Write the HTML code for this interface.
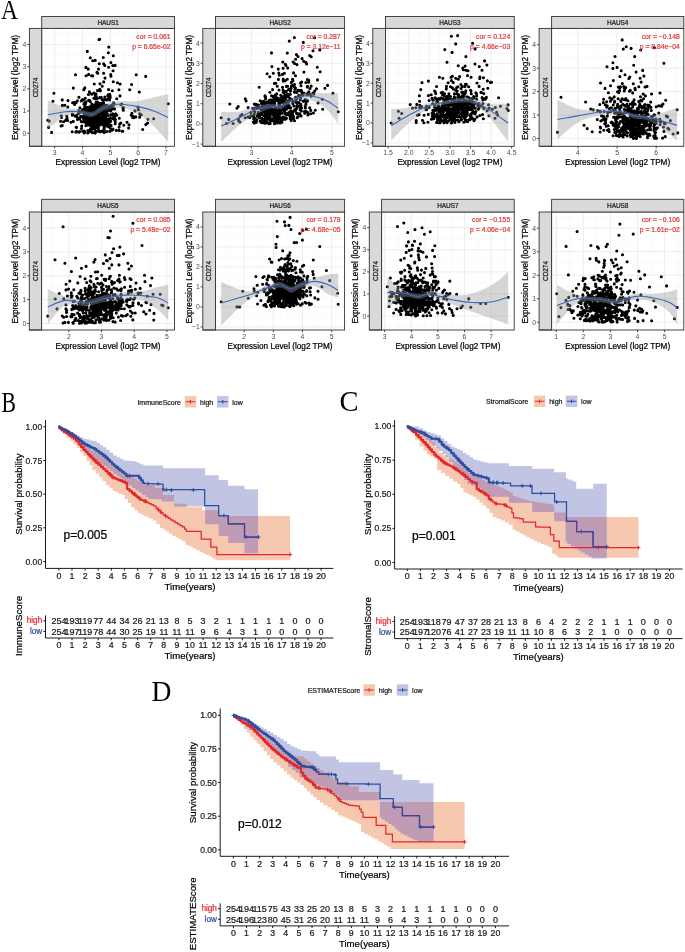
<!DOCTYPE html><html><head><meta charset="utf-8"><style>html,body{margin:0;padding:0;background:#fff;width:685px;height:952px;overflow:hidden}svg{display:block;will-change:transform;filter:blur(0.35px)}text{font-family:"Liberation Sans", sans-serif}</style></head><body>
<svg width="685" height="952" viewBox="0 0 685 952">
<rect width="685" height="952" fill="#fff"/>
<text transform="translate(0.9 18.8) scale(0.85 1)" style='font-family:"Liberation Serif", serif' font-size="27.7" fill="#000">A</text>
<rect x="41.7" y="28.4" width="132.8" height="117.9" fill="#fff"/>
<clipPath id="cHAUS1"><rect x="41.7" y="28.4" width="132.8" height="117.9"/></clipPath>
<line x1="54.7" y1="28.4" x2="54.7" y2="146.3" stroke="#ebebeb" stroke-width="0.9"/>
<line x1="68.6" y1="28.4" x2="68.6" y2="146.3" stroke="#f3f3f3" stroke-width="0.5"/>
<line x1="82.5" y1="28.4" x2="82.5" y2="146.3" stroke="#ebebeb" stroke-width="0.9"/>
<line x1="96.4" y1="28.4" x2="96.4" y2="146.3" stroke="#f3f3f3" stroke-width="0.5"/>
<line x1="110.3" y1="28.4" x2="110.3" y2="146.3" stroke="#ebebeb" stroke-width="0.9"/>
<line x1="124.2" y1="28.4" x2="124.2" y2="146.3" stroke="#f3f3f3" stroke-width="0.5"/>
<line x1="138.1" y1="28.4" x2="138.1" y2="146.3" stroke="#ebebeb" stroke-width="0.9"/>
<line x1="152" y1="28.4" x2="152" y2="146.3" stroke="#f3f3f3" stroke-width="0.5"/>
<line x1="165.9" y1="28.4" x2="165.9" y2="146.3" stroke="#ebebeb" stroke-width="0.9"/>
<line x1="41.7" y1="144.3" x2="174.5" y2="144.3" stroke="#f3f3f3" stroke-width="0.5"/>
<line x1="41.7" y1="133.2" x2="174.5" y2="133.2" stroke="#ebebeb" stroke-width="0.9"/>
<line x1="41.7" y1="122.1" x2="174.5" y2="122.1" stroke="#f3f3f3" stroke-width="0.5"/>
<line x1="41.7" y1="111" x2="174.5" y2="111" stroke="#ebebeb" stroke-width="0.9"/>
<line x1="41.7" y1="100" x2="174.5" y2="100" stroke="#f3f3f3" stroke-width="0.5"/>
<line x1="41.7" y1="88.9" x2="174.5" y2="88.9" stroke="#ebebeb" stroke-width="0.9"/>
<line x1="41.7" y1="77.8" x2="174.5" y2="77.8" stroke="#f3f3f3" stroke-width="0.5"/>
<line x1="41.7" y1="66.8" x2="174.5" y2="66.8" stroke="#ebebeb" stroke-width="0.9"/>
<line x1="41.7" y1="55.7" x2="174.5" y2="55.7" stroke="#f3f3f3" stroke-width="0.5"/>
<line x1="41.7" y1="44.6" x2="174.5" y2="44.6" stroke="#ebebeb" stroke-width="0.9"/>
<line x1="41.7" y1="33.5" x2="174.5" y2="33.5" stroke="#f3f3f3" stroke-width="0.5"/>
<path d="M99.5 112.4h0M103.7 116.4h0M113 129.1h0M91.7 94.3h0M104.5 105.4h0M120 95.9h0M91.6 112.9h0M103 106.5h0M99.8 89.2h0M99.2 90.6h0M104.1 130h0M133.7 117.7h0M89.8 122.4h0M95 118h0M85.9 119.1h0M86.1 75.8h0M106.3 122.5h0M65.6 120.3h0M89.4 91.8h0M94.1 119.1h0M96.5 111.3h0M93.9 115.4h0M107.9 115.6h0M105.4 125.7h0M72.3 114h0M79.6 118.9h0M94.8 110.7h0M68 100.6h0M141.3 114.8h0M98.3 111.1h0M100 83.7h0M86.5 117.2h0M64.8 105.2h0M110.4 118h0M102.2 123.4h0M82.7 116.5h0M84.3 120h0M60.6 121.2h0M106.6 99.9h0M98.5 106.3h0M81.7 126.1h0M90.3 121.8h0M95.8 123h0M88 107.2h0M95.5 120.4h0M97.2 106.4h0M114.4 115.9h0M91.9 118.3h0M72.2 131.7h0M108.8 47.1h0M99.3 113.1h0M89.1 114.6h0M102.9 118.8h0M110.8 121.2h0M104.2 128.9h0M86.9 109.9h0M105.3 115.3h0M96.2 121.1h0M103.3 57.5h0M93.6 117h0M96.9 118.7h0M98.8 103.3h0M138.5 109.8h0M89.9 123.4h0M98.2 127.7h0M92.2 120.2h0M123.8 125.2h0M103.2 117.1h0M112.3 90.7h0M109.6 100h0M107.3 113.9h0M93.8 119.7h0M89.2 112.8h0M97.5 90.5h0M98.7 118.5h0M96.7 110.7h0M66.8 116.3h0M128.6 128.1h0M110.1 96h0M92.4 132.3h0M72.6 102.7h0M121.8 104h0M90 119.3h0M85.8 101.9h0M103 99.7h0M83.9 89.8h0M90.7 122.5h0M96.4 111.3h0M100.4 90.7h0M100.6 118h0M104.2 113.9h0M98.7 120.6h0M101.6 105.4h0M96.7 103.5h0M105.8 105.2h0M131.6 84.5h0M95.2 130.5h0M108.6 106.6h0M85.3 98.3h0M120.9 104.5h0M82.7 111.9h0M104.1 123.1h0M95.3 112.8h0M102.4 107.7h0M96.8 106.2h0M99.8 120.7h0M88.6 112.1h0M94.1 121h0M122.2 131.2h0M95.4 106.1h0M90.3 129.4h0M147.9 119.2h0M63.6 121.7h0M104 120.6h0M117.5 82.8h0M84.2 131h0M99.5 113.1h0M100.6 117.5h0M77.6 118.1h0M137.9 107.1h0M110 107.7h0M84.6 102.8h0M74.5 102.2h0M101.9 113.7h0M84.8 131.9h0M87.5 116.3h0M89.5 118h0M88 117.5h0M88.9 123.4h0M91.9 125.9h0M93.3 110.9h0M101.1 109.1h0M92.8 127.9h0M98.9 113h0M94.8 119.4h0M88.9 121.6h0M102.8 111.6h0M93 106.7h0M96.5 122.8h0M86.4 117.7h0M111.9 130.3h0M86.2 123.5h0M95.9 121.8h0M99.1 105.9h0M61.6 117.5h0M75.3 116.2h0M94.4 123.4h0M67.6 120.4h0M98.9 111.9h0M97.3 98.5h0M103.8 124.5h0M84.5 115.4h0M87 109.1h0M88.4 118.5h0M119.7 124.1h0M91.7 108.7h0M100.7 105h0M92.7 127.3h0M77.4 100.8h0M96.4 123.1h0M104.4 114.5h0M94.3 116.5h0M86.2 112.8h0M98.5 121.5h0M81.4 101h0M101.9 103.4h0M113.9 118.3h0M91.8 104.1h0M91.6 75.8h0M95.3 107h0M95.8 111.3h0M95.3 98.6h0M96.1 110.9h0M97.9 116.7h0M77 116.5h0M109.1 124.3h0M91.3 131.3h0M115.4 119.6h0M93.3 127.7h0M108.1 94.8h0M62.3 105.4h0M95.3 95.5h0M88.1 123.3h0M105.4 99.6h0M87.8 132.9h0M99 39.6h0M89.5 125.3h0M97.2 126.6h0M82.6 117.4h0M97.9 116.4h0M90.2 101.4h0M110.9 108.8h0M100.3 107.2h0M72.3 115.2h0M96.8 119.4h0M94.7 106.5h0M75.9 132.1h0M97.9 125.8h0M101.3 121.3h0M93.3 111.5h0M93.8 93.1h0M111 129.8h0M86.9 116.5h0M103.5 103.4h0M110.2 97.6h0M96.2 121.8h0M111 76.2h0M113 129.4h0M87.8 119.2h0M93.8 124.7h0M84.5 108.6h0M90.6 124h0M94.3 116.5h0M91.4 117h0M95.2 133.1h0M105.8 119.3h0M102 99.6h0M108.3 52.8h0M93.4 111.3h0M95.6 96.9h0M104.8 97h0M103.1 124.7h0M93.5 110.1h0M115.2 123.8h0M89.5 109.3h0M107.9 106.5h0M96.2 102.1h0M101 114.1h0M109.3 118.7h0M88.6 100.4h0M88.7 111h0M100 122.5h0M103.6 73.2h0M107.1 125.9h0M79.9 107.8h0M104.7 65.4h0M83.8 117.2h0M103.3 115.2h0M145.8 124.6h0M92.9 108h0M89.7 92.2h0M94.8 126.1h0M98.2 124.3h0M82.1 99.7h0M112.5 107.3h0M91 119.9h0M82.7 131.3h0M95.2 60.4h0M76.3 115.6h0M106 108.4h0M73.3 121.4h0M67 117.9h0M98.6 115.8h0M113.6 108.1h0M109.9 131.2h0M92.2 116.9h0M88.7 114.8h0M97.1 109.7h0M111.2 105.3h0M94.4 128h0M88.7 123.5h0M79 132.2h0M131.2 115.3h0M87.2 116.7h0M110.7 74.6h0M76.5 127.4h0M102 104.6h0M109.7 94.2h0M104.4 116.3h0M103.5 102.4h0M93.8 98.3h0M97.9 131h0M103.5 110.8h0M96.5 107.2h0M90.2 122.3h0M89.9 131.4h0M83.3 99.7h0M75.5 74.7h0M80.6 116.2h0M62.3 125.5h0M73.1 114.8h0M92.4 124h0M111.1 125.4h0M85.5 110.6h0M88.3 132.4h0M100.3 131.6h0M109.8 121.7h0M98.5 69.1h0M84 104.2h0M97 72.4h0M123.2 108.4h0M105.3 112.7h0M97.7 115.8h0M103.4 114.8h0M92.3 124.7h0M104.7 110.8h0M89.4 109h0M99.3 63.8h0M99.7 108.5h0M93.6 126.6h0M91.1 129h0M95 115.3h0M92.1 117.7h0M114.1 104.5h0M97.6 119.4h0M93.8 121.4h0M139.6 117.2h0M87.3 51.4h0M99.3 109.9h0M112.7 104.7h0M135 110.9h0M89.2 108.3h0M129 124.8h0M89.2 124.3h0M113.8 118.1h0M97 121.9h0M83.9 121.7h0M96.1 126.4h0M122.8 107.6h0M108.8 110.2h0M82.8 110.2h0M77.5 119.5h0M108.5 89.6h0M93 126.4h0M108.6 126.7h0M87.1 123.3h0M88.2 113.2h0M108.3 119.1h0M91.8 128.4h0M95.1 98.6h0M115.7 113.8h0M73.3 88.1h0M100.6 123.9h0M84.5 118h0M102.1 121.7h0M87.4 121.3h0M100.7 118.8h0M110.6 111h0M76.1 102.6h0M98.7 104.3h0M86.6 112.9h0M101.7 121.5h0M84.7 121.3h0M92 120.6h0M98.2 107.9h0M120.8 123h0M97.1 115.8h0M88.2 69.1h0M135.7 116.9h0M98.5 106.3h0M94.3 84h0M81.4 128.5h0M103.9 106.4h0M97.8 73.2h0M101.2 97.2h0M96 93.8h0M113.1 70.8h0M87 108h0M83.9 89.6h0M92 112.6h0M102.4 115.5h0M105.3 106.5h0M89.9 108.3h0M147.6 123.1h0M67.8 107h0M107 111.2h0M102.7 116.5h0M85.6 106.9h0M102.6 109.7h0M95.2 105.3h0M115.3 122h0M81.5 111.2h0M91.6 128.1h0M113.1 118.7h0M84.3 132.9h0M90.3 57.7h0M101 114.1h0M108.4 107.6h0M133 116.2h0M78.4 113.5h0M101 104.5h0M109.9 125.6h0M108.6 67.2h0M99.7 39.3h0M88.4 123h0M110.2 118.8h0M70.9 122.2h0M106.5 123.6h0M101.6 120.9h0M89.7 116.3h0M52.9 101.2h0M103.3 125.2h0M95.4 113.5h0M116.4 130.4h0M114 103.5h0M81.3 121.6h0M113.4 116.4h0M98.5 106.8h0M145.7 76.4h0M107.8 95.7h0M84.2 113.6h0M89.3 100.4h0M98.7 103.4h0M102.7 116.6h0M80.4 112.1h0M93.7 108.6h0M104.8 119.1h0M108.2 98.7h0M106.9 131.5h0M110.9 62.6h0M76.1 127.3h0M103.2 119.2h0M85.8 122.3h0M103.6 63.8h0M85.9 122.8h0M105.8 122h0M104.1 132.5h0M114.6 117.9h0M104.4 115.2h0M97.5 123.4h0M96.5 105.9h0M96.9 123.8h0M113.6 102.7h0M101.9 116.3h0M61.2 115.8h0M114.9 120.2h0M86.9 122.9h0M91 126.1h0M99 104.4h0M90.5 106.9h0M118.9 89.7h0M91.9 118.5h0M112.8 65.6h0M122.8 131.2h0M94.7 129.1h0M114.5 108.9h0M101.6 124.1h0M62.2 99.9h0M99.7 97.5h0M92.5 113.1h0M91.5 111.5h0M88.4 94.5h0M94.2 106.7h0M120.1 84h0M103.8 129.1h0M99.6 103.3h0M92.6 123.2h0M96.9 118.7h0M104.3 127h0M115.4 114.3h0M104.5 124.4h0M84.8 87.9h0M85.9 67.4h0M92.1 107.7h0M92.4 132.7h0M94.8 114.2h0M98.1 116h0M112.7 113.7h0M96.9 127.2h0M108.5 108.6h0M112.1 109.1h0M97.1 116.7h0M110.7 114.9h0M129.7 89.8h0M92.7 112.6h0M98.8 125.3h0M96.6 113.2h0M131.9 113.4h0M76.5 131.3h0M97.7 125h0M98.7 119.1h0M93 104.9h0M96.3 107.3h0M82.9 118.1h0M98.7 122.5h0M87.9 130.5h0M119.3 118.2h0M127 122.3h0M96.1 108.8h0M113.9 118.6h0M94.3 108.8h0M100.9 117.2h0M113.3 81.7h0M139.7 113.9h0M119.1 127.1h0M95.6 132.1h0M105.3 113.5h0M92.7 60.7h0M95.2 108.3h0M97.1 115.4h0M85.9 125.6h0M97.8 116.1h0M106.3 106.3h0M98.8 119.7h0M97.9 127.5h0M93 124.1h0M99.6 125.2h0M92.6 128.7h0M98.5 129.5h0M96.7 114.4h0M99.5 107.3h0M102.2 86.2h0M116.7 98.7h0M86.8 110.4h0M85.7 103.6h0M105.2 119.5h0M78.9 97.2h0M102.3 114.2h0M101.6 117.1h0M98.7 115.4h0M84.8 107h0M91 122.1h0M92.2 116.4h0M88.7 74.4h0M49.2 121.1h0M98.5 124h0M103.6 124.6h0M98.6 120h0M103 121.9h0M86.9 115.1h0M104.8 110.7h0M101.5 131.2h0M82.2 109.7h0M110.1 128.1h0M116.8 115.3h0M89.6 112.1h0M108.5 123.5h0M108.8 119.8h0M109.4 124.6h0M78.7 110.8h0M96.2 120.2h0M108 126.4h0M119.2 130.4h0M97.5 102h0M90 106.8h0M110.5 108.3h0M101.4 112.1h0M113.1 115.4h0M61.1 126h0M91.1 106.2h0M96.6 112.6h0M105.2 125.3h0M105 78.1h0M103.1 123.5h0M95.6 108.6h0M92.7 75.9h0M74.6 104.5h0M86.7 125.3h0M97.5 121.3h0M107.2 105.5h0M86.4 116.5h0M81.6 111.8h0M94.2 107.3h0M83.1 121.8h0M105 118h0M108.1 120.9h0M103.5 121.6h0M51.6 132.4h0M95.9 103.7h0M98.5 116.8h0M79.7 131.5h0M123.5 107.7h0M105.7 117.2h0M104.7 111.5h0M91.7 119.9h0M97.1 125h0M115.1 65.4h0M112.3 114.5h0M123.3 110.3h0M96.2 96.3h0M99.9 112.2h0M101.1 107.2h0M102.5 115.2h0M104.2 108.8h0M136.2 74.8h0M103.7 81.9h0M132.7 117.4h0M113.3 55.7h0M95.3 128.6h0M99.2 131.6h0M47.8 120.3h0M48.6 127.4h0M53.9 93.3h0M168.2 103.8h0M153.7 118.8h0M142.7 129.5h0M139.3 92h0" stroke="#000" stroke-width="3.1" stroke-linecap="round" clip-path="url(#cHAUS1)"/>
<path d="M47.8 100.6 L48.7 101 L49.8 101.5 L51.1 102 L52.6 102.7 L54.2 103.4 L55.9 104.1 L57.7 104.8 L59.4 105.5 L61.1 106.2 L62.8 106.8 L64.3 107.3 L65.7 107.7 L66.9 108 L68.1 108.3 L69.3 108.4 L70.4 108.5 L71.5 108.6 L72.5 108.7 L73.6 108.7 L74.6 108.7 L75.6 108.8 L76.7 108.8 L77.7 108.9 L78.8 109 L79.9 109.2 L81 109.5 L82.1 109.8 L83.2 110.2 L84.3 110.6 L85.4 110.9 L86.5 111.2 L87.6 111.5 L88.7 111.7 L89.8 111.8 L90.9 111.8 L92 111.7 L93 111.4 L94.1 110.9 L95.2 110.3 L96.2 109.6 L97.3 108.9 L98.4 108.1 L99.4 107.2 L100.5 106.4 L101.6 105.6 L102.8 104.9 L103.9 104.3 L105.1 103.8 L106.3 103.4 L107.6 103 L108.9 102.7 L110.2 102.4 L111.5 102.2 L112.8 102 L114.2 101.8 L115.5 101.6 L116.9 101.5 L118.2 101.4 L119.5 101.3 L120.9 101.2 L122.2 101.1 L123.5 101 L124.8 101.1 L126.1 101.1 L127.4 101.1 L128.7 101.2 L130.1 101.3 L131.4 101.3 L132.7 101.3 L134 101.3 L135.3 101.3 L136.6 101.2 L137.9 101 L139.3 100.8 L140.6 100.5 L141.9 100.3 L143.2 100 L144.5 99.7 L145.8 99.4 L147.1 99 L148.4 98.7 L149.8 98.4 L151.1 98 L152.4 97.7 L153.8 97.4 L155.2 97.1 L156.7 96.8 L158.2 96.4 L159.8 96 L161.3 95.7 L162.7 95.3 L164.1 95 L165.3 94.7 L166.4 94.5 L167.4 94.2 L168.2 94.1 L168.2 141.9 L167.4 141 L166.4 140 L165.3 138.7 L164.1 137.3 L162.7 135.7 L161.3 134.1 L159.8 132.4 L158.2 130.7 L156.7 129.1 L155.2 127.5 L153.8 126.1 L152.4 124.8 L151.1 123.6 L149.8 122.5 L148.4 121.3 L147.1 120.2 L145.8 119.2 L144.5 118.2 L143.2 117.2 L141.9 116.2 L140.6 115.4 L139.3 114.5 L137.9 113.7 L136.6 113 L135.3 112.3 L134 111.6 L132.7 111 L131.4 110.4 L130.1 109.9 L128.7 109.4 L127.4 109 L126.1 108.6 L124.8 108.3 L123.5 108.1 L122.2 107.9 L120.9 107.7 L119.5 107.7 L118.2 107.7 L116.9 107.7 L115.5 107.9 L114.2 108.1 L112.8 108.3 L111.5 108.6 L110.2 108.9 L108.9 109.2 L107.6 109.6 L106.3 110 L105.1 110.4 L103.9 110.8 L102.8 111.3 L101.6 111.9 L100.5 112.6 L99.4 113.3 L98.4 114 L97.3 114.6 L96.2 115.3 L95.2 115.8 L94.1 116.3 L93 116.7 L92 116.9 L90.9 117 L89.8 117 L88.7 116.8 L87.6 116.6 L86.5 116.3 L85.4 115.9 L84.3 115.6 L83.2 115.2 L82.1 114.9 L81 114.6 L79.9 114.4 L78.8 114.3 L77.7 114.2 L76.7 114.1 L75.6 114.1 L74.6 114 L73.6 114 L72.5 114 L71.5 114 L70.4 114.1 L69.3 114.4 L68.1 114.7 L66.9 115.1 L65.7 115.6 L64.3 116.3 L62.8 117.3 L61.1 118.4 L59.4 119.6 L57.7 120.9 L55.9 122.3 L54.2 123.6 L52.6 124.9 L51.1 126.1 L49.8 127.2 L48.7 128.1 L47.8 128.7Z" fill="#999" fill-opacity="0.4" clip-path="url(#cHAUS1)"/>
<path d="M47.8 114.8 C50.8 114.3 60.5 112.2 65.7 111.7 C70.9 111.1 74.4 111.2 78.8 111.7 C83.2 112.1 88.5 114.6 92 114.3 C95.5 114 96.8 111.4 99.8 109.8 C102.9 108.3 106.8 106 110.4 105.1 C113.9 104.2 116.5 104.1 120.9 104.3 C125.2 104.5 131.4 105.4 136.6 106.4 C141.9 107.4 147.1 108.5 152.4 110.4 C157.6 112.2 165.5 116.3 168.2 117.4" fill="none" stroke="#3a68b8" stroke-width="1.1" clip-path="url(#cHAUS1)"/>
<text x="170.5" y="38.6" text-anchor="end" fill="#e03b3b" font-size="6.8" stroke="#e03b3b" stroke-width="0.22">cor = 0.061</text>
<text x="170.5" y="48.6" text-anchor="end" fill="#e03b3b" font-size="6.8" stroke="#e03b3b" stroke-width="0.22">p = 6.65e-02</text>
<rect x="41.7" y="28.4" width="132.8" height="117.9" fill="none" stroke="#333" stroke-width="0.9"/>
<rect x="41.7" y="16.5" width="132.8" height="11.9" fill="#d9d9d9" stroke="#333" stroke-width="0.9"/>
<text x="108.1" y="24.6" text-anchor="middle" fill="#1a1a1a" font-size="6.4" stroke="#1a1a1a" stroke-width="0.22">HAUS1</text>
<rect x="29.4" y="28.4" width="12.3" height="117.9" fill="#d9d9d9" stroke="#333" stroke-width="0.9"/>
<text transform="translate(37.8 87.4) rotate(-90)" text-anchor="middle" fill="#1a1a1a" font-size="6.4" stroke="#1a1a1a" stroke-width="0.22">CD274</text>
<line x1="54.7" y1="146.3" x2="54.7" y2="148.5" stroke="#333" stroke-width="0.9"/>
<text x="54.7" y="155.2" text-anchor="middle" fill="#4d4d4d" font-size="6.8">3</text>
<line x1="82.5" y1="146.3" x2="82.5" y2="148.5" stroke="#333" stroke-width="0.9"/>
<text x="82.5" y="155.2" text-anchor="middle" fill="#4d4d4d" font-size="6.8">4</text>
<line x1="110.3" y1="146.3" x2="110.3" y2="148.5" stroke="#333" stroke-width="0.9"/>
<text x="110.3" y="155.2" text-anchor="middle" fill="#4d4d4d" font-size="6.8">5</text>
<line x1="138.1" y1="146.3" x2="138.1" y2="148.5" stroke="#333" stroke-width="0.9"/>
<text x="138.1" y="155.2" text-anchor="middle" fill="#4d4d4d" font-size="6.8">6</text>
<line x1="165.9" y1="146.3" x2="165.9" y2="148.5" stroke="#333" stroke-width="0.9"/>
<text x="165.9" y="155.2" text-anchor="middle" fill="#4d4d4d" font-size="6.8">7</text>
<line x1="29.4" y1="146.3" x2="41.7" y2="146.3" stroke="#333" stroke-width="0.9"/>
<line x1="27.2" y1="133.2" x2="29.4" y2="133.2" stroke="#333" stroke-width="0.9"/>
<text x="26.4" y="135.6" text-anchor="end" fill="#4d4d4d" font-size="6.8">0</text>
<line x1="27.2" y1="111" x2="29.4" y2="111" stroke="#333" stroke-width="0.9"/>
<text x="26.4" y="113.4" text-anchor="end" fill="#4d4d4d" font-size="6.8">1</text>
<line x1="27.2" y1="88.9" x2="29.4" y2="88.9" stroke="#333" stroke-width="0.9"/>
<text x="26.4" y="91.3" text-anchor="end" fill="#4d4d4d" font-size="6.8">2</text>
<line x1="27.2" y1="66.8" x2="29.4" y2="66.8" stroke="#333" stroke-width="0.9"/>
<text x="26.4" y="69.2" text-anchor="end" fill="#4d4d4d" font-size="6.8">3</text>
<line x1="27.2" y1="44.6" x2="29.4" y2="44.6" stroke="#333" stroke-width="0.9"/>
<text x="26.4" y="47" text-anchor="end" fill="#4d4d4d" font-size="6.8">4</text>
<text x="108.1" y="165.3" text-anchor="middle" fill="#000" font-size="8.2" stroke="#000" stroke-width="0.22">Expression Level (log2 TPM)</text>
<text transform="translate(18.1 87.4) rotate(-90)" text-anchor="middle" fill="#000" font-size="8.2" stroke="#000" stroke-width="0.22">Expression Level (log2 TPM)</text>
<rect x="215.5" y="28.4" width="129.1" height="117.9" fill="#fff"/>
<clipPath id="cHAUS2"><rect x="215.5" y="28.4" width="129.1" height="117.9"/></clipPath>
<line x1="231.2" y1="28.4" x2="231.2" y2="146.3" stroke="#f3f3f3" stroke-width="0.5"/>
<line x1="251.4" y1="28.4" x2="251.4" y2="146.3" stroke="#ebebeb" stroke-width="0.9"/>
<line x1="271.6" y1="28.4" x2="271.6" y2="146.3" stroke="#f3f3f3" stroke-width="0.5"/>
<line x1="291.7" y1="28.4" x2="291.7" y2="146.3" stroke="#ebebeb" stroke-width="0.9"/>
<line x1="311.9" y1="28.4" x2="311.9" y2="146.3" stroke="#f3f3f3" stroke-width="0.5"/>
<line x1="332" y1="28.4" x2="332" y2="146.3" stroke="#ebebeb" stroke-width="0.9"/>
<line x1="215.5" y1="144.1" x2="344.6" y2="144.1" stroke="#ebebeb" stroke-width="0.9"/>
<line x1="215.5" y1="134" x2="344.6" y2="134" stroke="#f3f3f3" stroke-width="0.5"/>
<line x1="215.5" y1="123.9" x2="344.6" y2="123.9" stroke="#ebebeb" stroke-width="0.9"/>
<line x1="215.5" y1="113.8" x2="344.6" y2="113.8" stroke="#f3f3f3" stroke-width="0.5"/>
<line x1="215.5" y1="103.7" x2="344.6" y2="103.7" stroke="#ebebeb" stroke-width="0.9"/>
<line x1="215.5" y1="93.6" x2="344.6" y2="93.6" stroke="#f3f3f3" stroke-width="0.5"/>
<line x1="215.5" y1="83.5" x2="344.6" y2="83.5" stroke="#ebebeb" stroke-width="0.9"/>
<line x1="215.5" y1="73.4" x2="344.6" y2="73.4" stroke="#f3f3f3" stroke-width="0.5"/>
<line x1="215.5" y1="63.3" x2="344.6" y2="63.3" stroke="#ebebeb" stroke-width="0.9"/>
<line x1="215.5" y1="53.2" x2="344.6" y2="53.2" stroke="#f3f3f3" stroke-width="0.5"/>
<line x1="215.5" y1="43.1" x2="344.6" y2="43.1" stroke="#ebebeb" stroke-width="0.9"/>
<line x1="215.5" y1="33" x2="344.6" y2="33" stroke="#f3f3f3" stroke-width="0.5"/>
<path d="M269.1 123.6h0M269.7 114h0M270.9 104.1h0M308.9 91.8h0M273.1 120h0M288.5 114.8h0M313.4 113h0M253.9 115.3h0M278.8 110.2h0M276.2 122.7h0M286.6 106h0M286 108h0M271.9 111.3h0M266.6 116.8h0M280.7 110.8h0M274.5 123.8h0M286.4 106.7h0M268.7 109.5h0M277 110.8h0M265.5 121h0M300.6 82.9h0M277.7 100.9h0M279.3 122.3h0M280.2 106.2h0M285.2 107.5h0M290.5 115.2h0M298.8 102.6h0M257.1 107.8h0M256.1 107.4h0M269.9 92.2h0M308.7 80.3h0M307.6 86.3h0M287.7 104.3h0M283.7 99.7h0M278 113.6h0M278.8 111.9h0M293.1 85.2h0M285.4 119.2h0M262.8 108.5h0M270.8 112.7h0M239.9 122h0M295.9 101h0M267 118.6h0M263.4 105.7h0M269.2 100.3h0M286.5 118.3h0M272.9 120h0M290.5 108h0M254.5 120.7h0M288.3 102.5h0M259.2 87.3h0M274.5 102.5h0M277.3 123h0M289.3 106.4h0M307.6 95h0M294.5 120.7h0M279.4 75.2h0M297.2 117.7h0M272.4 109.1h0M266.9 121.7h0M282.9 102.8h0M273.4 97h0M288.6 89.4h0M274.4 109.9h0M310 88.5h0M300.1 109.8h0M258.3 112.2h0M248.1 107.6h0M311.2 86.1h0M276.4 97.4h0M297.9 90.3h0M275.5 94.7h0M267.2 111.2h0M238.2 106.5h0M315.3 110.2h0M236.9 108.3h0M265.6 97.3h0M295.5 88.1h0M279.6 118.8h0M280.3 110.2h0M272.5 104.3h0M268.6 117.4h0M263.6 106.9h0M274.4 105.4h0M238.4 118.9h0M249.7 117.6h0M265.4 118.2h0M284.6 92.1h0M283.1 98.3h0M266.1 108.5h0M316.5 88.7h0M277.4 120.8h0M308.7 82.2h0M266.1 105.5h0M273.1 118.8h0M270.5 107.4h0M270.7 103.7h0M267.6 109.2h0M290.3 91.1h0M278.8 73.1h0M296.4 54.6h0M272.6 104.1h0M267.2 106.3h0M290.1 112.5h0M282.9 117h0M294.9 109.5h0M276.2 107.9h0M270.4 111.7h0M296.7 98.8h0M283 106.3h0M280.6 101h0M264.8 110.1h0M238.6 120.7h0M284.3 101.5h0M279.4 104.9h0M273.8 116.4h0M295.8 109.7h0M294.5 84.5h0M284.2 110.2h0M276.1 100.5h0M267.2 110.3h0M273.3 73.2h0M296.1 108.9h0M267.8 114.8h0M317.3 67.3h0M299.5 96.7h0M251 115.8h0M269.6 104.2h0M260.4 108.9h0M254.3 114.3h0M274.5 112.1h0M283.4 119.2h0M290.5 98.9h0M287.3 79.2h0M298 56.5h0M261.4 103.6h0M292.9 101.2h0M268.7 101.3h0M281.2 113.1h0M291.3 82.4h0M266.4 119.9h0M273 120.8h0M271.2 109.3h0M283.2 81.1h0M258 107.6h0M283.1 92.2h0M269.8 76.8h0M296.5 108.6h0M272.3 112h0M288 100.9h0M240.5 115.7h0M280.3 110.3h0M265.6 122.6h0M283.2 79.1h0M275.9 120.3h0M300.7 104.3h0M278.6 108.5h0M284 103h0M324.9 88.2h0M278.8 110.9h0M260.2 100.7h0M310.7 113.8h0M297 64.6h0M283.1 101.2h0M284.1 93h0M290.1 116.7h0M272.7 112.5h0M286.3 107.2h0M271.9 66.6h0M262 119.7h0M264.3 123h0M289.3 41.1h0M279.5 110.1h0M265.6 122.3h0M287.4 93.9h0M281.3 99.3h0M253.4 122h0M277 113.8h0M261.3 101.5h0M288.4 96.4h0M284.7 99.6h0M271.5 52.9h0M276.7 112.8h0M276.7 99.5h0M272.9 109.6h0M294.9 89.2h0M307.1 101.2h0M272.4 102.6h0M254.7 112h0M275 108.1h0M267.1 73.8h0M285.4 113.1h0M268 118.5h0M285.6 102.3h0M282 118.7h0M297.7 102.7h0M304.4 111.6h0M262.9 105.2h0M291.9 117.2h0M254.4 104.1h0M281.3 106.9h0M269 113.5h0M256.6 119.9h0M266 112.7h0M290.5 115.3h0M298.1 116.4h0M256.1 104.3h0M253.3 108.6h0M272 100.7h0M290.2 118.8h0M277 121.8h0M276.3 122.8h0M269 105.8h0M283.9 102.3h0M279.8 122.1h0M302.1 58.6h0M264.5 115.3h0M301.1 115.9h0M305.2 106.3h0M301.4 90.2h0M301.6 108h0M283.7 110.3h0M270.1 117.8h0M254.1 122.9h0M294.4 110.4h0M281.9 122.3h0M303.7 61.2h0M255.4 120.1h0M283.3 98.4h0M268.9 123.8h0M286.1 97.2h0M307.7 112.5h0M299.6 113.8h0M286.3 106.2h0M270.4 103.7h0M282.9 109.4h0M249.8 116.9h0M276.8 93.9h0M267 107.4h0M277.5 119.6h0M273.7 112.6h0M246.1 100.9h0M317.5 79.9h0M266 104.9h0M284.4 92.4h0M266 116.4h0M294.4 92.1h0M285.1 114.1h0M293.6 72.9h0M284.2 104.5h0M273.9 121.2h0M282.8 107.9h0M251 112.7h0M270.3 102.4h0M301.3 111.1h0M261.5 122.6h0M300.4 97.5h0M285.2 117.8h0M267 110h0M292.7 103h0M298.6 113.8h0M259.3 113.6h0M280.5 117.9h0M285.3 64.3h0M254.9 122.7h0M264 122.4h0M270.2 110.9h0M260.1 121.2h0M257.8 114.1h0M264.7 112.3h0M267.9 102.8h0M265 95.9h0M291.4 111.2h0M292.8 103.6h0M284.7 95.8h0M272.7 111.3h0M283.8 106.3h0M267.8 113h0M274.5 100.7h0M281.8 121.8h0M260.3 113.2h0M274.5 83.4h0M284.8 110.9h0M245.3 98.8h0M294.6 63.5h0M270.2 108.4h0M266.2 114.5h0M263.5 102.5h0M280.1 111.9h0M282.8 62h0M279 111.9h0M305.2 99.5h0M278.7 101.5h0M286.2 91.3h0M280.1 102.6h0M278.6 109.3h0M289.1 114.3h0M254 118.9h0M266.9 108.8h0M265.2 97.3h0M293.4 111.5h0M271.5 106.4h0M299.8 95.9h0M266.1 109.6h0M292.9 118.2h0M290.7 114.3h0M269.6 111.2h0M322.7 109.2h0M253.1 115.8h0M292.1 99.6h0M280.2 110.6h0M294.4 37.6h0M280.2 119.5h0M320.1 71.8h0M283.6 99.7h0M261.6 113h0M261.1 113.6h0M256 107.3h0M280.8 102.7h0M300.6 98.3h0M268.3 114.2h0M277.1 117.4h0M280.2 123h0M306 111.2h0M277.9 112.9h0M263.2 106.2h0M289.1 105.6h0M268.9 115.8h0M282.9 102h0M283.3 119.2h0M270.7 119.5h0M291.1 87.9h0M269.6 120h0M284.2 111h0M274.6 117.2h0M278.2 116h0M263.4 101.3h0M277.2 121.9h0M283.8 117.4h0M276 112.1h0M297.1 103.4h0M296.7 103.1h0M228.7 119.4h0M257.3 116h0M305.4 107.9h0M274.9 104.3h0M304.7 113.3h0M266.3 119.9h0M293.9 106h0M307.9 114.9h0M286.9 109h0M278.7 98.6h0M278.4 79.4h0M309.7 55.5h0M285.9 65.4h0M289.3 106.3h0M286.7 105.4h0M300.3 99.8h0M279 115.6h0M263 110.8h0M318.1 102.9h0M269 110.5h0M290.8 90.8h0M270 123.3h0M278.8 105.4h0M305.9 82.5h0M294.4 86.7h0M261.2 107.2h0M281.4 100.6h0M292.9 117h0M274.2 104.1h0M275.7 98.1h0M256 104.8h0M257 108.1h0M274.9 104.5h0M265.5 123.3h0M289.7 111.9h0M274.4 101.9h0M281.5 97.2h0M301.7 95.3h0M267.4 114.9h0M305.3 106.6h0M283.5 101.9h0M298.7 90.2h0M263.7 105.3h0M282.1 113.1h0M295.8 101.8h0M279.9 105.7h0M279 90h0M304.7 100.7h0M287.9 107.7h0M287 108.7h0M283.1 68.3h0M287.7 68h0M268.7 114.7h0M279.1 115.8h0M301 85.7h0M305.9 104.4h0M289.8 100.1h0M284.7 96.2h0M261.6 110.6h0M296.7 108.2h0M291.2 120.6h0M284.4 73.3h0M279.9 103.8h0M296.5 112.9h0M309.7 107.8h0M253.7 118.7h0M286.4 86.4h0M291.5 85.9h0M314.6 37.8h0M281.8 118.6h0M282.5 87.3h0M270.3 117.5h0M313 93.1h0M295.5 75.8h0M293.2 62h0M271.5 95.8h0M290.8 110.9h0M259.2 117.9h0M282.4 74.4h0M311.1 96.1h0M267.6 117.9h0M270.6 114.5h0M248.1 116.9h0M266 112.7h0M273.8 96.4h0M279.3 99.2h0M265.4 102.8h0M310.1 94.4h0M299 106.3h0M298.3 96.1h0M273 110.9h0M287.5 114.3h0M290.3 94.3h0M270.2 123.4h0M290.6 107.7h0M288.5 112.7h0M263.8 122.6h0M300.2 109.4h0M305.8 62.2h0M306.5 101.7h0M296.6 113.6h0M265 105.6h0M254 110.8h0M292.7 101h0M272.6 89.6h0M303.9 72.1h0M267.9 116.3h0M304.4 101.2h0M262 118.2h0M291.9 111.8h0M256.4 122.3h0M280 119.2h0M264.8 119.4h0M258.5 105h0M261.3 120.9h0M265.4 119.4h0M283.7 106.7h0M273.4 114.2h0M269.5 106.7h0M279.4 105.4h0M278.7 112.3h0M253.8 117h0M279.9 114.1h0M266.2 111.8h0M292.5 114h0M251 112.4h0M270.9 99.8h0M310.7 110.4h0M255.2 118.4h0M287.6 113.6h0M303.1 101.2h0M279.5 104.4h0M285.2 97.3h0M270.7 105.3h0M278.4 108.8h0M264.7 108.2h0M266.6 122.2h0M307.5 100.9h0M277.4 108.6h0M294.8 92.3h0M273.7 99.4h0M303.3 42.4h0M307.4 79.6h0M292.9 80.8h0M287.6 86.2h0M262.8 119.5h0M302.6 95.1h0M261.7 107.1h0M283.3 107.5h0M266.2 102.2h0M261.6 114.5h0M242 114.5h0M271.8 112.3h0M293.5 116.3h0M273 110.2h0M275.8 83.3h0M300.9 105.7h0M286.9 114.8h0M313 50.8h0M279.1 114h0M265.8 116.6h0M269.5 110.7h0M263.8 115.7h0M270.4 103.5h0M297.8 90.6h0M284.5 101.7h0M277.2 86.2h0M280.6 106.5h0M270.5 110.7h0M297.4 117.2h0M245.2 117.7h0M285.5 98.9h0M271.1 104.7h0M269.3 115h0M262.9 111.2h0M311.2 56.7h0M284 110.2h0M229.8 104h0M267.7 117.4h0M258.3 106.4h0M278.9 104h0M278.8 108.3h0M306.6 63.9h0M314.7 91.1h0M284.3 118.1h0M322.3 99.3h0M269.3 101.8h0M270.8 107.6h0M277.4 100.7h0M307.3 87.1h0M300.1 90.7h0M292.6 79.2h0M279.1 111.7h0M289.8 98.4h0M278.3 69.1h0M273.2 114.6h0M279.4 103h0M283.9 102.3h0M281.3 112.8h0M273.7 105.3h0M268.6 108.1h0M303.9 93h0M270.5 121h0M313.8 94.1h0M252.7 108.3h0M263.5 112.1h0M301.7 92.3h0M269.3 108.4h0M287.3 53.1h0M274.9 114.9h0M296.9 106.1h0M269.5 115.8h0M259.6 116.4h0M276.2 119.4h0M301.7 82h0M280.7 95.2h0M267.8 109.6h0M267.6 111h0M300.6 108.9h0M308.3 92.8h0M295.5 97.3h0M285.5 95.3h0M275.4 116h0M296.8 92.5h0M283.1 90h0M306.7 94.1h0M295.6 59.2h0M281.7 121.1h0M293.6 118.6h0M282.2 96.5h0M275.4 111.1h0M290.7 113.2h0M285.2 80.8h0M270.2 115.4h0M277.4 117.4h0M298.8 95.4h0M271.5 107.8h0M265.6 99h0M221.2 117.7h0M226.5 123.5h0M233.1 123.5h0M338.2 111.7h0M327.6 85.4h0M332.9 93.3h0M319.8 49.9h0" stroke="#000" stroke-width="3.1" stroke-linecap="round" clip-path="url(#cHAUS2)"/>
<path d="M221.2 111.7 L222.1 111.7 L223.1 111.7 L224.3 111.8 L225.7 111.9 L227.2 111.9 L228.8 112 L230.4 112 L232.1 112.1 L233.7 112 L235.3 112 L236.9 111.8 L238.3 111.7 L239.7 111.4 L241 111.1 L242.3 110.7 L243.7 110.2 L245 109.7 L246.3 109.2 L247.6 108.7 L248.9 108.2 L250.2 107.7 L251.5 107.2 L252.8 106.8 L254.1 106.4 L255.4 106.1 L256.8 105.8 L258.1 105.5 L259.5 105.2 L260.9 105 L262.3 104.8 L263.6 104.6 L265 104.4 L266.3 104.2 L267.5 104 L268.7 103.9 L269.8 103.8 L270.9 103.7 L271.9 103.7 L272.8 103.7 L273.7 103.8 L274.6 103.9 L275.4 103.9 L276.2 104 L277 104.1 L277.8 104.1 L278.7 104.1 L279.5 104 L280.4 103.8 L281.2 103.5 L282.1 103.2 L282.9 102.8 L283.8 102.4 L284.6 102 L285.4 101.5 L286.3 101 L287.2 100.5 L288 100 L289 99.5 L289.9 99 L290.9 98.5 L291.9 98.1 L292.9 97.6 L294 97.1 L295 96.6 L296.1 96.1 L297.3 95.6 L298.4 95.1 L299.5 94.6 L300.7 94.2 L301.8 93.8 L302.9 93.5 L304 93.3 L305.1 93.1 L306.1 93 L307.1 92.9 L308.1 92.9 L309.1 92.9 L310.1 92.9 L311.1 93 L312.2 93.1 L313.3 93.2 L314.5 93.2 L315.8 93.3 L317.1 93.3 L318.7 93.3 L320.4 93.3 L322.3 93.3 L324.3 93.3 L326.4 93.3 L328.5 93.3 L330.5 93.3 L332.4 93.3 L334.2 93.3 L335.8 93.3 L337.1 93.3 L338.2 93.3 L338.2 123.5 L337.6 122.8 L337 122 L336.3 121 L335.4 119.9 L334.5 118.7 L333.6 117.4 L332.6 116.1 L331.5 114.8 L330.5 113.6 L329.5 112.4 L328.6 111.3 L327.6 110.4 L326.8 109.5 L325.9 108.7 L325.1 107.9 L324.2 107.1 L323.4 106.4 L322.6 105.8 L321.7 105.1 L320.8 104.5 L319.9 103.9 L319 103.4 L318.1 102.9 L317.1 102.5 L316.1 102 L315.1 101.7 L314 101.3 L313 101 L311.8 100.7 L310.7 100.4 L309.6 100.2 L308.5 100 L307.3 99.9 L306.2 99.8 L305.1 99.8 L304 99.8 L302.9 99.9 L301.8 100.1 L300.7 100.3 L299.5 100.6 L298.4 101 L297.3 101.3 L296.1 101.7 L295 102.1 L294 102.6 L292.9 103 L291.9 103.4 L290.9 103.8 L289.9 104.2 L289 104.6 L288 105.1 L287.2 105.6 L286.3 106.1 L285.4 106.7 L284.6 107.2 L283.8 107.6 L282.9 108.1 L282.1 108.5 L281.2 108.8 L280.4 109 L279.5 109.2 L278.7 109.3 L277.8 109.3 L277 109.2 L276.2 109.1 L275.4 109 L274.6 108.8 L273.7 108.7 L272.8 108.7 L271.9 108.7 L270.9 108.8 L269.8 109 L268.7 109.3 L267.5 109.7 L266.3 110.1 L265 110.6 L263.6 111.1 L262.3 111.7 L260.9 112.3 L259.5 112.9 L258.1 113.5 L256.8 114.2 L255.4 114.9 L254.1 115.6 L252.8 116.3 L251.5 117.1 L250.2 117.8 L248.9 118.6 L247.6 119.4 L246.3 120.3 L245 121.2 L243.7 122.1 L242.3 123 L241 124 L239.7 125 L238.3 126.1 L236.9 127.3 L235.3 128.6 L233.7 130.1 L232.1 131.6 L230.4 133.1 L228.8 134.7 L227.2 136.2 L225.7 137.6 L224.3 138.9 L223.1 140.1 L222.1 141.1 L221.2 141.9Z" fill="#999" fill-opacity="0.4" clip-path="url(#cHAUS2)"/>
<path d="M221.2 126.1 C224.1 124.8 232.8 120.9 238.3 118.2 C243.8 115.6 248.8 112.3 254.1 110.4 C259.3 108.4 265.5 107.1 269.8 106.4 C274.2 105.8 276.8 107.3 280.4 106.4 C283.9 105.5 286.9 102.9 290.9 101.2 C294.8 99.4 299.6 96.6 304 95.9 C308.4 95.2 313.2 96.3 317.1 97.2 C321.1 98.1 324.1 99.3 327.6 101.2 C331.1 103 336.4 107.1 338.2 108.3" fill="none" stroke="#3a68b8" stroke-width="1.1" clip-path="url(#cHAUS2)"/>
<text x="340.6" y="38.6" text-anchor="end" fill="#e03b3b" font-size="6.8" stroke="#e03b3b" stroke-width="0.22">cor = 0.287</text>
<text x="340.6" y="48.6" text-anchor="end" fill="#e03b3b" font-size="6.8" stroke="#e03b3b" stroke-width="0.22">p = 3.12e−11</text>
<rect x="215.5" y="28.4" width="129.1" height="117.9" fill="none" stroke="#333" stroke-width="0.9"/>
<rect x="215.5" y="16.5" width="129.1" height="11.9" fill="#d9d9d9" stroke="#333" stroke-width="0.9"/>
<text x="280.1" y="24.6" text-anchor="middle" fill="#1a1a1a" font-size="6.4" stroke="#1a1a1a" stroke-width="0.22">HAUS2</text>
<rect x="202.8" y="28.4" width="12.7" height="117.9" fill="#d9d9d9" stroke="#333" stroke-width="0.9"/>
<text transform="translate(211.3 87.4) rotate(-90)" text-anchor="middle" fill="#1a1a1a" font-size="6.4" stroke="#1a1a1a" stroke-width="0.22">CD274</text>
<line x1="251.4" y1="146.3" x2="251.4" y2="148.5" stroke="#333" stroke-width="0.9"/>
<text x="251.4" y="155.2" text-anchor="middle" fill="#4d4d4d" font-size="6.8">3</text>
<line x1="291.7" y1="146.3" x2="291.7" y2="148.5" stroke="#333" stroke-width="0.9"/>
<text x="291.7" y="155.2" text-anchor="middle" fill="#4d4d4d" font-size="6.8">4</text>
<line x1="332" y1="146.3" x2="332" y2="148.5" stroke="#333" stroke-width="0.9"/>
<text x="332" y="155.2" text-anchor="middle" fill="#4d4d4d" font-size="6.8">5</text>
<line x1="202.8" y1="146.3" x2="215.5" y2="146.3" stroke="#333" stroke-width="0.9"/>
<line x1="200.6" y1="144.1" x2="202.8" y2="144.1" stroke="#333" stroke-width="0.9"/>
<text x="199.8" y="146.5" text-anchor="end" fill="#4d4d4d" font-size="6.8">−1</text>
<line x1="200.6" y1="123.9" x2="202.8" y2="123.9" stroke="#333" stroke-width="0.9"/>
<text x="199.8" y="126.3" text-anchor="end" fill="#4d4d4d" font-size="6.8">0</text>
<line x1="200.6" y1="103.7" x2="202.8" y2="103.7" stroke="#333" stroke-width="0.9"/>
<text x="199.8" y="106.1" text-anchor="end" fill="#4d4d4d" font-size="6.8">1</text>
<line x1="200.6" y1="83.5" x2="202.8" y2="83.5" stroke="#333" stroke-width="0.9"/>
<text x="199.8" y="85.9" text-anchor="end" fill="#4d4d4d" font-size="6.8">2</text>
<line x1="200.6" y1="63.3" x2="202.8" y2="63.3" stroke="#333" stroke-width="0.9"/>
<text x="199.8" y="65.7" text-anchor="end" fill="#4d4d4d" font-size="6.8">3</text>
<line x1="200.6" y1="43.1" x2="202.8" y2="43.1" stroke="#333" stroke-width="0.9"/>
<text x="199.8" y="45.5" text-anchor="end" fill="#4d4d4d" font-size="6.8">4</text>
<text x="280.1" y="165.3" text-anchor="middle" fill="#000" font-size="8.2" stroke="#000" stroke-width="0.22">Expression Level (log2 TPM)</text>
<text transform="translate(191.5 87.4) rotate(-90)" text-anchor="middle" fill="#000" font-size="8.2" stroke="#000" stroke-width="0.22">Expression Level (log2 TPM)</text>
<rect x="385.5" y="28.4" width="128.7" height="117.9" fill="#fff"/>
<clipPath id="cHAUS3"><rect x="385.5" y="28.4" width="128.7" height="117.9"/></clipPath>
<line x1="388.1" y1="28.4" x2="388.1" y2="146.3" stroke="#ebebeb" stroke-width="0.9"/>
<line x1="398.4" y1="28.4" x2="398.4" y2="146.3" stroke="#f3f3f3" stroke-width="0.5"/>
<line x1="408.7" y1="28.4" x2="408.7" y2="146.3" stroke="#ebebeb" stroke-width="0.9"/>
<line x1="419" y1="28.4" x2="419" y2="146.3" stroke="#f3f3f3" stroke-width="0.5"/>
<line x1="429.3" y1="28.4" x2="429.3" y2="146.3" stroke="#ebebeb" stroke-width="0.9"/>
<line x1="439.6" y1="28.4" x2="439.6" y2="146.3" stroke="#f3f3f3" stroke-width="0.5"/>
<line x1="449.9" y1="28.4" x2="449.9" y2="146.3" stroke="#ebebeb" stroke-width="0.9"/>
<line x1="460.2" y1="28.4" x2="460.2" y2="146.3" stroke="#f3f3f3" stroke-width="0.5"/>
<line x1="470.5" y1="28.4" x2="470.5" y2="146.3" stroke="#ebebeb" stroke-width="0.9"/>
<line x1="480.8" y1="28.4" x2="480.8" y2="146.3" stroke="#f3f3f3" stroke-width="0.5"/>
<line x1="491.1" y1="28.4" x2="491.1" y2="146.3" stroke="#ebebeb" stroke-width="0.9"/>
<line x1="501.4" y1="28.4" x2="501.4" y2="146.3" stroke="#f3f3f3" stroke-width="0.5"/>
<line x1="511.7" y1="28.4" x2="511.7" y2="146.3" stroke="#ebebeb" stroke-width="0.9"/>
<line x1="385.5" y1="142.9" x2="514.2" y2="142.9" stroke="#ebebeb" stroke-width="0.9"/>
<line x1="385.5" y1="132.9" x2="514.2" y2="132.9" stroke="#f3f3f3" stroke-width="0.5"/>
<line x1="385.5" y1="123" x2="514.2" y2="123" stroke="#ebebeb" stroke-width="0.9"/>
<line x1="385.5" y1="113" x2="514.2" y2="113" stroke="#f3f3f3" stroke-width="0.5"/>
<line x1="385.5" y1="103.1" x2="514.2" y2="103.1" stroke="#ebebeb" stroke-width="0.9"/>
<line x1="385.5" y1="93.2" x2="514.2" y2="93.2" stroke="#f3f3f3" stroke-width="0.5"/>
<line x1="385.5" y1="83.2" x2="514.2" y2="83.2" stroke="#ebebeb" stroke-width="0.9"/>
<line x1="385.5" y1="73.2" x2="514.2" y2="73.2" stroke="#f3f3f3" stroke-width="0.5"/>
<line x1="385.5" y1="63.3" x2="514.2" y2="63.3" stroke="#ebebeb" stroke-width="0.9"/>
<line x1="385.5" y1="53.4" x2="514.2" y2="53.4" stroke="#f3f3f3" stroke-width="0.5"/>
<line x1="385.5" y1="43.4" x2="514.2" y2="43.4" stroke="#ebebeb" stroke-width="0.9"/>
<line x1="385.5" y1="33.5" x2="514.2" y2="33.5" stroke="#f3f3f3" stroke-width="0.5"/>
<path d="M465.9 108.1h0M441.6 108.2h0M459.2 97.1h0M447 122.6h0M451.4 80.6h0M460.9 84.6h0M429.1 100.5h0M451.2 114h0M443.3 111.3h0M451.1 77.2h0M462.1 96.2h0M419.8 105.4h0M450.5 96.6h0M444.9 120.3h0M441 114h0M479.9 77h0M460 101.8h0M440.9 110.4h0M429 106.9h0M452 100.2h0M454.3 96.7h0M461 88.5h0M423.9 122.7h0M483.5 77.7h0M438.2 115.5h0M488.9 115.7h0M477.9 103.9h0M473.3 105.2h0M464 112.6h0M446.8 96.5h0M443.1 120.8h0M466.4 120.3h0M443 103h0M473.9 97.8h0M455.2 106h0M462.3 106h0M419.1 114.6h0M457.2 110.3h0M433.9 118.1h0M444.5 96h0M468 70.7h0M462.7 105.7h0M459.3 109.2h0M474.8 119.4h0M481.3 92.5h0M453.4 112.5h0M457.9 86.7h0M471.1 77.3h0M456.4 116.5h0M467.8 108.4h0M466.1 116.4h0M420.6 106.9h0M500.5 106.3h0M447.6 100.3h0M436.7 102.2h0M426.7 109.5h0M477.1 116.9h0M465.8 91h0M462.5 105.5h0M464.7 94h0M433.8 117.5h0M454.8 102.6h0M452.6 110.3h0M460.8 104.1h0M447.3 111.9h0M442.5 92.3h0M466.5 104.7h0M428.4 95.6h0M472.9 118.7h0M447.9 109.8h0M428.3 114.4h0M446.5 109.1h0M436.8 99.4h0M439.3 111.9h0M458.4 99.6h0M441.1 110.4h0M436.3 109.4h0M457.5 102.5h0M449.4 104.9h0M442.8 78.2h0M444.2 108.8h0M470.6 114.3h0M453.9 114.2h0M439.9 99.2h0M458.3 102.5h0M453.2 88.9h0M444.1 103.1h0M444.1 94.3h0M471 91.1h0M442.5 109.6h0M459.6 100.4h0M450 104.5h0M456.8 102.7h0M477 83h0M438.6 105.8h0M432.6 103.7h0M454 107.6h0M442.9 111.8h0M463.4 106.5h0M439.4 77.3h0M419.6 101.3h0M429.1 107.5h0M465.9 56.6h0M460.9 97.2h0M444.2 117h0M455.7 111h0M452.7 104.8h0M460.7 108.4h0M470.2 116.2h0M485.5 99.3h0M446.5 86.4h0M445.4 117.5h0M457.1 93.7h0M449.8 119.5h0M442.7 98.6h0M460.6 114h0M425.9 109.8h0M468.5 103.7h0M467.4 114.8h0M495.3 107.5h0M483.8 108.4h0M444.1 117.7h0M454.6 99.8h0M465.4 84.4h0M492.4 109.2h0M466.3 84.4h0M463.5 111.2h0M398.4 111.2h0M475.8 111.5h0M462.1 98.7h0M470.9 115.6h0M440.7 120.6h0M451.6 111.3h0M444 122.8h0M472.6 108.6h0M462.1 113.9h0M452.4 76.3h0M460.5 105.4h0M460 98.3h0M455.7 43.9h0M433.3 100.3h0M464 104.3h0M484.5 98.8h0M451 105.3h0M447.1 114.2h0M471 118.1h0M437.5 119.7h0M460.5 104.9h0M458.1 96.4h0M454.1 107.7h0M447.9 115.5h0M463.7 102.7h0M481.7 105.9h0M435.2 116.2h0M448.4 109.3h0M436.3 98.7h0M460 97.1h0M448.1 105.7h0M463.3 69.7h0M416.8 104.4h0M462.7 109.6h0M449 108h0M483.4 118.7h0M487.4 80.9h0M445.4 105h0M432.8 110.4h0M436.9 101.8h0M464.6 102.4h0M448.1 99.5h0M454.5 105.8h0M464.4 100.5h0M467.3 112.9h0M466.9 107h0M455.9 105.9h0M473.9 106.7h0M450.5 86.7h0M415.8 107.8h0M443.7 99.7h0M459.6 76.6h0M447 117.9h0M466.6 105.2h0M451.7 102.8h0M453.7 112.8h0M448.4 96h0M456.1 116.2h0M451.4 36.3h0M446.8 114.6h0M458.7 94.7h0M434.8 104.7h0M458.3 79.3h0M445.8 120.5h0M453.3 82.6h0M446.1 98.8h0M442.1 105.6h0M477.8 105.7h0M439.3 108.1h0M455.8 112.3h0M419.4 95.7h0M437.3 108h0M457.6 35.6h0M474.2 112.7h0M457.4 116.6h0M465.5 92.6h0M450.6 102.7h0M431.2 94.7h0M441.2 92.7h0M432.3 116.1h0M467.5 75.6h0M464.6 100.1h0M467.9 101.5h0M420.8 89.6h0M443.8 102.9h0M458.4 104.5h0M447.1 98.2h0M451.8 109h0M486.4 97.4h0M452.4 112.9h0M451.7 111.9h0M443.7 115.4h0M454.4 111.4h0M473.6 96.5h0M452.1 105.2h0M439.2 99.1h0M446.1 100.5h0M469.7 102.9h0M431.4 119.3h0M455.8 104.2h0M452.5 99.6h0M441.1 120h0M460.6 117.4h0M448.3 116.8h0M439.3 118h0M457.3 111h0M452.2 116.5h0M448.1 82.7h0M438.8 119.5h0M461.6 109.5h0M463.1 112.4h0M439.9 117.5h0M445.9 101.2h0M470.1 107.8h0M421.6 106.6h0M506.9 108.6h0M454.2 103.4h0M446.6 104.5h0M444.3 110.8h0M475.1 48.9h0M455.8 90.4h0M451.8 103.6h0M455.6 107.5h0M457.5 106.9h0M508 104.9h0M465.4 100.4h0M479.9 115.5h0M463.2 108.9h0M460.9 106.1h0M446.7 114.3h0M439.5 117.6h0M475.9 92.9h0M452.5 104.3h0M470.8 99h0M442.5 113.6h0M445 116.5h0M461 119.9h0M443.8 111.6h0M463.3 98.2h0M469 119.7h0M447.3 115h0M454.4 93.7h0M464.4 103.1h0M461.4 105.3h0M452.8 99.6h0M463 109.4h0M470.3 109.5h0M456.9 103.1h0M449.6 102.5h0M464 94.6h0M458.3 97.2h0M451.4 123h0M452.9 114.6h0M491.6 82.3h0M417.4 115.2h0M468.6 86.7h0M458.5 116.7h0M453.2 111.6h0M444 115.3h0M455.2 98.7h0M452.1 52.4h0M476.5 93.7h0M410.2 104.6h0M435.1 97.7h0M433.8 114.2h0M476.6 96h0M468.6 103.6h0M455.3 98h0M454.7 112.3h0M466.3 110.1h0M442.6 94.8h0M428.4 81.1h0M441.4 108.9h0M456.4 114.3h0M439.8 110.6h0M484.6 60.9h0M451.1 103.5h0M424.1 115.2h0M471.3 93.8h0M412.5 108.1h0M464.7 117.3h0M448.2 102h0M437.1 110.2h0M433.8 111.5h0M454.4 117.5h0M440.1 122.8h0M435.2 91.8h0M453.7 114h0M464.9 117.5h0M457.3 106.3h0M438.7 109.3h0M448.5 111.9h0M457.7 120.1h0M464.9 86.6h0M450 111.9h0M438 105.7h0M434.6 115.9h0M479 108h0M443 104.6h0M442.9 108.3h0M453.1 101.9h0M452.7 111h0M461.8 92.1h0M465.5 120.8h0M446.2 114.4h0M463.6 101.2h0M458.4 111.3h0M433.3 114.2h0M467.6 121.6h0M444.4 100.5h0M416.2 122.5h0M422 82.6h0M444.6 93.8h0M472.4 101.5h0M446 98.4h0M439.4 116h0M458.2 115.8h0M440.7 112.9h0M456.7 87.5h0M471.9 102h0M457.8 112.6h0M486.9 65.1h0M472 117.6h0M471.2 108.6h0M496.6 112.2h0M489.3 108.2h0M416.2 120.6h0M482.9 99.9h0M449.9 115.1h0M442.7 116.6h0M463.1 104.1h0M449.1 112.4h0M457.6 116.6h0M455.7 89.7h0M468.5 109.4h0M476.6 99.2h0M452.9 114.8h0M479.3 66.6h0M443 112.2h0M473 98.8h0M445.6 101.8h0M445.3 116.6h0M475.2 108.3h0M461.2 104.3h0M456.2 113h0M463.7 96.3h0M462.3 102.3h0M457.2 106h0M475 64h0M446.1 114.6h0M475.5 111.8h0M459.1 110.5h0M452.6 115.6h0M447.6 99.5h0M439.1 98.6h0M422.5 120.3h0M471 107.1h0M439 119.1h0M468.7 97.9h0M470.7 103.8h0M470.6 90.2h0M453.2 116.6h0M447.7 101.5h0M457.7 105.9h0M463.8 108.8h0M479.1 106.4h0M437.6 99.2h0M448.2 107.6h0M439.9 112.2h0M434.6 91h0M470.9 104.5h0M462.3 111.9h0M447.9 110.5h0M437.6 110.2h0M452.1 120.8h0M482.6 114.6h0M459.7 97.2h0M445.1 121.4h0M471.7 113.3h0M462.7 68h0M466.9 96.9h0M463.8 117.2h0M468.3 97.2h0M483.8 93.6h0M490.5 82.4h0M419.7 107.6h0M472.6 110.8h0M456.9 103.6h0M479 103.7h0M440.1 116.6h0M462.7 92h0M451.4 112.5h0M498.6 97.8h0M475.1 112.2h0M482 70.2h0M447 62.3h0M447.3 110.8h0M452.3 104.2h0M457.2 91.1h0M474.2 107.8h0M455.2 111.8h0M455 119.3h0M456.5 109.8h0M466.8 106.4h0M441 119.6h0M482.1 97.6h0M447.9 100.9h0M465.8 90.8h0M466 116.1h0M455.1 109.2h0M460 109.1h0M440.8 120.9h0M463.9 115.8h0M432.1 118.7h0M460.8 105.1h0M434.5 107.3h0M432.8 100.1h0M462 112.4h0M454.5 120.7h0M467.7 105.3h0M450.2 98.4h0M473.2 103.2h0M453.4 99.7h0M472.1 113.2h0M467.1 102.5h0M445.2 118.2h0M479.1 86.4h0M447.6 104.5h0M478.3 109.2h0M437.3 108.9h0M469.9 119.8h0M453.6 114.8h0M452.1 108.6h0M464.6 118.6h0M457.3 116.3h0M487.8 88.3h0M472.9 106.5h0M437 117.2h0M453 118h0M460 98.4h0M444.8 49.6h0M487.1 110.8h0M482.9 103.5h0M454.2 114.7h0M425.8 107.7h0M453.2 118.7h0M453.9 110.4h0M441.4 97.7h0M463.5 109.7h0M434.7 110.4h0M451.4 110.3h0M455.7 101.4h0M466.3 111.8h0M464.6 114.5h0M467.1 112h0M436.9 113.9h0M436.6 122.4h0M461.5 119.8h0M454 121.3h0M439 109.1h0M450.4 116h0M452.7 113.9h0M452.3 87.8h0M464.2 101h0M458.8 111.9h0M432 98.2h0M471 98.6h0M462.4 116.3h0M462 92.9h0M466 70.3h0M448.9 93.7h0M438.9 117.2h0M452.4 103.4h0M454.9 121h0M432.1 113.2h0M455.2 101.9h0M478.6 103.6h0M446.3 88.9h0M474.8 103.9h0M439.9 107.8h0M450.7 111.3h0M457.8 116.1h0M448.6 113.1h0M456 115h0M453.9 103h0M488.5 104.9h0M451.7 102.2h0M449 105.4h0M427.9 122.3h0M451.6 109.6h0M455.7 78.2h0M439.4 120.3h0M445.5 108.8h0M453.5 116.8h0M433.7 118.8h0M453.4 108.9h0M481 92.4h0M436.6 86.5h0M460.3 106.5h0M471.8 102h0M454.9 122.4h0M472.1 103h0M459.5 107.1h0M442.4 112.7h0M450.2 110.9h0M450.7 117.6h0M437.9 102.3h0M470.9 115.6h0M439 122.8h0M467.9 109.9h0M474.9 114h0M450.8 111.4h0M458.9 98.3h0M457.3 111.5h0M463.7 109.1h0M435.7 93.6h0M474 120.6h0M448.2 108h0M469.6 100.4h0M455 98.4h0M458.2 65.7h0M462.3 86.6h0M465.1 105h0M451.7 111.4h0M449.4 114.4h0M465.1 66.1h0M466.4 121.5h0M468.4 107h0M448 104.9h0M450.7 119.2h0M468.4 103.6h0M466 114.2h0M453.1 118.7h0M475.3 113.3h0M465.4 101h0M426.5 106.4h0M479.7 78.4h0M441.2 114.3h0M466 120.2h0M478 105h0M451.3 111.1h0M461.5 105.7h0M453.5 109.1h0M472.6 43.3h0M463.8 122.3h0M459.8 106.7h0M458.9 121.8h0M446.6 108.6h0M460.4 102.8h0M448.7 121h0M470.1 104h0M457.5 109.8h0M444.9 106.5h0M391.2 123h0M399.1 118.2h0M401.7 113.5h0M508.2 110.4h0M495 118.2h0M497.6 115.1h0M483.2 89.3h0" stroke="#000" stroke-width="3.1" stroke-linecap="round" clip-path="url(#cHAUS3)"/>
<path d="M391.2 109 L392.1 109 L393.1 108.9 L394.3 108.9 L395.6 108.8 L397.1 108.7 L398.6 108.6 L400.2 108.5 L401.9 108.4 L403.6 108.3 L405.2 108.1 L406.8 107.9 L408.3 107.7 L409.8 107.5 L411.3 107.2 L412.8 106.9 L414.3 106.6 L415.9 106.2 L417.4 105.9 L419 105.5 L420.5 105.2 L422.1 104.8 L423.6 104.4 L425.2 104.1 L426.7 103.8 L428.2 103.5 L429.8 103.2 L431.3 102.9 L432.8 102.6 L434.4 102.3 L435.9 102 L437.4 101.7 L439 101.4 L440.5 101.2 L442 100.9 L443.6 100.6 L445.1 100.4 L446.7 100.1 L448.3 99.8 L449.9 99.6 L451.5 99.3 L453.2 99 L454.8 98.8 L456.4 98.6 L457.9 98.3 L459.4 98.1 L460.9 98 L462.2 97.8 L463.5 97.7 L464.6 97.7 L465.6 97.6 L466.5 97.6 L467.4 97.6 L468.2 97.6 L468.9 97.6 L469.6 97.7 L470.4 97.8 L471.2 97.9 L472 98.1 L473 98.3 L474 98.5 L475.1 98.8 L476.3 99.2 L477.5 99.7 L478.8 100.1 L480.1 100.7 L481.4 101.2 L482.7 101.7 L484.1 102.3 L485.5 102.7 L486.9 103.2 L488.3 103.5 L489.8 103.8 L491.3 104 L492.9 104.1 L494.6 104.2 L496.4 104.2 L498.2 104.2 L499.9 104.1 L501.7 104 L503.3 104 L504.8 103.9 L506.1 103.8 L507.3 103.8 L508.2 103.8 L508.2 141.9 L507.3 140.7 L506.1 139.1 L504.8 137.3 L503.3 135.2 L501.7 133 L499.9 130.6 L498.2 128.2 L496.4 125.8 L494.6 123.5 L492.9 121.4 L491.3 119.4 L489.8 117.7 L488.3 116.2 L486.9 114.8 L485.5 113.4 L484.1 112.1 L482.7 110.9 L481.4 109.8 L480.1 108.7 L478.8 107.7 L477.5 106.8 L476.3 106 L475.1 105.2 L474 104.6 L473 104 L472 103.5 L471.2 103.2 L470.4 102.9 L469.6 102.7 L468.9 102.6 L468.2 102.5 L467.4 102.5 L466.5 102.4 L465.6 102.4 L464.6 102.5 L463.5 102.5 L462.2 102.5 L460.9 102.5 L459.4 102.6 L457.9 102.7 L456.4 102.9 L454.8 103.1 L453.2 103.3 L451.5 103.5 L449.9 103.7 L448.3 104 L446.7 104.3 L445.1 104.6 L443.6 104.9 L442 105.2 L440.5 105.5 L439 105.8 L437.4 106.1 L435.9 106.5 L434.4 106.9 L432.8 107.3 L431.3 107.8 L429.8 108.4 L428.2 109.1 L426.7 109.8 L425.2 110.7 L423.6 111.6 L422.1 112.6 L420.5 113.6 L419 114.8 L417.4 115.9 L415.9 117.1 L414.3 118.4 L412.8 119.6 L411.3 120.9 L409.8 122.2 L408.3 123.5 L406.8 124.8 L405.2 126.3 L403.6 127.9 L401.9 129.6 L400.2 131.2 L398.6 132.9 L397.1 134.5 L395.6 136 L394.3 137.4 L393.1 138.7 L392.1 139.7 L391.2 140.6Z" fill="#999" fill-opacity="0.4" clip-path="url(#cHAUS3)"/>
<path d="M391.2 125.6 C394.1 123.9 402.4 118.8 408.3 115.6 C414.2 112.4 420.6 108.6 426.7 106.4 C432.8 104.2 439 103.6 445.1 102.5 C451.2 101.4 458.7 100.1 463.5 99.8 C468.3 99.6 469.6 99.4 474 101.2 C478.4 102.9 484.1 106.7 489.8 110.4 C495.5 114 505.1 120.9 508.2 123" fill="none" stroke="#3a68b8" stroke-width="1.1" clip-path="url(#cHAUS3)"/>
<text x="510.2" y="38.6" text-anchor="end" fill="#e03b3b" font-size="6.8" stroke="#e03b3b" stroke-width="0.22">cor = 0.124</text>
<text x="510.2" y="48.6" text-anchor="end" fill="#e03b3b" font-size="6.8" stroke="#e03b3b" stroke-width="0.22">p = 4.66e−03</text>
<rect x="385.5" y="28.4" width="128.7" height="117.9" fill="none" stroke="#333" stroke-width="0.9"/>
<rect x="385.5" y="16.5" width="128.7" height="11.9" fill="#d9d9d9" stroke="#333" stroke-width="0.9"/>
<text x="449.9" y="24.6" text-anchor="middle" fill="#1a1a1a" font-size="6.4" stroke="#1a1a1a" stroke-width="0.22">HAUS3</text>
<rect x="372.8" y="28.4" width="12.7" height="117.9" fill="#d9d9d9" stroke="#333" stroke-width="0.9"/>
<text transform="translate(381.3 87.4) rotate(-90)" text-anchor="middle" fill="#1a1a1a" font-size="6.4" stroke="#1a1a1a" stroke-width="0.22">CD274</text>
<line x1="388.1" y1="146.3" x2="388.1" y2="148.5" stroke="#333" stroke-width="0.9"/>
<text x="388.1" y="155.2" text-anchor="middle" fill="#4d4d4d" font-size="6.8">1.5</text>
<line x1="408.7" y1="146.3" x2="408.7" y2="148.5" stroke="#333" stroke-width="0.9"/>
<text x="408.7" y="155.2" text-anchor="middle" fill="#4d4d4d" font-size="6.8">2.0</text>
<line x1="429.3" y1="146.3" x2="429.3" y2="148.5" stroke="#333" stroke-width="0.9"/>
<text x="429.3" y="155.2" text-anchor="middle" fill="#4d4d4d" font-size="6.8">2.5</text>
<line x1="449.9" y1="146.3" x2="449.9" y2="148.5" stroke="#333" stroke-width="0.9"/>
<text x="449.9" y="155.2" text-anchor="middle" fill="#4d4d4d" font-size="6.8">3.0</text>
<line x1="470.5" y1="146.3" x2="470.5" y2="148.5" stroke="#333" stroke-width="0.9"/>
<text x="470.5" y="155.2" text-anchor="middle" fill="#4d4d4d" font-size="6.8">3.5</text>
<line x1="491.1" y1="146.3" x2="491.1" y2="148.5" stroke="#333" stroke-width="0.9"/>
<text x="491.1" y="155.2" text-anchor="middle" fill="#4d4d4d" font-size="6.8">4.0</text>
<line x1="511.7" y1="146.3" x2="511.7" y2="148.5" stroke="#333" stroke-width="0.9"/>
<text x="511.7" y="155.2" text-anchor="middle" fill="#4d4d4d" font-size="6.8">4.5</text>
<line x1="372.8" y1="146.3" x2="385.5" y2="146.3" stroke="#333" stroke-width="0.9"/>
<line x1="370.6" y1="142.9" x2="372.8" y2="142.9" stroke="#333" stroke-width="0.9"/>
<text x="369.8" y="145.3" text-anchor="end" fill="#4d4d4d" font-size="6.8">−1</text>
<line x1="370.6" y1="123" x2="372.8" y2="123" stroke="#333" stroke-width="0.9"/>
<text x="369.8" y="125.4" text-anchor="end" fill="#4d4d4d" font-size="6.8">0</text>
<line x1="370.6" y1="103.1" x2="372.8" y2="103.1" stroke="#333" stroke-width="0.9"/>
<text x="369.8" y="105.5" text-anchor="end" fill="#4d4d4d" font-size="6.8">1</text>
<line x1="370.6" y1="83.2" x2="372.8" y2="83.2" stroke="#333" stroke-width="0.9"/>
<text x="369.8" y="85.6" text-anchor="end" fill="#4d4d4d" font-size="6.8">2</text>
<line x1="370.6" y1="63.3" x2="372.8" y2="63.3" stroke="#333" stroke-width="0.9"/>
<text x="369.8" y="65.7" text-anchor="end" fill="#4d4d4d" font-size="6.8">3</text>
<line x1="370.6" y1="43.4" x2="372.8" y2="43.4" stroke="#333" stroke-width="0.9"/>
<text x="369.8" y="45.8" text-anchor="end" fill="#4d4d4d" font-size="6.8">4</text>
<text x="449.9" y="165.3" text-anchor="middle" fill="#000" font-size="8.2" stroke="#000" stroke-width="0.22">Expression Level (log2 TPM)</text>
<text transform="translate(361.5 87.4) rotate(-90)" text-anchor="middle" fill="#000" font-size="8.2" stroke="#000" stroke-width="0.22">Expression Level (log2 TPM)</text>
<rect x="551.6" y="28.4" width="132.2" height="117.9" fill="#fff"/>
<clipPath id="cHAUS4"><rect x="551.6" y="28.4" width="132.2" height="117.9"/></clipPath>
<line x1="558.5" y1="28.4" x2="558.5" y2="146.3" stroke="#f3f3f3" stroke-width="0.5"/>
<line x1="578" y1="28.4" x2="578" y2="146.3" stroke="#ebebeb" stroke-width="0.9"/>
<line x1="597.5" y1="28.4" x2="597.5" y2="146.3" stroke="#f3f3f3" stroke-width="0.5"/>
<line x1="617.1" y1="28.4" x2="617.1" y2="146.3" stroke="#ebebeb" stroke-width="0.9"/>
<line x1="636.6" y1="28.4" x2="636.6" y2="146.3" stroke="#f3f3f3" stroke-width="0.5"/>
<line x1="656.2" y1="28.4" x2="656.2" y2="146.3" stroke="#ebebeb" stroke-width="0.9"/>
<line x1="675.8" y1="28.4" x2="675.8" y2="146.3" stroke="#f3f3f3" stroke-width="0.5"/>
<line x1="551.6" y1="138.5" x2="683.8" y2="138.5" stroke="#ebebeb" stroke-width="0.9"/>
<line x1="551.6" y1="126.8" x2="683.8" y2="126.8" stroke="#f3f3f3" stroke-width="0.5"/>
<line x1="551.6" y1="115" x2="683.8" y2="115" stroke="#ebebeb" stroke-width="0.9"/>
<line x1="551.6" y1="103.3" x2="683.8" y2="103.3" stroke="#f3f3f3" stroke-width="0.5"/>
<line x1="551.6" y1="91.6" x2="683.8" y2="91.6" stroke="#ebebeb" stroke-width="0.9"/>
<line x1="551.6" y1="79.9" x2="683.8" y2="79.9" stroke="#f3f3f3" stroke-width="0.5"/>
<line x1="551.6" y1="68.2" x2="683.8" y2="68.2" stroke="#ebebeb" stroke-width="0.9"/>
<line x1="551.6" y1="56.4" x2="683.8" y2="56.4" stroke="#f3f3f3" stroke-width="0.5"/>
<line x1="551.6" y1="44.7" x2="683.8" y2="44.7" stroke="#ebebeb" stroke-width="0.9"/>
<line x1="551.6" y1="33" x2="683.8" y2="33" stroke="#f3f3f3" stroke-width="0.5"/>
<path d="M619.9 107.6h0M642.9 127.5h0M654.2 128.8h0M642.4 113h0M615.4 112.5h0M609.3 108.9h0M627.4 118.6h0M636.4 138.4h0M644 122.8h0M630.3 104.1h0M660 93h0M653.2 121.2h0M638.4 128.3h0M640.7 122.3h0M617.2 130.7h0M606.7 101.8h0M616 132.4h0M619.4 123.8h0M643 126h0M600.8 121h0M627 104.2h0M626.8 132.4h0M639.2 129.2h0M633.4 134.8h0M652.1 119.6h0M610.5 101.3h0M643.2 133.9h0M614.6 113.1h0M638.8 86.8h0M609.9 108.3h0M630.7 115.8h0M637.2 122.3h0M617.3 128.6h0M592.2 131.8h0M615.5 126.9h0M646.5 113.7h0M645.9 125.9h0M623.2 129.7h0M626 120.2h0M640.9 100.4h0M643.5 98.8h0M620.9 130.9h0M636.1 72.1h0M627.6 132.8h0M625.3 129h0M618.5 113.8h0M631.9 124h0M647.5 137.2h0M658.8 113h0M645.8 108.2h0M631.3 115.9h0M640.1 132.5h0M612.1 98.9h0M630.4 111.4h0M634.9 132.4h0M643.8 129h0M619.3 135.3h0M650.9 107.4h0M624.9 89h0M613.1 123.3h0M644.6 130.8h0M642.4 130.1h0M635.5 134h0M654.7 115h0M634.5 129.6h0M614.7 101.2h0M623 134.2h0M648.9 120.3h0M607.8 112.9h0M619.9 132.9h0M620.4 86.9h0M633.1 128.6h0M632.2 133.4h0M656.4 129.1h0M627.2 135.9h0M613 124.8h0M656.2 106.7h0M645.5 118.6h0M614.9 108.6h0M632.2 110.9h0M623.2 129.6h0M648.9 126h0M643.6 106.6h0M625.5 111.6h0M670.4 120.6h0M632.5 102.2h0M640.5 96.8h0M632.9 103.5h0M617.3 118.2h0M614.2 96.9h0M628.1 122.4h0M620.7 100.9h0M619.8 87.7h0M635.3 112.4h0M649.4 135h0M647 86.4h0M638.4 112.1h0M625.9 106.3h0M640.8 129.3h0M634.3 130h0M633.6 129.3h0M633.3 118.2h0M647.3 119.2h0M654.6 138.3h0M639 116.9h0M644.1 132.2h0M651.6 94h0M617.6 118.3h0M623.1 137h0M650.5 129.7h0M635.8 132.4h0M636.8 125.9h0M631.4 122.2h0M634.6 128.5h0M631.7 132h0M665.7 100.3h0M600.6 128h0M624 124.9h0M585.6 102h0M643.1 121.6h0M654.1 114.9h0M632.7 123.8h0M635.2 123.8h0M661.2 121.6h0M659.9 119.4h0M653.9 119.2h0M600.5 83h0M647.5 124.4h0M613.1 135.8h0M633.2 113.9h0M628.5 106.5h0M638.7 101.6h0M637.9 135.5h0M643.5 119.9h0M641.8 114.8h0M625 74.7h0M624.6 112.6h0M644.6 131.3h0M631.6 114.7h0M616 122.1h0M621.7 128h0M641.1 121.2h0M646.4 133.4h0M634.1 124.6h0M634.6 129.4h0M635.7 131.4h0M610.6 111.7h0M654.4 47.8h0M603.5 119.2h0M641.9 117.1h0M644 127.2h0M600.1 132h0M597.3 119.6h0M625.6 123.1h0M632.7 131h0M639 122h0M634.4 110.9h0M600 111.2h0M637.4 108.5h0M628.2 109.3h0M645.9 121.5h0M632.3 122.2h0M646 133.3h0M633.5 111.4h0M631.7 127.5h0M637.2 117.2h0M599.8 104.5h0M629.5 120.9h0M654.2 137.6h0M630.3 90.4h0M629.6 125.3h0M624.4 109.3h0M650.2 126.6h0M646.5 124.6h0M642.6 133h0M633.1 119.1h0M651.6 122.8h0M644.3 115.7h0M620.3 130.3h0M643.7 117.6h0M636.7 135.9h0M584.1 125.2h0M643.6 128.4h0M612.9 123h0M633.7 65.3h0M603.8 130.3h0M646.9 124.5h0M655.1 128h0M630.3 134.9h0M637.4 125.9h0M603.6 99.3h0M638.3 127.4h0M632 127.2h0M630.6 116.2h0M677.7 132.9h0M626.7 112.4h0M643.9 76.1h0M623.3 49.1h0M630.1 116.9h0M641.4 111.5h0M624.4 128.6h0M635.2 104.3h0M641.3 131.3h0M615.8 117.8h0M624.2 91h0M606 119.1h0M630.7 132.6h0M614.9 132.4h0M618.7 131.7h0M616.9 121.7h0M636.9 121.1h0M645 118.1h0M631.9 136.5h0M650.5 120.7h0M625.5 112.3h0M655.3 122.4h0M645.8 123.4h0M637.5 115h0M641.9 108.2h0M638.5 108.9h0M617.5 91.7h0M625.6 106.3h0M629.2 108.4h0M608.4 92.7h0M620.9 113.4h0M618.6 126.6h0M624.3 99.8h0M633.5 127.4h0M634.2 124.8h0M634.8 104.2h0M640.5 133.7h0M618.9 111.9h0M622.7 120.6h0M645.8 133.2h0M644.5 110.6h0M628.4 121.3h0M649.9 128.3h0M626.8 118.3h0M600.3 127h0M613.3 105h0M645.4 95.9h0M642.9 112.7h0M613.1 110.2h0M627.7 119.2h0M600.2 111.9h0M636.6 113.5h0M641.1 82.1h0M632.9 121.9h0M633 126h0M622.1 98.9h0M618.1 98.7h0M614.3 117.2h0M657.4 127.8h0M637.3 108.5h0M639.3 101.2h0M627.4 110.8h0M633.4 113.2h0M636.6 120.5h0M655.5 132.5h0M642.3 122.1h0M618.3 87.1h0M642.7 70.4h0M641.4 128.7h0M628 108.6h0M631.8 118.3h0M636.7 138h0M667.6 116.9h0M661.7 106.2h0M638.1 119.3h0M628.9 128.4h0M605 88.4h0M624.5 105.5h0M633.5 138.4h0M644.7 112.4h0M619.4 116.6h0M613.6 117.3h0M623.7 86.5h0M656.6 138.2h0M615 56.5h0M644.9 104.5h0M639.4 120.4h0M636.6 121h0M655.7 129h0M627.2 124.9h0M607 66.7h0M647.5 130h0M649.3 105.5h0M656 119.1h0M604 116.9h0M628.5 122.9h0M653.9 130.4h0M647.4 111.3h0M632.7 107.1h0M651.4 123.1h0M616.3 135.4h0M633.3 102h0M606.7 107.1h0M619.6 90.8h0M622.3 83.5h0M654.7 123.4h0M633.3 83.7h0M622.8 119.9h0M625.1 130h0M645.5 125.2h0M653.8 126.3h0M630.7 118.4h0M640.2 128.9h0M623.3 119.8h0M623.4 126.6h0M641.6 113.7h0M635.4 121.6h0M617 116.8h0M640.3 125.9h0M652.8 116.2h0M637.8 123.7h0M622.7 120.3h0M602.4 120h0M626.7 127.5h0M608.7 129.6h0M620.3 116.9h0M612.9 62.8h0M651.3 110.5h0M626.8 110.6h0M628.6 109.9h0M601.5 115.8h0M628.1 112h0M640.5 116.4h0M627.2 123.8h0M643.1 133.4h0M640.8 130.2h0M623.9 131.7h0M651.4 116.5h0M664.3 123.2h0M661 105.8h0M614.3 129.5h0M629.4 112.2h0M647.3 120.7h0M636.9 117.7h0M647.8 135.7h0M619.4 111.8h0M650.7 102.1h0M623.9 115.9h0M637 111.3h0M639.6 123.2h0M623.5 128.3h0M638.8 119.9h0M640.3 116.5h0M624.4 88.4h0M655.6 119.8h0M647.2 118.6h0M626.4 122.5h0M663.5 127.1h0M621.4 135.5h0M615.6 111.2h0M625.9 98.6h0M632.9 124.7h0M634.7 56.6h0M613.7 125.8h0M643.7 126h0M631.1 48.4h0M631.1 136.3h0M643.2 125.9h0M632.7 92.9h0M636.6 137.1h0M640.7 50h0M647.9 109.4h0M663 104h0M659.9 121.3h0M630.6 115.8h0M612.9 68.4h0M603.3 102.6h0M660.1 124.5h0M634.8 121.3h0M625.6 117.7h0M640 127.8h0M614.4 102.2h0M634.6 122.4h0M587.2 128.6h0M608.2 125.7h0M617.2 129.5h0M642.8 132.2h0M633.7 117.9h0M626.1 111.4h0M647.8 105h0M625.8 99.7h0M665.1 123.8h0M632.1 131h0M607.5 130.3h0M597.6 110.5h0M604.7 123.7h0M605.7 123.3h0M631.3 120.4h0M666.3 116h0M615.6 119.8h0M628.5 124.1h0M660.2 120.9h0M618.8 92.6h0M638.6 125.3h0M634.4 134.4h0M634.1 99.9h0M605.4 121.1h0M655 132.9h0M640.1 78.2h0M641.8 101h0M649 106.9h0M626.1 129.4h0M630.7 116.8h0M622.7 116.8h0M637.7 118.5h0M654.7 137.7h0M611.3 107.7h0M617.7 104.4h0M623.4 113h0M613.3 80.6h0M627.5 123.5h0M627.9 100.7h0M630.7 108.9h0M632.4 129.5h0M627 110h0M650.5 129.2h0M593.2 109.9h0M617.1 67.4h0M634.2 118.1h0M636.5 126.1h0M638.2 113h0M627.4 125.3h0M633 122.3h0M603.1 116.4h0M624.9 127.3h0M663.9 63.2h0M623.1 122.5h0M615.8 124.4h0M649.3 119.8h0M629.5 127.9h0M637.2 120.6h0M611.1 122.5h0M617.2 126.1h0M637.3 132h0M648 106.3h0M606.2 126.3h0M635 116.9h0M626.2 46.8h0M621.1 107.3h0M624.9 130.5h0M639.1 106.6h0M630.8 136.7h0M620.1 110.9h0M631.4 134.7h0M638.7 118.8h0M609.8 97.9h0M643.2 94h0M624.2 109.5h0M646 116.1h0M625.7 87.6h0M622.9 104.3h0M624.1 125h0M636.8 134h0M616.4 113h0M645 123.7h0M641 129.3h0M640.8 119.7h0M624.7 117h0M618.5 135.5h0M632.4 113.2h0M658.7 105.7h0M637.5 126.1h0M640.2 136.6h0M631.9 119.7h0M634.5 123.4h0M631.5 114.9h0M604.1 111.5h0M650.8 124.6h0M617.7 107.3h0M647.6 137.8h0M637.3 128.9h0M647 121.4h0M642.5 119.1h0M625.9 122.5h0M607.4 116.1h0M649.9 135.3h0M609.2 131.6h0M621.4 113.6h0M628.8 109.3h0M650.2 123.2h0M649.1 134h0M616.3 127.3h0M607.3 105.8h0M642.8 120.6h0M619.6 108.7h0M641.5 107.2h0M631 110.2h0M636.8 124.2h0M590.7 109.1h0M641.5 106.4h0M623 119.2h0M635.2 120.4h0M625.5 122.2h0M629.8 77.1h0M647.2 119.5h0M664 131.4h0M620.4 121.6h0M630.6 114.5h0M632.6 114.8h0M619.1 136.5h0M619.5 90.4h0M644.4 105.6h0M647.1 120.7h0M642 129.7h0M632.8 113.5h0M624.7 109.7h0M631.7 117.9h0M639.7 131.9h0M623 128.5h0M635.9 125.2h0M630.9 118.2h0M639.1 135.6h0M656.1 123.4h0M662.6 138.1h0M646.7 121.9h0M634.4 137.6h0M655.3 128.2h0M632.7 105.1h0M621.2 70.8h0M621.8 131.3h0M628.3 106.6h0M668.9 129.3h0M635 88.3h0M617.9 117h0M629 121.6h0M643.1 120.3h0M610.5 85.7h0M635 115h0M639.1 121.3h0M622.2 39.9h0M629.4 91.3h0M620.6 131.8h0M629.4 123.6h0M624.1 115.8h0M615.7 108.3h0M617.9 124.9h0M639.2 119.6h0M619.9 76.6h0M621.6 121.2h0M624.4 118.3h0M630.3 126.4h0M625.1 110.3h0M639.8 104.3h0M624.5 125.2h0M638.4 117.8h0M644.4 122.2h0M626 119.6h0M633.9 120.2h0M640.7 111.5h0M633.5 120h0M623.9 119.5h0M637.2 114.6h0M607.8 112.8h0M617.4 105.8h0M630.2 130h0M642.6 117.2h0M621 101.4h0M645 87h0M655.2 135.9h0M653.7 136.1h0M611.8 122.1h0M639.2 132.8h0M632.3 125.2h0M640.2 129.8h0M635.2 89.7h0M628.9 78.5h0M638.4 129.1h0M644.8 107.8h0M624.7 134.5h0M620.8 106h0M640.9 112.9h0M654.4 124.8h0M605.3 104.7h0M632.7 125.1h0M656.4 121.6h0M648.2 114.6h0M557.5 132.2h0M561 97.2h0M677.1 109.8h0M673.2 134h0M665.3 136.6h0M667.9 128.2h0" stroke="#000" stroke-width="3.1" stroke-linecap="round" clip-path="url(#cHAUS4)"/>
<path d="M557.5 99.8 L558.6 100.3 L559.8 100.9 L561.3 101.7 L562.9 102.6 L564.7 103.5 L566.6 104.4 L568.6 105.4 L570.6 106.3 L572.6 107.2 L574.7 107.9 L576.7 108.6 L578.6 109 L580.5 109.4 L582.4 109.6 L584.4 109.7 L586.5 109.7 L588.5 109.7 L590.6 109.6 L592.6 109.4 L594.6 109.3 L596.6 109.2 L598.5 109.1 L600.4 109 L602.2 109 L603.9 109.1 L605.6 109.1 L607.3 109.1 L608.9 109.1 L610.5 109.2 L612.1 109.2 L613.6 109.3 L615.1 109.3 L616.5 109.4 L617.9 109.5 L619.3 109.7 L620.6 109.8 L621.9 110 L623 110.3 L624.1 110.6 L625.2 110.9 L626.2 111.3 L627.2 111.6 L628.2 112 L629.2 112.3 L630.2 112.7 L631.3 113 L632.5 113.3 L633.7 113.5 L635.1 113.7 L636.4 114 L637.8 114.3 L639.2 114.5 L640.7 114.8 L642.2 115 L643.7 115.2 L645.3 115.3 L647 115.4 L648.6 115.4 L650.4 115.3 L652.1 115.1 L654.1 114.8 L656.2 114.3 L658.5 113.7 L660.9 113 L663.3 112.3 L665.8 111.5 L668.1 110.7 L670.4 110 L672.5 109.3 L674.3 108.6 L675.9 108.1 L677.1 107.7 L677.1 140.6 L675.9 139.6 L674.3 138.4 L672.5 136.9 L670.4 135.3 L668.1 133.5 L665.8 131.6 L663.3 129.7 L660.9 127.9 L658.5 126.2 L656.2 124.6 L654.1 123.3 L652.1 122.2 L650.4 121.3 L648.6 120.7 L647 120.2 L645.3 119.8 L643.7 119.5 L642.2 119.3 L640.7 119.1 L639.2 119 L637.8 118.9 L636.4 118.7 L635.1 118.5 L633.7 118.2 L632.5 117.9 L631.3 117.5 L630.2 117.1 L629.2 116.7 L628.2 116.4 L627.2 116 L626.2 115.6 L625.2 115.3 L624.1 114.9 L623 114.7 L621.9 114.5 L620.6 114.3 L619.3 114.2 L617.9 114.1 L616.5 114 L615.1 114 L613.6 114 L612.1 114 L610.5 114.1 L608.9 114.2 L607.3 114.3 L605.6 114.5 L603.9 114.8 L602.2 115.1 L600.4 115.4 L598.5 115.8 L596.6 116.2 L594.6 116.6 L592.6 117.1 L590.6 117.6 L588.5 118.2 L586.5 118.8 L584.4 119.6 L582.4 120.3 L580.5 121.2 L578.6 122.2 L576.7 123.3 L574.7 124.6 L572.6 126.1 L570.6 127.8 L568.6 129.4 L566.6 131.2 L564.7 132.8 L562.9 134.5 L561.3 136 L559.8 137.3 L558.6 138.4 L557.5 139.3Z" fill="#999" fill-opacity="0.4" clip-path="url(#cHAUS4)"/>
<path d="M557.5 119.5 C561.1 118.9 571.1 116.9 578.6 115.6 C586 114.3 595.2 112.3 602.2 111.7 C609.2 111 615.4 111 620.6 111.7 C625.9 112.3 628.5 114.5 633.7 115.6 C639 116.7 644.9 116.6 652.1 118.2 C659.4 119.9 672.9 124.1 677.1 125.3" fill="none" stroke="#3a68b8" stroke-width="1.1" clip-path="url(#cHAUS4)"/>
<text x="679.8" y="38.6" text-anchor="end" fill="#e03b3b" font-size="6.8" stroke="#e03b3b" stroke-width="0.22">cor = −0.148</text>
<text x="679.8" y="48.6" text-anchor="end" fill="#e03b3b" font-size="6.8" stroke="#e03b3b" stroke-width="0.22">p = 8.84e−04</text>
<rect x="551.6" y="28.4" width="132.2" height="117.9" fill="none" stroke="#333" stroke-width="0.9"/>
<rect x="551.6" y="16.5" width="132.2" height="11.9" fill="#d9d9d9" stroke="#333" stroke-width="0.9"/>
<text x="617.7" y="24.6" text-anchor="middle" fill="#1a1a1a" font-size="6.4" stroke="#1a1a1a" stroke-width="0.22">HAUS4</text>
<rect x="539.1" y="28.4" width="12.5" height="117.9" fill="#d9d9d9" stroke="#333" stroke-width="0.9"/>
<text transform="translate(547.6 87.4) rotate(-90)" text-anchor="middle" fill="#1a1a1a" font-size="6.4" stroke="#1a1a1a" stroke-width="0.22">CD274</text>
<line x1="578" y1="146.3" x2="578" y2="148.5" stroke="#333" stroke-width="0.9"/>
<text x="578" y="155.2" text-anchor="middle" fill="#4d4d4d" font-size="6.8">4</text>
<line x1="617.1" y1="146.3" x2="617.1" y2="148.5" stroke="#333" stroke-width="0.9"/>
<text x="617.1" y="155.2" text-anchor="middle" fill="#4d4d4d" font-size="6.8">5</text>
<line x1="656.2" y1="146.3" x2="656.2" y2="148.5" stroke="#333" stroke-width="0.9"/>
<text x="656.2" y="155.2" text-anchor="middle" fill="#4d4d4d" font-size="6.8">6</text>
<line x1="539.1" y1="146.3" x2="551.6" y2="146.3" stroke="#333" stroke-width="0.9"/>
<line x1="536.9" y1="138.5" x2="539.1" y2="138.5" stroke="#333" stroke-width="0.9"/>
<text x="536.1" y="140.9" text-anchor="end" fill="#4d4d4d" font-size="6.8">0</text>
<line x1="536.9" y1="115" x2="539.1" y2="115" stroke="#333" stroke-width="0.9"/>
<text x="536.1" y="117.5" text-anchor="end" fill="#4d4d4d" font-size="6.8">1</text>
<line x1="536.9" y1="91.6" x2="539.1" y2="91.6" stroke="#333" stroke-width="0.9"/>
<text x="536.1" y="94" text-anchor="end" fill="#4d4d4d" font-size="6.8">2</text>
<line x1="536.9" y1="68.2" x2="539.1" y2="68.2" stroke="#333" stroke-width="0.9"/>
<text x="536.1" y="70.6" text-anchor="end" fill="#4d4d4d" font-size="6.8">3</text>
<line x1="536.9" y1="44.7" x2="539.1" y2="44.7" stroke="#333" stroke-width="0.9"/>
<text x="536.1" y="47.1" text-anchor="end" fill="#4d4d4d" font-size="6.8">4</text>
<text x="617.7" y="165.3" text-anchor="middle" fill="#000" font-size="8.2" stroke="#000" stroke-width="0.22">Expression Level (log2 TPM)</text>
<text transform="translate(527.8 87.4) rotate(-90)" text-anchor="middle" fill="#000" font-size="8.2" stroke="#000" stroke-width="0.22">Expression Level (log2 TPM)</text>
<rect x="41.6" y="212" width="132.9" height="118" fill="#fff"/>
<clipPath id="cHAUS5"><rect x="41.6" y="212" width="132.9" height="118"/></clipPath>
<line x1="52.4" y1="212" x2="52.4" y2="330" stroke="#f3f3f3" stroke-width="0.5"/>
<line x1="68.8" y1="212" x2="68.8" y2="330" stroke="#ebebeb" stroke-width="0.9"/>
<line x1="85.2" y1="212" x2="85.2" y2="330" stroke="#f3f3f3" stroke-width="0.5"/>
<line x1="101.5" y1="212" x2="101.5" y2="330" stroke="#ebebeb" stroke-width="0.9"/>
<line x1="117.8" y1="212" x2="117.8" y2="330" stroke="#f3f3f3" stroke-width="0.5"/>
<line x1="134.2" y1="212" x2="134.2" y2="330" stroke="#ebebeb" stroke-width="0.9"/>
<line x1="150.6" y1="212" x2="150.6" y2="330" stroke="#f3f3f3" stroke-width="0.5"/>
<line x1="166.9" y1="212" x2="166.9" y2="330" stroke="#ebebeb" stroke-width="0.9"/>
<line x1="41.6" y1="323.5" x2="174.5" y2="323.5" stroke="#ebebeb" stroke-width="0.9"/>
<line x1="41.6" y1="311.6" x2="174.5" y2="311.6" stroke="#f3f3f3" stroke-width="0.5"/>
<line x1="41.6" y1="299.6" x2="174.5" y2="299.6" stroke="#ebebeb" stroke-width="0.9"/>
<line x1="41.6" y1="287.7" x2="174.5" y2="287.7" stroke="#f3f3f3" stroke-width="0.5"/>
<line x1="41.6" y1="275.8" x2="174.5" y2="275.8" stroke="#ebebeb" stroke-width="0.9"/>
<line x1="41.6" y1="263.9" x2="174.5" y2="263.9" stroke="#f3f3f3" stroke-width="0.5"/>
<line x1="41.6" y1="251.9" x2="174.5" y2="251.9" stroke="#ebebeb" stroke-width="0.9"/>
<line x1="41.6" y1="240" x2="174.5" y2="240" stroke="#f3f3f3" stroke-width="0.5"/>
<line x1="41.6" y1="228.1" x2="174.5" y2="228.1" stroke="#ebebeb" stroke-width="0.9"/>
<line x1="41.6" y1="216.2" x2="174.5" y2="216.2" stroke="#f3f3f3" stroke-width="0.5"/>
<path d="M84.5 307.2h0M77.6 313.1h0M129 269h0M100.5 312.1h0M109.8 296.1h0M96.4 302h0M106.4 293.2h0M72.1 295.8h0M104.8 301.6h0M116.3 313.1h0M98.5 308.7h0M124.6 287.2h0M135.4 289.3h0M115.9 303.3h0M122.8 316.1h0M72.3 309.2h0M93.9 312.4h0M107.9 237.5h0M86.7 282.5h0M88.6 319.1h0M85.6 307.9h0M85.1 288.2h0M146 314h0M71.3 292.8h0M92.6 308.5h0M101.4 304.1h0M97 295.3h0M91.6 304.5h0M82.1 302.1h0M66.1 284.2h0M78.1 308.8h0M92.7 312.9h0M94.5 306h0M91 314.9h0M81.3 304.6h0M89.8 292.6h0M80.7 308.2h0M65.9 308.9h0M90.2 280.7h0M138.6 304h0M110.3 318.5h0M130.2 290.9h0M106.1 311.1h0M94.5 297.3h0M80.5 292h0M106.5 306.5h0M95.5 311.2h0M160.2 294.3h0M123.6 253.9h0M91.6 298.3h0M107.5 312h0M79.5 323.3h0M104.6 305h0M80.6 294h0M109.8 310.8h0M99.3 303.4h0M89 294.9h0M72.6 305.5h0M126.8 304.9h0M103.4 299.2h0M131.4 266h0M102.2 293.4h0M81.5 268.2h0M94 299.3h0M112.6 302.6h0M89.8 300.3h0M97.4 314.7h0M110.1 303.7h0M102.9 306.2h0M131 279.4h0M96.1 287h0M98.1 303.4h0M96.3 311.1h0M98.6 291.8h0M106.7 303.8h0M151 304.6h0M100.5 322.1h0M96.5 310.7h0M115.5 301.7h0M129.9 299.5h0M82.3 299.1h0M80.1 317.7h0M100.5 312.7h0M81.2 303.9h0M149.7 310.3h0M103 304.4h0M79.3 315.5h0M90.7 301.4h0M94.9 306.2h0M128.6 299.7h0M91 306.6h0M101 314h0M88.2 318.7h0M78.5 307h0M130.4 311h0M92.3 321h0M111.4 311.2h0M98.4 298.9h0M88.9 295h0M88.7 299.6h0M85.5 293.9h0M124.4 308.8h0M110.5 231h0M103.4 315.3h0M143.7 311.8h0M119.8 290h0M101.2 302.1h0M74.3 301.2h0M117.6 280.5h0M153.1 294.2h0M132.3 313.1h0M106.8 296.5h0M88 295.8h0M86.9 297.3h0M86.7 322.9h0M128.4 293.1h0M66.6 316.5h0M108.9 286.6h0M72.9 322.6h0M113.2 295h0M121.1 294.9h0M79.1 306h0M98.3 298.3h0M91 281.8h0M87.4 304.3h0M81.5 309.6h0M94 293.4h0M100.6 298.6h0M88 317.8h0M133 302.9h0M101.8 290.8h0M93.5 317.5h0M86.1 266.4h0M101 312.5h0M103 284.9h0M118.9 300.4h0M103.1 303.2h0M111.4 292.5h0M104.2 310.1h0M120.7 303.9h0M90.5 319.7h0M106.2 308.7h0M103.2 303.4h0M115.2 322.1h0M95.1 309.5h0M75.8 318.4h0M111.6 282.2h0M109.3 313.1h0M81.1 321.3h0M113 321.6h0M95.4 322.7h0M71.2 295.5h0M100.2 314.8h0M77.8 298h0M115.8 309.8h0M132.8 319.9h0M92.9 299.7h0M91.3 315.9h0M117.4 297.4h0M124.4 277.6h0M91.2 287.6h0M114 288.1h0M112 252.5h0M82.8 319.7h0M97.1 297h0M74.2 308.6h0M119.7 282.1h0M93.5 310h0M71.4 297.4h0M120.5 301.5h0M93.9 296.9h0M82.2 298.9h0M106.8 320h0M112.5 307.5h0M63.7 298.9h0M154 313.4h0M89.4 285.8h0M80.1 276.5h0M150.5 285.6h0M91.9 316.4h0M110.7 305h0M130.8 316.2h0M123.2 302h0M71.4 271.6h0M82.8 322h0M130.2 306.4h0M94.3 293.1h0M87.5 321.7h0M95.4 316h0M101.3 306.8h0M108.4 294.7h0M104 294.5h0M83.5 308h0M64.9 263.2h0M127.6 299.4h0M119.5 306.3h0M94.8 307.5h0M113.2 317.7h0M81.3 309.4h0M100.8 295.3h0M87.9 293.1h0M67.4 296.1h0M87.4 301.1h0M95 311.2h0M110.5 306.6h0M81.7 306.4h0M65.9 304.7h0M105.4 310.2h0M70.9 316.8h0M92.5 296.5h0M118.1 309.9h0M117.5 298.1h0M95.8 308.9h0M99.3 300.5h0M109.8 301.6h0M93.1 300.1h0M97.3 278.5h0M92.5 316.6h0M103.9 320.1h0M93.9 307.7h0M90.4 291.3h0M92.4 315.5h0M111.6 315.6h0M112.2 284.3h0M92.5 322.4h0M100.5 312.6h0M66.5 312.5h0M96.2 313.8h0M106.2 313.1h0M107.2 296.2h0M79.8 305.9h0M108.8 304.9h0M140.1 288.4h0M80.6 300.2h0M85.1 278.8h0M118 304.8h0M130.3 286.4h0M107.3 303.7h0M92.6 307.6h0M86.3 303.6h0M115.1 294.5h0M127.3 314.6h0M99.5 320.2h0M100.7 297.6h0M93 313.7h0M113.6 248.7h0M81.6 297h0M103.5 289.3h0M96.3 310.7h0M83.1 306.1h0M73.8 307.2h0M96.4 319.9h0M112.4 311.1h0M119 279h0M90.7 308h0M95.4 272h0M134.8 298h0M107.5 289.6h0M91.6 295h0M138.5 303.1h0M105.5 318.8h0M90.6 293.5h0M97.3 300.2h0M101.4 302.2h0M100 298.6h0M102.1 314.6h0M110 305.3h0M84.5 307.7h0M101.4 283.1h0M110.6 318.2h0M118 307.4h0M106.8 291.1h0M130.5 298.5h0M117.6 298.8h0M104.6 307.6h0M93.3 304.6h0M90.4 322.3h0M96.4 305.6h0M119 264.9h0M93.5 302.4h0M97.7 271.8h0M111.5 307.2h0M68.6 289.1h0M95.9 303.1h0M96.2 299.6h0M109 296.2h0M138.4 293.7h0M140.8 293.1h0M59.3 293.5h0M110.4 276.3h0M105.5 280.5h0M97.3 297.6h0M85.9 318.3h0M83.1 317.4h0M83.7 319.9h0M88.5 289.2h0M55 259.8h0M90.4 302.2h0M84.5 298.5h0M108.9 320.2h0M81 316.9h0M110.6 317.8h0M94.2 297.2h0M73.8 289.7h0M104.1 279.4h0M121.4 288.8h0M95.1 301.1h0M92.4 305.1h0M107.3 302.6h0M122.3 299.8h0M92.2 317.4h0M79.9 306.9h0M116 309.3h0M76.8 296.3h0M116.6 288.9h0M85.5 321.6h0M128.2 293.8h0M101.9 289.6h0M105 297.6h0M113 309.9h0M121.3 315.6h0M108.5 297.2h0M100.6 312.4h0M102.3 302.1h0M118.1 298.9h0M102 308.5h0M96 320h0M78.9 303.4h0M94 317.3h0M85.4 323.2h0M72.7 309h0M85.6 306.7h0M94.4 308.5h0M90.6 301.6h0M106.4 320.4h0M126.3 300.6h0M92.7 291.9h0M117.9 290.3h0M95.5 312.4h0M110.6 308.6h0M109.8 295h0M112.2 308.7h0M104.6 314.9h0M103.5 263.5h0M127.9 263.2h0M90 293.9h0M74.7 308.4h0M88.9 287.7h0M117.3 255.5h0M73.2 301.4h0M130 278.5h0M83.3 317.8h0M105.3 254.9h0M95 289.9h0M87.9 301.8h0M77.8 282.9h0M89.6 312.9h0M94.3 308.6h0M89.3 310.5h0M121.4 308.8h0M101.8 299.2h0M101.8 295.9h0M120.6 320.5h0M86.9 295h0M100.6 305.4h0M92.4 304.4h0M107.8 303.6h0M93.6 298.4h0M93.6 300.7h0M99.4 322.1h0M99.3 298.8h0M138.2 294.1h0M104.4 303.2h0M97.9 305.2h0M96.5 278.7h0M76.3 308h0M87.5 295.5h0M94.9 313.9h0M101.5 287.4h0M97.6 305.7h0M98.5 310.8h0M107.4 289.9h0M114.1 306.8h0M71.8 309.6h0M83.8 320.7h0M90 301.7h0M66 289.9h0M90.2 289h0M110.5 316.4h0M109.8 296.6h0M104 293.3h0M105.5 299.8h0M57 308.9h0M64.9 322.4h0M115.7 304.6h0M85.9 313.1h0M94.3 322.8h0M85.9 301.9h0M99.1 308.3h0M87.1 309.9h0M119.1 255.4h0M90 312.7h0M74.8 320.4h0M118.4 317.1h0M80.9 290.3h0M112.9 308.7h0M110.2 314h0M109.3 237.8h0M88.8 315.7h0M106.2 317.8h0M129.3 307h0M107.2 315.2h0M113.5 295.2h0M161.7 305h0M71.1 316.2h0M104.4 303.9h0M77.5 307.2h0M75.5 320.4h0M88.7 296.1h0M111.3 304.9h0M104.4 317.7h0M104.1 309h0M71.9 314.2h0M110.1 310.5h0M131.4 292.2h0M97.7 311.5h0M72.9 306.5h0M136 283h0M135.2 313h0M63.1 323h0M79.5 314.6h0M93.9 262.1h0M69.8 281.1h0M125 279.5h0M99 306.5h0M104.1 300.9h0M85.9 310.1h0M105.6 294.5h0M103.1 301.4h0M92.8 294.3h0M101.9 307.8h0M113.1 295h0M121.2 305.5h0M113.1 216.3h0M112.1 307h0M79.4 309.9h0M86.5 322h0M105.9 316.6h0M95.5 291.3h0M94.2 285.6h0M145.9 302.3h0M81.1 290.6h0M147.3 296.2h0M103.9 296.7h0M109.8 299h0M88.6 322.1h0M107.3 260.8h0M145 281.6h0M118.7 302.2h0M81.7 309h0M131.8 290.2h0M109.1 278.8h0M89.4 290h0M79 303.4h0M97.9 307.2h0M96.1 299.9h0M99.6 284.1h0M114.7 301.5h0M87.1 307.3h0M101.7 318.9h0M95.1 259.6h0M71.8 309.2h0M133.6 299.2h0M106.4 286.5h0M105.7 307.8h0M101.6 305.8h0M78.9 293.3h0M87.8 289.9h0M99.4 295.6h0M111.7 291.9h0M121.1 294.2h0M108.9 289.2h0M119.4 275.2h0M115.2 294.7h0M146.5 302.8h0M84.7 304h0M114.7 295.7h0M99.7 321.9h0M112.3 305.1h0M75.7 305.6h0M74.1 314.6h0M101.1 308.3h0M107.3 297.1h0M126.7 301.4h0M109.2 307.8h0M105.8 304.8h0M83.4 308.9h0M104.8 297.8h0M116.6 307.2h0M81.1 298.4h0M83.2 313h0M141.5 305.5h0M98.7 317.7h0M66.6 310.4h0M103 298.8h0M98 316.7h0M92.6 310.6h0M98.5 306h0M100.9 310.3h0M109.4 298.5h0M83.4 319.5h0M91.7 299h0M82.6 295h0M114.5 282.6h0M114.4 306.9h0M111.8 314.1h0M73.3 323.2h0M85.1 291h0M120.8 298.1h0M121.6 303.1h0M118.7 302.7h0M119.9 247.1h0M82.7 311.1h0M68.4 322.4h0M128.5 291h0M132.2 313h0M63.7 317.3h0M81.3 322.9h0M121 290.7h0M125.8 315.7h0M98.2 300.6h0M109.7 307.1h0M112.8 298.7h0M78.3 320.5h0M106.8 294.8h0M79.7 323.1h0M106.5 260.5h0M109.9 276.5h0M111.8 264.9h0M109.3 268.2h0M119.5 303.9h0M75.7 258h0M105.6 279.3h0M132.8 305.4h0M91.1 315.7h0M132.9 223.3h0M105.3 303.2h0M99.8 297.2h0M107.6 305.1h0M101.7 275.3h0M95.6 311.2h0M97.8 283.3h0M80.6 302.1h0M128.4 306.2h0M120.2 281.7h0M119.1 307.9h0M98.8 313.1h0M110 258.6h0M94.6 286.7h0M62.3 316h0M90.2 287.2h0M102.9 304h0M103.4 289.5h0M84 316.4h0M138.1 293.1h0M111.8 306.3h0M101.5 305.8h0M111.8 281.3h0M91.4 313.6h0M72 316.7h0M109.7 302.1h0M90.9 276.2h0M95.9 314.2h0M93.9 284.4h0M110.8 300.2h0M142 245.5h0M144.5 275.2h0M98.4 301h0M86.8 315.7h0M111.5 289.9h0M47.8 316.1h0M55.2 299h0M63.1 226.8h0M168.2 307.7h0M162.9 305.6h0M153.7 320.1h0M151.9 278h0" stroke="#000" stroke-width="3.1" stroke-linecap="round" clip-path="url(#cHAUS5)"/>
<path d="M47.8 289.3 L48.7 289.7 L49.7 290.1 L51 290.7 L52.3 291.3 L53.8 292 L55.4 292.7 L57.1 293.4 L58.8 294.1 L60.6 294.7 L62.3 295.4 L64 295.9 L65.7 296.4 L67.3 296.9 L69 297.3 L70.8 297.7 L72.6 298.1 L74.4 298.5 L76.2 298.9 L78 299.2 L79.8 299.4 L81.6 299.6 L83.3 299.8 L85 299.8 L86.7 299.8 L88.3 299.7 L89.9 299.5 L91.4 299.2 L92.9 298.8 L94.4 298.4 L95.9 297.9 L97.4 297.4 L98.9 296.9 L100.4 296.4 L101.9 295.9 L103.5 295.5 L105.1 295.1 L106.8 294.8 L108.5 294.5 L110.3 294.1 L112.1 293.8 L113.9 293.6 L115.8 293.3 L117.6 293 L119.4 292.8 L121.2 292.5 L122.9 292.3 L124.5 292.1 L126.1 291.9 L127.6 291.8 L129 291.7 L130.4 291.7 L131.8 291.6 L133.1 291.6 L134.3 291.6 L135.6 291.6 L136.8 291.6 L138.1 291.5 L139.3 291.4 L140.6 291.3 L141.9 291.2 L143.2 290.9 L144.6 290.7 L145.9 290.4 L147.3 290 L148.7 289.7 L150.1 289.3 L151.4 288.9 L152.8 288.5 L154.1 288.2 L155.3 287.8 L156.5 287.5 L157.6 287.2 L158.7 286.9 L159.8 286.7 L160.9 286.4 L161.9 286.1 L162.9 285.9 L163.9 285.7 L164.8 285.4 L165.6 285.2 L166.4 285 L167.1 284.9 L167.7 284.7 L168.2 284.6 L168.2 320.1 L167.7 319.5 L167.1 318.9 L166.4 318.1 L165.6 317.3 L164.8 316.4 L163.9 315.4 L162.9 314.4 L161.9 313.3 L160.9 312.3 L159.8 311.3 L158.7 310.4 L157.6 309.5 L156.5 308.7 L155.3 307.8 L154.1 307 L152.8 306.1 L151.4 305.2 L150.1 304.4 L148.7 303.6 L147.3 302.8 L145.9 302.1 L144.6 301.4 L143.2 300.8 L141.9 300.4 L140.6 300 L139.3 299.6 L138.1 299.4 L136.8 299.2 L135.6 299 L134.3 299 L133.1 298.9 L131.8 298.9 L130.4 298.9 L129 298.9 L127.6 299 L126.1 299 L124.5 299.1 L122.9 299.2 L121.2 299.4 L119.4 299.6 L117.6 299.8 L115.8 300 L113.9 300.2 L112.1 300.5 L110.3 300.8 L108.5 301.1 L106.8 301.4 L105.1 301.7 L103.5 302 L101.9 302.4 L100.4 302.8 L98.9 303.2 L97.4 303.7 L95.9 304.1 L94.4 304.6 L92.9 305 L91.4 305.4 L89.9 305.7 L88.3 305.9 L86.7 306.1 L85 306.2 L83.3 306 L81.6 305.8 L79.8 305.5 L78 305.1 L76.2 304.7 L74.4 304.4 L72.6 304.2 L70.8 304.1 L69 304.2 L67.3 304.5 L65.7 305.1 L64 306 L62.3 307.3 L60.6 308.9 L58.8 310.6 L57.1 312.5 L55.4 314.5 L53.8 316.4 L52.3 318.4 L51 320.1 L49.7 321.7 L48.7 323 L47.8 324Z" fill="#999" fill-opacity="0.4" clip-path="url(#cHAUS5)"/>
<path d="M47.8 306.9 C50.8 305.8 59.2 301 65.7 300.4 C72.2 299.7 80.1 303.3 86.7 303 C93.3 302.6 98.5 299.6 105.1 298.3 C111.7 296.9 120 295.5 126.1 295.1 C132.2 294.7 136.6 295.2 141.9 295.6 C147.1 296.1 153.3 296.5 157.6 297.7 C162 299 166.4 302.1 168.2 303" fill="none" stroke="#3a68b8" stroke-width="1.1" clip-path="url(#cHAUS5)"/>
<text x="170.5" y="222.2" text-anchor="end" fill="#e03b3b" font-size="6.8" stroke="#e03b3b" stroke-width="0.22">cor = 0.085</text>
<text x="170.5" y="232.2" text-anchor="end" fill="#e03b3b" font-size="6.8" stroke="#e03b3b" stroke-width="0.22">p = 5.48e−02</text>
<rect x="41.6" y="212" width="132.9" height="118" fill="none" stroke="#333" stroke-width="0.9"/>
<rect x="41.6" y="199.3" width="132.9" height="12.7" fill="#d9d9d9" stroke="#333" stroke-width="0.9"/>
<text x="108" y="207.8" text-anchor="middle" fill="#1a1a1a" font-size="6.4" stroke="#1a1a1a" stroke-width="0.22">HAUS5</text>
<rect x="29.3" y="212" width="12.3" height="118" fill="#d9d9d9" stroke="#333" stroke-width="0.9"/>
<text transform="translate(37.7 271) rotate(-90)" text-anchor="middle" fill="#1a1a1a" font-size="6.4" stroke="#1a1a1a" stroke-width="0.22">CD274</text>
<line x1="68.8" y1="330" x2="68.8" y2="332.2" stroke="#333" stroke-width="0.9"/>
<text x="68.8" y="338.9" text-anchor="middle" fill="#4d4d4d" font-size="6.8">2</text>
<line x1="101.5" y1="330" x2="101.5" y2="332.2" stroke="#333" stroke-width="0.9"/>
<text x="101.5" y="338.9" text-anchor="middle" fill="#4d4d4d" font-size="6.8">3</text>
<line x1="134.2" y1="330" x2="134.2" y2="332.2" stroke="#333" stroke-width="0.9"/>
<text x="134.2" y="338.9" text-anchor="middle" fill="#4d4d4d" font-size="6.8">4</text>
<line x1="166.9" y1="330" x2="166.9" y2="332.2" stroke="#333" stroke-width="0.9"/>
<text x="166.9" y="338.9" text-anchor="middle" fill="#4d4d4d" font-size="6.8">5</text>
<line x1="29.3" y1="330" x2="41.6" y2="330" stroke="#333" stroke-width="0.9"/>
<line x1="27.1" y1="323.5" x2="29.3" y2="323.5" stroke="#333" stroke-width="0.9"/>
<text x="26.3" y="325.9" text-anchor="end" fill="#4d4d4d" font-size="6.8">0</text>
<line x1="27.1" y1="299.6" x2="29.3" y2="299.6" stroke="#333" stroke-width="0.9"/>
<text x="26.3" y="302" text-anchor="end" fill="#4d4d4d" font-size="6.8">1</text>
<line x1="27.1" y1="275.8" x2="29.3" y2="275.8" stroke="#333" stroke-width="0.9"/>
<text x="26.3" y="278.2" text-anchor="end" fill="#4d4d4d" font-size="6.8">2</text>
<line x1="27.1" y1="251.9" x2="29.3" y2="251.9" stroke="#333" stroke-width="0.9"/>
<text x="26.3" y="254.3" text-anchor="end" fill="#4d4d4d" font-size="6.8">3</text>
<line x1="27.1" y1="228.1" x2="29.3" y2="228.1" stroke="#333" stroke-width="0.9"/>
<text x="26.3" y="230.5" text-anchor="end" fill="#4d4d4d" font-size="6.8">4</text>
<text x="108" y="349" text-anchor="middle" fill="#000" font-size="8.2" stroke="#000" stroke-width="0.22">Expression Level (log2 TPM)</text>
<text transform="translate(18 271) rotate(-90)" text-anchor="middle" fill="#000" font-size="8.2" stroke="#000" stroke-width="0.22">Expression Level (log2 TPM)</text>
<rect x="215.5" y="212" width="129.1" height="118" fill="#fff"/>
<clipPath id="cHAUS6"><rect x="215.5" y="212" width="129.1" height="118"/></clipPath>
<line x1="229.5" y1="212" x2="229.5" y2="330" stroke="#f3f3f3" stroke-width="0.5"/>
<line x1="244.1" y1="212" x2="244.1" y2="330" stroke="#ebebeb" stroke-width="0.9"/>
<line x1="258.7" y1="212" x2="258.7" y2="330" stroke="#f3f3f3" stroke-width="0.5"/>
<line x1="273.3" y1="212" x2="273.3" y2="330" stroke="#ebebeb" stroke-width="0.9"/>
<line x1="287.9" y1="212" x2="287.9" y2="330" stroke="#f3f3f3" stroke-width="0.5"/>
<line x1="302.5" y1="212" x2="302.5" y2="330" stroke="#ebebeb" stroke-width="0.9"/>
<line x1="317.1" y1="212" x2="317.1" y2="330" stroke="#f3f3f3" stroke-width="0.5"/>
<line x1="331.7" y1="212" x2="331.7" y2="330" stroke="#ebebeb" stroke-width="0.9"/>
<line x1="215.5" y1="326.9" x2="344.6" y2="326.9" stroke="#ebebeb" stroke-width="0.9"/>
<line x1="215.5" y1="316.9" x2="344.6" y2="316.9" stroke="#f3f3f3" stroke-width="0.5"/>
<line x1="215.5" y1="306.9" x2="344.6" y2="306.9" stroke="#ebebeb" stroke-width="0.9"/>
<line x1="215.5" y1="296.9" x2="344.6" y2="296.9" stroke="#f3f3f3" stroke-width="0.5"/>
<line x1="215.5" y1="286.9" x2="344.6" y2="286.9" stroke="#ebebeb" stroke-width="0.9"/>
<line x1="215.5" y1="276.9" x2="344.6" y2="276.9" stroke="#f3f3f3" stroke-width="0.5"/>
<line x1="215.5" y1="266.9" x2="344.6" y2="266.9" stroke="#ebebeb" stroke-width="0.9"/>
<line x1="215.5" y1="256.9" x2="344.6" y2="256.9" stroke="#f3f3f3" stroke-width="0.5"/>
<line x1="215.5" y1="246.9" x2="344.6" y2="246.9" stroke="#ebebeb" stroke-width="0.9"/>
<line x1="215.5" y1="236.9" x2="344.6" y2="236.9" stroke="#f3f3f3" stroke-width="0.5"/>
<line x1="215.5" y1="226.9" x2="344.6" y2="226.9" stroke="#ebebeb" stroke-width="0.9"/>
<line x1="215.5" y1="216.9" x2="344.6" y2="216.9" stroke="#f3f3f3" stroke-width="0.5"/>
<path d="M279.5 305.9h0M262.9 277.5h0M321.9 286.7h0M286.6 295.7h0M299.6 288.4h0M289.4 285h0M294.2 288.3h0M270.9 290.1h0M306.4 229.1h0M293.2 294.5h0M277.8 286.5h0M277.6 292.3h0M279.7 301.9h0M283.8 286.1h0M282.3 293.9h0M255.9 276.5h0M300.4 278.1h0M273.9 294h0M288.4 284.1h0M270.4 288.5h0M280.5 267.2h0M267.4 292.8h0M279.8 274.2h0M290.6 283.2h0M318 291.3h0M271.2 299.4h0M291.3 301.8h0M279.6 289.6h0M299.5 290h0M291.7 283.1h0M290.9 290.1h0M289.9 286.1h0M280.1 284.2h0M286.4 295.9h0M284.7 299.7h0M291 229.5h0M285.7 302.1h0M281.3 293.9h0M285.9 277.6h0M281.2 281.2h0M279.6 295.3h0M307.2 280.3h0M284.4 295.3h0M286.8 292.3h0M284.3 266.5h0M306.1 283h0M293.5 296h0M285.1 300.9h0M288.9 301.8h0M282.5 285.4h0M292.2 280.5h0M297.7 278.3h0M285.6 280.3h0M287.8 300h0M287.4 277.1h0M273.2 297.1h0M274.5 306h0M293.9 300.7h0M279.2 297.3h0M290.7 302.2h0M296.6 287.6h0M288.8 294.9h0M293.4 286.6h0M292.7 289h0M275.9 291.3h0M295.1 285.7h0M269.7 290.1h0M270.3 305.1h0M287 277.2h0M304.4 294.2h0M277.5 292.9h0M279.5 287.4h0M271.2 262.1h0M288.8 296.4h0M279.2 306.3h0M293.2 286.6h0M263.8 289.6h0M285 296h0M285.7 271.8h0M293.3 299.8h0M287.9 255.9h0M283.9 300.5h0M294.2 242.6h0M281.6 296.3h0M288.4 264.1h0M287.4 258.4h0M304.2 286.6h0M295.9 290.9h0M279 302.6h0M282.3 268.6h0M294.3 293.3h0M297.5 283.4h0M269.1 276.5h0M289.2 255.3h0M288 287h0M289.9 288.6h0M278.7 288.9h0M289.4 306h0M284.8 291.5h0M314.2 278.2h0M292.7 294.5h0M278.5 296h0M285.4 298.6h0M302.4 240.1h0M266.5 294.9h0M271.2 301.8h0M283 292.2h0M289 292.1h0M300 288.3h0M257.2 285.2h0M280.7 298.9h0M264.3 291.5h0M275.1 293.9h0M302.9 230.5h0M280.4 296.2h0M266.3 294h0M293.2 284.1h0M277.1 302.1h0M289.9 283.7h0M291.8 270.6h0M291.8 290.2h0M278.5 269.7h0M297.9 290h0M295.9 294.4h0M299.8 292.9h0M298 303.6h0M289.1 290.3h0M300 298.8h0M282.3 294.5h0M291.7 299.5h0M291.2 286.1h0M289.6 295.9h0M296.8 292.5h0M276.1 283.4h0M292.5 299.9h0M279.3 295.9h0M279.1 282h0M292.4 295.3h0M298.6 295.6h0M277.3 236.6h0M300.1 286.8h0M262.6 284.3h0M326.4 270.5h0M301.8 286.1h0M281.1 285.9h0M282.4 298.2h0M286.5 299.3h0M280.3 291.5h0M307 277.8h0M310.6 295h0M278.4 305.3h0M267.2 294.7h0M277.7 283.3h0M254.3 291.1h0M295.3 288.6h0M294.3 293h0M285.9 287.3h0M274.1 297.3h0M313.2 274.4h0M279.3 283.4h0M242.7 291.2h0M267.1 279.5h0M264.1 276.5h0M268.2 300.8h0M248.3 298.2h0M289.6 299.8h0M291.2 305.3h0M283.8 301.7h0M285.7 270.5h0M300.9 287.5h0M274.1 291h0M296.3 300.3h0M306.4 291.5h0M265.4 304.3h0M288.3 288h0M294.7 298.8h0M277 221.2h0M288.7 279.6h0M307.7 276.4h0M290.3 294.3h0M295.4 267.6h0M299.1 294.5h0M303.4 291.7h0M285.2 225.6h0M289.9 306.6h0M306.8 295.8h0M256.6 295.8h0M278.2 285.4h0M289.8 301.8h0M286.4 285.1h0M283.1 271h0M298 295.6h0M296 272.7h0M299.2 293.2h0M278.5 287h0M297.9 293.6h0M291.5 284.1h0M284.6 259h0M287.2 300h0M288.9 292.9h0M274.6 301.9h0M292.9 304.6h0M281.9 289.7h0M281.1 277.1h0M274.7 281.4h0M289.6 282.9h0M275 287h0M264 290.5h0M301.3 290.6h0M275.3 290.7h0M301.3 286.4h0M297.7 288h0M297.7 287.6h0M293.2 270.1h0M286.3 279.6h0M284.2 293.5h0M285.9 284.7h0M273.1 279.3h0M301.7 292h0M290.6 293.7h0M302.7 279.8h0M293.9 281.7h0M306 303.1h0M278.8 284.4h0M284.7 299h0M276 244.3h0M314.9 297.9h0M286.9 268.9h0M293.2 287.5h0M283.9 306.1h0M299.7 233.5h0M276.7 293.7h0M282.2 290.6h0M288.5 294.5h0M294.6 300.6h0M294.2 281.3h0M285.6 273.8h0M298.9 295.1h0M299.6 294.9h0M265 289h0M267.5 294.4h0M257.5 304h0M284.5 221.9h0M297.2 283.2h0M283.9 288.4h0M275.8 293.2h0M304 294.1h0M303 283h0M299.5 298h0M296 297.6h0M290.8 284.1h0M289.4 282.5h0M273.6 285.7h0M289.3 296.6h0M285.2 290.2h0M282.8 297h0M281.6 306.7h0M310.5 287.8h0M269 300.5h0M302.3 272.3h0M290.4 289.6h0M290.1 291.4h0M299.1 290.8h0M288.1 287.9h0M274.7 305.5h0M279 277.4h0M309 303h0M295.2 293.9h0M277.6 294.1h0M290.8 296.8h0M294.6 286.3h0M269 298.9h0M290.6 292.3h0M288.9 225.4h0M277.5 297.6h0M302.4 266.2h0M282.7 304.6h0M287.8 262.6h0M279.9 292h0M286.3 287.8h0M282.8 302.9h0M312.7 271.6h0M286.5 287.9h0M291.8 266.4h0M277.2 288.7h0M302.7 295.3h0M289.5 288.7h0M272.2 291.4h0M290 297.5h0M267.4 280h0M303.9 275.9h0M275.5 298.3h0M286.5 290.1h0M283 296.6h0M269.1 292.8h0M290.6 300h0M278.6 300.8h0M296.7 296.3h0M299.8 283.4h0M272.1 296.6h0M281.3 280.9h0M275.6 284.5h0M297.8 296.3h0M301 295.4h0M303.8 281.9h0M282.2 295.9h0M291.2 295.4h0M274.4 280.1h0M282.9 283.2h0M286.5 288.3h0M288.8 281.6h0M284.1 292h0M283.5 306.8h0M296.9 261.2h0M289.8 289.7h0M286.3 278.4h0M281.5 303.9h0M297 290.4h0M280 290.8h0M268.5 275.9h0M281.1 289h0M288.3 283.3h0M281.5 258.6h0M285.4 295.9h0M288 294.4h0M268.7 285.6h0M277 296.1h0M276.7 281.9h0M295.1 280.3h0M285.3 302.5h0M263.9 305.2h0M279.1 260h0M293 290.6h0M300.5 305.3h0M274 302.2h0M303.9 287.5h0M295.7 288.5h0M293.7 293h0M285.6 275.6h0M292.4 299h0M283.7 284.1h0M284.8 291h0M293.4 303.7h0M294.1 301h0M294.2 291.6h0M296.1 298.5h0M277.7 297.1h0M281.3 295h0M287.6 290.6h0M290.1 217.4h0M286.9 288.1h0M299.8 293.7h0M291.9 301h0M286.8 275.1h0M288.7 303.1h0M271.5 288.6h0M278.6 306.2h0M274.1 299.3h0M301.4 295.3h0M276.9 290.3h0M279.4 282.8h0M271.1 304.5h0M287.2 266.1h0M269.6 259h0M292.8 298.9h0M309.5 304.6h0M290.7 292.5h0M292 304.7h0M298.7 280.6h0M303.5 285h0M295.2 269h0M274.3 279.8h0M287.2 294.3h0M266.8 283.6h0M279.6 306h0M307.1 282.2h0M290 286.8h0M284.5 297.8h0M294 301.6h0M287 291h0M286.5 291.4h0M287.5 302.9h0M300.5 271.9h0M279 298.8h0M272.8 290.3h0M302.2 303.9h0M318.1 299.2h0M299.1 291.4h0M272.6 303.7h0M290.4 279.3h0M274.4 305.6h0M289 259.8h0M278.1 281h0M284.5 297.4h0M280.6 284.4h0M280.3 292.5h0M274.9 296.8h0M284.1 284.1h0M284.2 306.9h0M305 302.3h0M280.2 306.2h0M288.6 285h0M285.6 279.7h0M280.7 283.6h0M268.2 277.2h0M291.4 295.2h0M281.4 276.4h0M279.4 287.8h0M302.6 296.3h0M300.6 294.9h0M294.1 295.5h0M282.2 295.4h0M276.9 302.3h0M278.3 294.6h0M277 303.4h0M284.5 289.6h0M295.4 297h0M286 282.5h0M280 305.9h0M288.2 268.5h0M288.6 294.6h0M292.7 278.9h0M288.1 289.5h0M269.3 297.2h0M287.2 295.3h0M268 301.6h0M284.1 277.5h0M290.3 276.2h0M282.5 295h0M278.8 300.9h0M282.1 290.8h0M295.5 287.1h0M313.3 260h0M272 277.3h0M286.2 283.1h0M295.2 295.5h0M294 289.4h0M296.4 301.7h0M285.5 305.3h0M282 277.9h0M287.8 297h0M269.7 292h0M277.2 285.3h0M276.6 294.2h0M281.2 292.4h0M278.8 296.3h0M277.5 274.7h0M292 288.5h0M286.9 296.8h0M278.1 294.5h0M280.1 294.9h0M289.3 295.9h0M303.7 283.7h0M288.3 285.4h0M281.7 295.2h0M293.8 291.6h0M266.4 306.6h0M277.8 291.2h0M285.9 295.5h0M293.2 260.6h0M294.8 296.4h0M278.2 283.5h0M289.2 301.9h0M271.8 303.1h0M294.5 290.4h0M275.9 291.8h0M286.3 295.5h0M289.2 302.7h0M292.6 298.7h0M295.6 277.4h0M290.5 305.2h0M302.5 291.1h0M285.5 287.1h0M296.8 287.5h0M291 275.2h0M303.7 265.3h0M287.1 297.5h0M275.7 301h0M300.9 294.9h0M289.2 282.7h0M274.3 304.4h0M276.1 278.6h0M286.7 300.8h0M283.7 295.3h0M289.3 277.7h0M273.4 293.5h0M309.6 288.1h0M283.7 298.5h0M311.4 304.1h0M290.1 300.7h0M286.8 297.8h0M290 252.7h0M273 305.4h0M300.3 269.7h0M283.4 284.3h0M279.6 298.7h0M290.5 287.4h0M285.4 271.9h0M283.9 268.9h0M288.5 271h0M290.8 263.9h0M284.6 280.4h0M282.8 306h0M254 288.8h0M278.6 297.9h0M295.6 290h0M285 285.2h0M287.9 292.2h0M298.1 276.8h0M300 283.6h0M282.9 296.5h0M281.7 287.1h0M280.9 306.2h0M282.5 292.1h0M279.9 270.1h0M285.9 300.5h0M282.7 285.7h0M277.2 292.7h0M276.3 298.5h0M288.1 290.5h0M285.1 264.5h0M292.9 294h0M293.8 305.7h0M291 297.2h0M257.7 292.2h0M288.4 290.2h0M276.1 247.5h0M290.2 268.6h0M275.7 300.7h0M289.4 300.7h0M294.6 301.1h0M289.7 258.8h0M279.2 280.4h0M299.9 278.3h0M289.2 293.3h0M271.4 306.7h0M282.7 292.1h0M260.9 300.5h0M274.1 277.4h0M278.3 290.2h0M310.1 291.8h0M284.3 306.2h0M284.2 281.7h0M306.7 290.6h0M289 276.2h0M284.3 288.1h0M286.4 258.6h0M286.9 287.2h0M297.4 285.6h0M296.4 296.7h0M266.5 284.1h0M293.4 276.7h0M303.1 296.9h0M286.3 301.8h0M285.7 271.3h0M271.9 262.2h0M290.6 292.5h0M292.9 299.9h0M290.2 280.2h0M292.6 303.2h0M301.5 281.4h0M296.6 242.5h0M295.7 302.7h0M291.1 299.5h0M273.9 294.9h0M287.8 276.8h0M299.4 282.5h0M287.8 294.5h0M289.8 283.3h0M291.6 281.9h0M269.4 288.5h0M282.7 250.7h0M289.9 298.5h0M292.2 276.8h0M282.8 298.2h0M294.7 291.3h0M286.4 305.4h0M280.6 293.8h0M296.5 304.1h0M279.2 291.2h0M221.2 301.7h0M237 306.9h0M239.6 306.9h0M338.2 304.3h0M337.6 293.3h0M329.7 280.6h0M319.8 246.5h0" stroke="#000" stroke-width="3.1" stroke-linecap="round" clip-path="url(#cHAUS6)"/>
<path d="M221.2 282 L222.6 282.5 L224.2 283.2 L226.2 284 L228.3 285 L230.7 286.1 L233.2 287.1 L235.8 288.2 L238.5 289.1 L241.2 289.9 L243.8 290.6 L246.4 291 L248.8 291.2 L251.2 291 L253.7 290.5 L256.3 289.8 L258.9 288.9 L261.6 287.9 L264.2 286.8 L266.7 285.7 L269.2 284.7 L271.6 283.7 L273.8 282.9 L275.9 282.3 L277.7 282 L279.4 281.9 L280.9 282.1 L282.2 282.4 L283.4 282.9 L284.4 283.4 L285.4 284 L286.4 284.7 L287.3 285.3 L288.1 285.8 L289 286.3 L289.9 286.6 L290.9 286.7 L291.8 286.6 L292.7 286.4 L293.6 286.2 L294.5 285.8 L295.3 285.3 L296.1 284.9 L296.9 284.4 L297.8 283.8 L298.6 283.3 L299.5 282.8 L300.4 282.4 L301.4 282 L302.4 281.6 L303.4 281.3 L304.5 280.9 L305.6 280.6 L306.7 280.2 L307.8 279.9 L308.9 279.6 L310 279.3 L311.2 278.9 L312.3 278.6 L313.4 278.3 L314.5 278 L315.6 277.7 L316.7 277.4 L317.9 277.1 L319 276.8 L320.1 276.4 L321.2 276.1 L322.4 275.8 L323.5 275.5 L324.5 275.3 L325.6 275 L326.6 274.8 L327.6 274.6 L328.6 274.4 L329.7 274.3 L330.7 274.1 L331.7 274 L332.7 273.9 L333.7 273.9 L334.7 273.8 L335.5 273.7 L336.3 273.7 L337 273.6 L337.7 273.6 L338.2 273.6 L338.2 297.7 L337.7 297.5 L337 297.3 L336.3 297.1 L335.5 296.8 L334.7 296.6 L333.7 296.2 L332.7 295.9 L331.7 295.5 L330.7 295.1 L329.7 294.7 L328.6 294.3 L327.6 293.8 L326.6 293.2 L325.6 292.6 L324.5 291.9 L323.5 291.1 L322.4 290.3 L321.2 289.5 L320.1 288.7 L319 288 L317.9 287.3 L316.7 286.7 L315.6 286.2 L314.5 285.9 L313.4 285.7 L312.3 285.6 L311.2 285.6 L310 285.7 L308.9 285.8 L307.8 286 L306.7 286.3 L305.6 286.6 L304.5 286.8 L303.4 287.2 L302.4 287.5 L301.4 287.7 L300.4 288.1 L299.5 288.5 L298.6 288.9 L297.8 289.5 L296.9 290 L296.1 290.5 L295.3 291 L294.5 291.5 L293.6 291.9 L292.7 292.2 L291.8 292.4 L290.9 292.5 L289.9 292.4 L289 292 L288.1 291.6 L287.3 291 L286.4 290.3 L285.4 289.6 L284.4 289 L283.4 288.4 L282.2 288 L280.9 287.7 L279.4 287.6 L277.7 287.7 L275.9 288.1 L273.8 288.6 L271.6 289.3 L269.2 290 L266.7 290.9 L264.2 291.9 L261.6 293 L258.9 294.2 L256.3 295.5 L253.7 296.8 L251.2 298.3 L248.8 299.8 L246.4 301.6 L243.8 303.6 L241.2 305.9 L238.5 308.3 L235.8 310.8 L233.2 313.3 L230.7 315.8 L228.3 318.2 L226.2 320.4 L224.2 322.4 L222.6 324 L221.2 325.3Z" fill="#999" fill-opacity="0.4" clip-path="url(#cHAUS6)"/>
<path d="M221.2 303 C225.8 301.7 239.4 298.2 248.8 295.1 C258.2 292 270.7 285.6 277.7 284.6 C284.7 283.6 286.9 289.3 290.9 289.3 C294.8 289.3 297.4 285.9 301.4 284.6 C305.3 283.3 310.1 281.4 314.5 281.4 C318.9 281.4 323.7 283.1 327.6 284.6 C331.6 286.1 336.4 289.4 338.2 290.4" fill="none" stroke="#3a68b8" stroke-width="1.1" clip-path="url(#cHAUS6)"/>
<text x="340.6" y="222.2" text-anchor="end" fill="#e03b3b" font-size="6.8" stroke="#e03b3b" stroke-width="0.22">cor = 0.178</text>
<text x="340.6" y="232.2" text-anchor="end" fill="#e03b3b" font-size="6.8" stroke="#e03b3b" stroke-width="0.22">p = 4.68e−05</text>
<rect x="215.5" y="212" width="129.1" height="118" fill="none" stroke="#333" stroke-width="0.9"/>
<rect x="215.5" y="199.3" width="129.1" height="12.7" fill="#d9d9d9" stroke="#333" stroke-width="0.9"/>
<text x="280.1" y="207.8" text-anchor="middle" fill="#1a1a1a" font-size="6.4" stroke="#1a1a1a" stroke-width="0.22">HAUS6</text>
<rect x="202.8" y="212" width="12.7" height="118" fill="#d9d9d9" stroke="#333" stroke-width="0.9"/>
<text transform="translate(211.3 271) rotate(-90)" text-anchor="middle" fill="#1a1a1a" font-size="6.4" stroke="#1a1a1a" stroke-width="0.22">CD274</text>
<line x1="244.1" y1="330" x2="244.1" y2="332.2" stroke="#333" stroke-width="0.9"/>
<text x="244.1" y="338.9" text-anchor="middle" fill="#4d4d4d" font-size="6.8">2</text>
<line x1="273.3" y1="330" x2="273.3" y2="332.2" stroke="#333" stroke-width="0.9"/>
<text x="273.3" y="338.9" text-anchor="middle" fill="#4d4d4d" font-size="6.8">3</text>
<line x1="302.5" y1="330" x2="302.5" y2="332.2" stroke="#333" stroke-width="0.9"/>
<text x="302.5" y="338.9" text-anchor="middle" fill="#4d4d4d" font-size="6.8">4</text>
<line x1="331.7" y1="330" x2="331.7" y2="332.2" stroke="#333" stroke-width="0.9"/>
<text x="331.7" y="338.9" text-anchor="middle" fill="#4d4d4d" font-size="6.8">5</text>
<line x1="202.8" y1="330" x2="215.5" y2="330" stroke="#333" stroke-width="0.9"/>
<line x1="200.6" y1="326.9" x2="202.8" y2="326.9" stroke="#333" stroke-width="0.9"/>
<text x="199.8" y="329.3" text-anchor="end" fill="#4d4d4d" font-size="6.8">−1</text>
<line x1="200.6" y1="306.9" x2="202.8" y2="306.9" stroke="#333" stroke-width="0.9"/>
<text x="199.8" y="309.3" text-anchor="end" fill="#4d4d4d" font-size="6.8">0</text>
<line x1="200.6" y1="286.9" x2="202.8" y2="286.9" stroke="#333" stroke-width="0.9"/>
<text x="199.8" y="289.3" text-anchor="end" fill="#4d4d4d" font-size="6.8">1</text>
<line x1="200.6" y1="266.9" x2="202.8" y2="266.9" stroke="#333" stroke-width="0.9"/>
<text x="199.8" y="269.3" text-anchor="end" fill="#4d4d4d" font-size="6.8">2</text>
<line x1="200.6" y1="246.9" x2="202.8" y2="246.9" stroke="#333" stroke-width="0.9"/>
<text x="199.8" y="249.3" text-anchor="end" fill="#4d4d4d" font-size="6.8">3</text>
<line x1="200.6" y1="226.9" x2="202.8" y2="226.9" stroke="#333" stroke-width="0.9"/>
<text x="199.8" y="229.3" text-anchor="end" fill="#4d4d4d" font-size="6.8">4</text>
<text x="280.1" y="349" text-anchor="middle" fill="#000" font-size="8.2" stroke="#000" stroke-width="0.22">Expression Level (log2 TPM)</text>
<text transform="translate(191.5 271) rotate(-90)" text-anchor="middle" fill="#000" font-size="8.2" stroke="#000" stroke-width="0.22">Expression Level (log2 TPM)</text>
<rect x="381.6" y="212" width="132.6" height="118" fill="#fff"/>
<clipPath id="cHAUS7"><rect x="381.6" y="212" width="132.6" height="118"/></clipPath>
<line x1="384.7" y1="212" x2="384.7" y2="330" stroke="#ebebeb" stroke-width="0.9"/>
<line x1="398" y1="212" x2="398" y2="330" stroke="#f3f3f3" stroke-width="0.5"/>
<line x1="411.3" y1="212" x2="411.3" y2="330" stroke="#ebebeb" stroke-width="0.9"/>
<line x1="424.6" y1="212" x2="424.6" y2="330" stroke="#f3f3f3" stroke-width="0.5"/>
<line x1="437.9" y1="212" x2="437.9" y2="330" stroke="#ebebeb" stroke-width="0.9"/>
<line x1="451.2" y1="212" x2="451.2" y2="330" stroke="#f3f3f3" stroke-width="0.5"/>
<line x1="464.5" y1="212" x2="464.5" y2="330" stroke="#ebebeb" stroke-width="0.9"/>
<line x1="477.8" y1="212" x2="477.8" y2="330" stroke="#f3f3f3" stroke-width="0.5"/>
<line x1="491.1" y1="212" x2="491.1" y2="330" stroke="#ebebeb" stroke-width="0.9"/>
<line x1="504.4" y1="212" x2="504.4" y2="330" stroke="#f3f3f3" stroke-width="0.5"/>
<line x1="381.6" y1="327.2" x2="514.2" y2="327.2" stroke="#f3f3f3" stroke-width="0.5"/>
<line x1="381.6" y1="316.1" x2="514.2" y2="316.1" stroke="#ebebeb" stroke-width="0.9"/>
<line x1="381.6" y1="305.1" x2="514.2" y2="305.1" stroke="#f3f3f3" stroke-width="0.5"/>
<line x1="381.6" y1="294" x2="514.2" y2="294" stroke="#ebebeb" stroke-width="0.9"/>
<line x1="381.6" y1="283" x2="514.2" y2="283" stroke="#f3f3f3" stroke-width="0.5"/>
<line x1="381.6" y1="271.9" x2="514.2" y2="271.9" stroke="#ebebeb" stroke-width="0.9"/>
<line x1="381.6" y1="260.9" x2="514.2" y2="260.9" stroke="#f3f3f3" stroke-width="0.5"/>
<line x1="381.6" y1="249.8" x2="514.2" y2="249.8" stroke="#ebebeb" stroke-width="0.9"/>
<line x1="381.6" y1="238.8" x2="514.2" y2="238.8" stroke="#f3f3f3" stroke-width="0.5"/>
<line x1="381.6" y1="227.7" x2="514.2" y2="227.7" stroke="#ebebeb" stroke-width="0.9"/>
<line x1="381.6" y1="216.7" x2="514.2" y2="216.7" stroke="#f3f3f3" stroke-width="0.5"/>
<path d="M415.3 285.9h0M418.1 305.2h0M411.3 308.5h0M407 303.2h0M403.6 301.7h0M406.1 311.5h0M415.8 298.2h0M432.6 250.4h0M410.7 308.7h0M409.5 289.7h0M422.8 305.2h0M405.6 298.1h0M420.9 293.4h0M428.8 291.4h0M462.4 306.1h0M421.8 298.7h0M402.8 304.5h0M407.2 282.2h0M397.6 290.9h0M403.3 307h0M398.1 296.7h0M413.1 291.9h0M419.8 294.6h0M417.8 282.5h0M419.1 286.7h0M429.5 304.6h0M424.2 282h0M422.8 282.8h0M438 281.9h0M413.5 296.9h0M401 273.1h0M407.7 296.8h0M406.2 314.4h0M393.6 302.2h0M424.7 289.5h0M405.9 308.6h0M415 306.1h0M431.2 303.2h0M409.9 294.9h0M414.3 299.8h0M422.7 307h0M418.4 254.9h0M403.9 302.1h0M416 302.9h0M415.5 310.6h0M400.9 303.9h0M423.3 293.5h0M416.4 312.8h0M410.2 276.1h0M433.9 293.9h0M422.4 302.5h0M415.6 283h0M416 308.4h0M420.7 287.4h0M413.5 288.5h0M421.6 297h0M430.6 315.5h0M421.5 308.3h0M428.7 291.1h0M411.7 282.9h0M408.1 265.2h0M420.5 251.3h0M416.5 303.9h0M404.2 299h0M422 227.7h0M390.5 292.2h0M402 310.6h0M449.9 293.6h0M397.5 226.5h0M419.1 309h0M425.7 311.4h0M419.5 287.6h0M411 303.8h0M408 312.1h0M426.2 285.7h0M421.7 297.7h0M420.9 303.2h0M411.9 279.4h0M413 297h0M421.9 305.7h0M420.5 298h0M412.5 307.3h0M418.6 305.5h0M414.2 294.9h0M389.5 300.7h0M404.9 301.4h0M415.2 283.7h0M421.1 280.4h0M419.4 291.7h0M409.2 250.4h0M432.8 274.2h0M411.9 249.5h0M407.2 297.8h0M412.5 281.7h0M415.2 306.8h0M406.2 252.4h0M407.8 232.5h0M418.5 301.8h0M425.9 294.9h0M433 287.4h0M412.5 304h0M437.4 300.6h0M413.4 301.4h0M436.2 307h0M419.2 259.7h0M409.5 297.3h0M417.2 313.9h0M437.9 299.7h0M413.6 298.1h0M413.4 304h0M421.8 308h0M420.1 311.1h0M405.7 280.9h0M442.2 313h0M415.6 284.7h0M405.5 292.1h0M441.6 304.3h0M407.3 307.9h0M424.3 290.1h0M411.8 282.8h0M416.1 306.8h0M409.8 300.5h0M414.2 289h0M419.4 295.9h0M404.8 279.7h0M418.7 303.8h0M429.8 288.1h0M423.2 310.3h0M418.9 280.3h0M431.7 284.8h0M407.4 313.5h0M436.2 301.6h0M398.3 298h0M425.6 282.5h0M426.9 302.6h0M428.7 299.9h0M412.8 292.9h0M415.6 284.4h0M391.8 296.6h0M406.2 288.3h0M425.5 294.9h0M406.5 300.2h0M421.6 298.4h0M421.5 270.1h0M409.5 305.9h0M403.4 286.5h0M406.6 245.9h0M412.3 245h0M409.7 268.2h0M415.4 299.3h0M417.4 267.9h0M439.1 302.8h0M410.1 293.7h0M420.6 292.4h0M411.8 295.5h0M418.7 290h0M400.4 272.3h0M407.6 295.6h0M398.9 310.7h0M409 291h0M405.5 296.1h0M428.9 303.5h0M417.7 288.4h0M432.4 294h0M452.2 312.6h0M421.4 298.7h0M396.1 309.4h0M422.1 289.7h0M415.1 276.4h0M416 303.1h0M407.1 296.9h0M396.7 298.8h0M401.2 293.9h0M414 292.6h0M444.5 290h0M404 306h0M427.7 285.8h0M410.6 306.2h0M418 296.2h0M415 288.1h0M425.9 293.2h0M410.6 306.2h0M420.5 274.6h0M433.2 304.3h0M418.4 299.2h0M415.5 288.3h0M426.2 310.9h0M443.7 297.1h0M426.2 290h0M417.7 270.3h0M415.7 294.3h0M396.8 283.2h0M424.3 295h0M424.2 292.3h0M409.3 266.1h0M416.1 282.7h0M426.9 315.8h0M433 288.9h0M411 300.3h0M442.4 303.6h0M403.7 305.8h0M423.3 315.7h0M403.8 223h0M412.5 287.1h0M432.8 295.8h0M429.1 312.8h0M431.6 263.8h0M399.6 294.4h0M422.9 301.4h0M442.4 307.4h0M415.2 305.4h0M423.1 309.2h0M400 301.7h0M430.2 275.1h0M417.7 300.2h0M445.5 313.9h0M413 300.5h0M415.6 306.4h0M407.3 296.2h0M401.2 280.5h0M413.7 292.7h0M406.2 300.3h0M400 311.3h0M420 311.4h0M414.7 313.3h0M419.1 292.4h0M406.1 304.3h0M414.4 283.8h0M433.4 305.7h0M432.1 268h0M438.8 288.4h0M408 303.7h0M418.6 301.8h0M418.5 305.9h0M419.7 291.1h0M415.8 288.9h0M415.3 308.4h0M437.7 312.9h0M415.2 310.9h0M401.8 292.9h0M415.7 275.8h0M422.2 307.9h0M405.9 289.1h0M446.9 299.4h0M412.6 307.9h0M426 301.9h0M433.5 302.3h0M394.8 302.5h0M425.7 282.4h0M435.4 276.6h0M426.6 296.2h0M438 297.7h0M440.3 306h0M415.7 297.1h0M424.4 234.3h0M427.8 298.3h0M425.8 295.8h0M414.5 241.2h0M415.7 315.9h0M410.3 284.8h0M414 278.2h0M404.9 288.7h0M420.4 290h0M425.4 311.9h0M405.6 298.5h0M427.7 283h0M424.3 304.5h0M442.6 292.6h0M403.5 304.3h0M414 299.4h0M415.2 315.3h0M413.6 299.6h0M402.3 296.3h0M457 308.8h0M414.1 304.7h0M411 274.8h0M400.6 307.7h0M426 308.8h0M429.3 307h0M409.3 272h0M435.6 281.9h0M405.3 294.5h0M418 305h0M413.5 302h0M403.8 290.2h0M406 305.5h0M425 286.5h0M429.5 287.3h0M410.1 297.3h0M430.9 294.3h0M435.3 293.8h0M422 281.5h0M427.7 308.9h0M420.3 288.5h0M470.8 307.3h0M409.7 304.6h0M417.3 297.7h0M418.7 257.4h0M421 307.7h0M415.8 312.6h0M419.7 307.2h0M434.4 287.5h0M437.4 283.3h0M409.9 292.1h0M409.4 287.3h0M418.5 279.7h0M420 299.6h0M443.8 298.8h0M427.6 309.2h0M405 306.1h0M414.7 297.5h0M414.9 290.3h0M411.6 307.5h0M434.6 256.6h0M414.8 262h0M416.3 289.5h0M412.6 298.2h0M430.8 302.6h0M407.3 296.5h0M423.5 300.8h0M408.1 303.6h0M420.7 302.5h0M432 293.5h0M446.1 295.8h0M409.7 286.5h0M417.1 313.6h0M429.2 303.3h0M406 301.2h0M419.6 297.3h0M411.6 277h0M412.9 302.7h0M448.2 294.8h0M405.6 295.9h0M432.5 271.6h0M403.7 285.5h0M434.4 276.7h0M427.2 304.7h0M406.9 290.2h0M396.3 303h0M401.6 287.1h0M417.7 300.6h0M422.9 252.2h0M400.8 260.1h0M449.5 308.6h0M409.8 296.2h0M402.7 295.6h0M407.3 297.3h0M412.9 291.5h0M424.2 302.3h0M406.5 296.7h0M425.8 268.4h0M410.6 295.8h0M443.2 291.2h0M432.1 297.7h0M417.3 302.1h0M418.1 300.3h0M419.5 287.5h0M414.9 303.2h0M416 303.6h0M451.6 310.2h0M420 288.4h0M408 297.8h0M420.8 290.5h0M420.2 301.1h0M435.8 281h0M418.9 300.3h0M397.2 292.5h0M418.5 291.4h0M404.7 270.3h0M421.9 305h0M423.4 306.1h0M426.5 256.9h0M412.8 300.6h0M412.6 245.5h0M421.2 286.1h0M433.4 282h0M421.4 294.3h0M408 301.2h0M449.8 281.1h0M414.8 294.9h0M413.6 293.4h0M404.6 298.9h0M416.4 311h0M418.5 248.3h0M392.5 292.6h0M425.2 295.9h0M426.4 301.7h0M410.9 308.3h0M430.2 231.8h0M414.1 301.2h0M411.7 310.9h0M425.2 291.5h0M436.4 290.3h0M401.8 272.1h0M412.4 280.8h0M413.5 303.5h0M436.5 308.2h0M420.9 303.8h0M399.2 302.1h0M435.3 302h0M416.9 290h0M418.9 293.4h0M411.8 292.9h0M424.9 297.5h0M417.2 292.8h0M394.5 283.5h0M406.6 307h0M441.1 305h0M419.6 311.1h0M397.6 282.3h0M427.8 288.2h0M404.3 258.2h0M411.5 308.6h0M411.7 296.5h0M432.7 302.2h0M425.1 298.7h0M429.7 301.5h0M413.7 293.7h0M430.1 303.4h0M407.5 287.8h0M425.8 297.3h0M448.8 304.4h0M412.8 291.4h0M426.4 303.4h0M403.6 290.1h0M425.3 301.8h0M418.4 296.1h0M397.5 300.1h0M410.6 311.1h0M446.7 293.5h0M414.8 307.7h0M410.3 291.9h0M408.4 241.9h0M453.2 315.4h0M432.1 273.8h0M422.4 303.7h0M414.8 305.6h0M423.5 309.7h0M433.5 281.1h0M415.3 300.5h0M409.2 294.4h0M418.1 302.5h0M393.9 293.6h0M410.5 304.6h0M422.2 281.4h0M468.7 298.6h0M418.9 298.4h0M434.3 304.4h0M443.8 310.9h0M431.3 298.5h0M404.9 294.3h0M420.9 301.3h0M414.8 305.2h0M445.1 296.6h0M408.3 289.9h0M415.8 301.1h0M424.2 296.3h0M406.9 294.2h0M418.3 311.4h0M399.3 295.7h0M421.4 305.3h0M405.2 285.2h0M398.5 299h0M414.7 305.2h0M425.6 301.4h0M418 251h0M405.2 302.4h0M408.4 298.2h0M404.8 309.3h0M412 285.9h0M407.8 290.8h0M408.6 280.3h0M420.7 292.7h0M408.3 295.3h0M419.3 288.4h0M429.1 290.8h0M434.8 245.8h0M398.2 287.1h0M422.6 282.1h0M412.3 295.8h0M417.6 297.1h0M415 295.7h0M428.6 298h0M415.8 305.4h0M408.8 314.5h0M405.6 303.4h0M400.8 314.4h0M405.9 296.9h0M402.9 297.1h0M399.6 311.7h0M422.9 293.1h0M406.3 289.9h0M423 298.3h0M412 283.3h0M409.7 281.3h0M389 306.5h0M424.5 272.6h0M405.3 293.5h0M400.1 293.2h0M415 229.6h0M397.9 288.5h0M411.1 255.8h0M413.5 305.5h0M428.2 306.4h0M389.9 296.8h0M411.6 310.9h0M407.2 306.9h0M398.6 291.7h0M411.6 298.7h0M415 295h0M393.7 313h0M407.4 282.9h0M425.1 304.3h0M414.7 298.1h0M429 305h0M456.6 294.3h0M432.7 300.7h0M423.2 278h0M396 296.4h0M414.7 292.1h0M420.3 243.9h0M408.4 287.8h0M414.7 294.3h0M405.6 296.1h0M437.7 300.3h0M414.3 293.7h0M417.6 289.7h0M413.6 289.9h0M410.8 268.5h0M418.2 291h0M413.1 297.2h0M410.2 286.8h0M415.1 290.7h0M415.2 315.4h0M402.6 285.3h0M416.3 297.6h0M435.9 285h0M409.1 288.7h0M416.1 306.3h0M409.5 290.7h0M416.9 278.1h0M416.7 312.4h0M413.8 293.4h0M411.8 283.3h0M427.7 282.7h0M406.2 306.8h0M412.8 313.7h0M410.1 297.3h0M416.1 301.6h0M404.1 301h0M417.5 315.1h0M427.2 295.8h0M398.2 281.9h0M411.2 314.9h0M420.4 288.6h0M399.8 301.9h0M404.9 276.6h0M417.6 294.8h0M417.9 300.3h0M418.9 289h0M409.2 293.2h0M412.9 303.4h0M431.2 293.7h0M419.3 303.3h0M417.2 314.4h0M401.2 279.1h0M420.3 302h0M426.2 304.9h0M424.7 296.4h0M417.5 312.4h0M400.8 308.9h0M431.9 304.5h0M410.8 302.6h0M391.7 295.4h0M432.7 290.2h0M401.4 301.2h0M403.2 292.9h0M414.7 263h0M431.8 309.7h0M411.8 296.1h0M387.3 286.7h0M391.2 296.4h0M390.4 278h0M508.2 297.2h0M485.8 303.5h0M480.6 303.5h0M468.7 299h0M460.9 307.7h0" stroke="#000" stroke-width="3.1" stroke-linecap="round" clip-path="url(#cHAUS7)"/>
<path d="M387.3 276.7 L388.1 277.4 L389 278.2 L390.1 279.3 L391.4 280.5 L392.7 281.7 L394.2 283 L395.7 284.4 L397.2 285.7 L398.7 286.9 L400.2 288 L401.7 289 L403.1 289.8 L404.4 290.5 L405.7 291.1 L407.1 291.6 L408.5 292.1 L409.9 292.5 L411.3 292.8 L412.6 293.1 L414 293.3 L415.3 293.5 L416.5 293.6 L417.7 293.7 L418.8 293.8 L419.9 293.8 L420.9 293.7 L421.8 293.5 L422.7 293.2 L423.6 292.9 L424.4 292.6 L425.2 292.3 L426 291.9 L426.8 291.7 L427.6 291.4 L428.5 291.2 L429.3 291.2 L430.2 291.2 L431 291.2 L431.8 291.3 L432.6 291.4 L433.4 291.6 L434.3 291.8 L435.1 292 L435.9 292.2 L436.8 292.4 L437.8 292.6 L438.8 292.8 L439.8 293 L441 293.2 L442.2 293.4 L443.4 293.6 L444.7 293.8 L446 294 L447.4 294.2 L448.8 294.5 L450.2 294.6 L451.5 294.8 L452.9 294.9 L454.3 295 L455.6 295.1 L456.9 295.1 L458.2 295.2 L459.4 295.2 L460.7 295.2 L461.9 295.2 L463.2 295.1 L464.4 295.1 L465.7 294.9 L467.1 294.7 L468.4 294.5 L469.9 294.2 L471.4 293.8 L473 293.3 L474.6 292.7 L476.4 292.1 L478.2 291.4 L480 290.7 L481.9 289.9 L483.7 289.1 L485.6 288.2 L487.4 287.3 L489.1 286.4 L490.8 285.5 L492.4 284.6 L493.9 283.6 L495.5 282.5 L497.1 281.4 L498.6 280.2 L500.1 278.9 L501.6 277.7 L503 276.5 L504.3 275.4 L505.4 274.3 L506.5 273.4 L507.4 272.6 L508.2 272 L508.2 324.5 L507.4 324.3 L506.5 323.9 L505.4 323.5 L504.3 323.1 L503 322.6 L501.6 322.1 L500.1 321.6 L498.6 321 L497.1 320.4 L495.5 319.9 L493.9 319.3 L492.4 318.7 L490.8 318.2 L489.1 317.6 L487.4 317 L485.6 316.4 L483.7 315.7 L481.9 315.1 L480 314.4 L478.2 313.8 L476.4 313.2 L474.6 312.5 L473 312 L471.4 311.4 L469.9 310.9 L468.4 310.3 L467.1 309.8 L465.7 309.3 L464.4 308.9 L463.2 308.4 L461.9 307.9 L460.7 307.5 L459.4 307 L458.2 306.6 L456.9 306.1 L455.6 305.6 L454.3 305.1 L452.9 304.6 L451.5 304.1 L450.2 303.6 L448.8 303.1 L447.4 302.6 L446 302.1 L444.7 301.6 L443.4 301.1 L442.2 300.7 L441 300.2 L439.8 299.8 L438.8 299.4 L437.8 299.1 L436.8 298.7 L435.9 298.3 L435.1 297.9 L434.3 297.6 L433.4 297.3 L432.6 297 L431.8 296.8 L431 296.6 L430.2 296.5 L429.3 296.4 L428.5 296.4 L427.6 296.6 L426.8 296.7 L426 297 L425.2 297.3 L424.4 297.6 L423.6 298 L422.7 298.3 L421.8 298.6 L420.9 298.8 L419.9 299 L418.8 299 L417.7 299 L416.5 298.8 L415.3 298.6 L414 298.3 L412.6 297.9 L411.3 297.6 L409.9 297.3 L408.5 297 L407.1 296.9 L405.7 296.8 L404.4 296.9 L403.1 297.2 L401.7 297.7 L400.2 298.4 L398.7 299.3 L397.2 300.3 L395.7 301.4 L394.2 302.6 L392.7 303.8 L391.4 304.9 L390.1 305.9 L389 306.9 L388.1 307.7 L387.3 308.2Z" fill="#999" fill-opacity="0.4" clip-path="url(#cHAUS7)"/>
<path d="M387.3 292.5 C389.9 292.6 397.8 292.6 403.1 293.3 C408.3 293.9 414.4 296.3 418.8 296.4 C423.2 296.5 425.8 293.8 429.3 293.8 C432.8 293.8 435.5 295.3 439.8 296.4 C444.2 297.5 450.4 299.3 455.6 300.4 C460.9 301.4 465.2 302.2 471.4 302.5 C477.5 302.7 486.3 302.5 492.4 301.7 C498.5 300.8 505.5 297.9 508.2 297.2" fill="none" stroke="#3a68b8" stroke-width="1.1" clip-path="url(#cHAUS7)"/>
<text x="510.2" y="222.2" text-anchor="end" fill="#e03b3b" font-size="6.8" stroke="#e03b3b" stroke-width="0.22">cor = −0.155</text>
<text x="510.2" y="232.2" text-anchor="end" fill="#e03b3b" font-size="6.8" stroke="#e03b3b" stroke-width="0.22">p = 4.06e−04</text>
<rect x="381.6" y="212" width="132.6" height="118" fill="none" stroke="#333" stroke-width="0.9"/>
<rect x="381.6" y="199.3" width="132.6" height="12.7" fill="#d9d9d9" stroke="#333" stroke-width="0.9"/>
<text x="447.9" y="207.8" text-anchor="middle" fill="#1a1a1a" font-size="6.4" stroke="#1a1a1a" stroke-width="0.22">HAUS7</text>
<rect x="369.3" y="212" width="12.3" height="118" fill="#d9d9d9" stroke="#333" stroke-width="0.9"/>
<text transform="translate(377.7 271) rotate(-90)" text-anchor="middle" fill="#1a1a1a" font-size="6.4" stroke="#1a1a1a" stroke-width="0.22">CD274</text>
<line x1="384.7" y1="330" x2="384.7" y2="332.2" stroke="#333" stroke-width="0.9"/>
<text x="384.7" y="338.9" text-anchor="middle" fill="#4d4d4d" font-size="6.8">3</text>
<line x1="411.3" y1="330" x2="411.3" y2="332.2" stroke="#333" stroke-width="0.9"/>
<text x="411.3" y="338.9" text-anchor="middle" fill="#4d4d4d" font-size="6.8">4</text>
<line x1="437.9" y1="330" x2="437.9" y2="332.2" stroke="#333" stroke-width="0.9"/>
<text x="437.9" y="338.9" text-anchor="middle" fill="#4d4d4d" font-size="6.8">5</text>
<line x1="464.5" y1="330" x2="464.5" y2="332.2" stroke="#333" stroke-width="0.9"/>
<text x="464.5" y="338.9" text-anchor="middle" fill="#4d4d4d" font-size="6.8">6</text>
<line x1="491.1" y1="330" x2="491.1" y2="332.2" stroke="#333" stroke-width="0.9"/>
<text x="491.1" y="338.9" text-anchor="middle" fill="#4d4d4d" font-size="6.8">7</text>
<line x1="369.3" y1="330" x2="381.6" y2="330" stroke="#333" stroke-width="0.9"/>
<line x1="367.1" y1="316.1" x2="369.3" y2="316.1" stroke="#333" stroke-width="0.9"/>
<text x="366.3" y="318.5" text-anchor="end" fill="#4d4d4d" font-size="6.8">0</text>
<line x1="367.1" y1="294" x2="369.3" y2="294" stroke="#333" stroke-width="0.9"/>
<text x="366.3" y="296.4" text-anchor="end" fill="#4d4d4d" font-size="6.8">1</text>
<line x1="367.1" y1="271.9" x2="369.3" y2="271.9" stroke="#333" stroke-width="0.9"/>
<text x="366.3" y="274.3" text-anchor="end" fill="#4d4d4d" font-size="6.8">2</text>
<line x1="367.1" y1="249.8" x2="369.3" y2="249.8" stroke="#333" stroke-width="0.9"/>
<text x="366.3" y="252.2" text-anchor="end" fill="#4d4d4d" font-size="6.8">3</text>
<line x1="367.1" y1="227.7" x2="369.3" y2="227.7" stroke="#333" stroke-width="0.9"/>
<text x="366.3" y="230.1" text-anchor="end" fill="#4d4d4d" font-size="6.8">4</text>
<text x="447.9" y="349" text-anchor="middle" fill="#000" font-size="8.2" stroke="#000" stroke-width="0.22">Expression Level (log2 TPM)</text>
<text transform="translate(358 271) rotate(-90)" text-anchor="middle" fill="#000" font-size="8.2" stroke="#000" stroke-width="0.22">Expression Level (log2 TPM)</text>
<rect x="551.6" y="212" width="132.2" height="118" fill="#fff"/>
<clipPath id="cHAUS8"><rect x="551.6" y="212" width="132.2" height="118"/></clipPath>
<line x1="556.2" y1="212" x2="556.2" y2="330" stroke="#ebebeb" stroke-width="0.9"/>
<line x1="569.8" y1="212" x2="569.8" y2="330" stroke="#f3f3f3" stroke-width="0.5"/>
<line x1="583.3" y1="212" x2="583.3" y2="330" stroke="#ebebeb" stroke-width="0.9"/>
<line x1="596.9" y1="212" x2="596.9" y2="330" stroke="#f3f3f3" stroke-width="0.5"/>
<line x1="610.4" y1="212" x2="610.4" y2="330" stroke="#ebebeb" stroke-width="0.9"/>
<line x1="624" y1="212" x2="624" y2="330" stroke="#f3f3f3" stroke-width="0.5"/>
<line x1="637.5" y1="212" x2="637.5" y2="330" stroke="#ebebeb" stroke-width="0.9"/>
<line x1="651.1" y1="212" x2="651.1" y2="330" stroke="#f3f3f3" stroke-width="0.5"/>
<line x1="664.6" y1="212" x2="664.6" y2="330" stroke="#ebebeb" stroke-width="0.9"/>
<line x1="678.2" y1="212" x2="678.2" y2="330" stroke="#f3f3f3" stroke-width="0.5"/>
<line x1="551.6" y1="322.2" x2="683.8" y2="322.2" stroke="#ebebeb" stroke-width="0.9"/>
<line x1="551.6" y1="310.4" x2="683.8" y2="310.4" stroke="#f3f3f3" stroke-width="0.5"/>
<line x1="551.6" y1="298.7" x2="683.8" y2="298.7" stroke="#ebebeb" stroke-width="0.9"/>
<line x1="551.6" y1="286.9" x2="683.8" y2="286.9" stroke="#f3f3f3" stroke-width="0.5"/>
<line x1="551.6" y1="275.2" x2="683.8" y2="275.2" stroke="#ebebeb" stroke-width="0.9"/>
<line x1="551.6" y1="263.4" x2="683.8" y2="263.4" stroke="#f3f3f3" stroke-width="0.5"/>
<line x1="551.6" y1="251.7" x2="683.8" y2="251.7" stroke="#ebebeb" stroke-width="0.9"/>
<line x1="551.6" y1="239.9" x2="683.8" y2="239.9" stroke="#f3f3f3" stroke-width="0.5"/>
<line x1="551.6" y1="228.2" x2="683.8" y2="228.2" stroke="#ebebeb" stroke-width="0.9"/>
<line x1="551.6" y1="216.4" x2="683.8" y2="216.4" stroke="#f3f3f3" stroke-width="0.5"/>
<path d="M580.7 300.9h0M568.4 274.9h0M590.9 310.9h0M595.7 319.4h0M595.4 318.3h0M597.5 309.7h0M589.2 298.9h0M628.5 310.8h0M609.9 301.6h0M614.7 312.7h0M607.9 311.2h0M599 310.4h0M608.9 295.6h0M615.9 318.3h0M610.5 295.4h0M621 300.7h0M599.1 297.1h0M615.5 301.6h0M583 280.5h0M586.7 306.5h0M603.5 306.4h0M619.9 224.1h0M581.8 308h0M603.5 289.9h0M598.3 296.1h0M601 309.4h0M597.9 293.6h0M601.9 315h0M604 289.2h0M616.4 310.9h0M590.2 297.8h0M607.1 318.9h0M589.5 303.8h0M615.4 311.1h0M593.9 307.9h0M616.4 308.3h0M601.9 322.1h0M590.2 321h0M572.8 291.2h0M651.6 320.8h0M640.9 294.9h0M615.8 275.8h0M596.1 258.4h0M585.1 303.6h0M599.6 310.4h0M634 292.3h0M604.6 260.8h0M610.3 309h0M586.9 301.4h0M597.9 319.8h0M587.3 307.8h0M629.6 291.1h0M587.1 316.1h0M637.5 299.9h0M622.6 319.5h0M599.9 304h0M606.5 319.8h0M606 278h0M582.8 294.9h0M598.3 297.6h0M581.6 307.5h0M591.5 319.3h0M649.5 287h0M594.6 293.2h0M618.7 318.2h0M594.4 279.7h0M595.7 286.1h0M595 305.6h0M606.3 311.1h0M601.6 300h0M598.9 297.6h0M625.7 298.7h0M590.4 308.2h0M612.9 262.8h0M616.7 281.3h0M595.5 284h0M599.7 280.6h0M605.6 311.7h0M610 302.4h0M577.2 296.2h0M625.5 313.2h0M584 289.5h0M609.8 305.4h0M594.4 310.5h0M619.3 304.8h0M605.2 302.6h0M600.1 304.4h0M589.8 304.8h0M599.2 295.3h0M594.3 309.5h0M597.1 319.7h0M582 315.9h0M607.8 287.8h0M608 319h0M591.6 306.6h0M602.3 271.3h0M606.8 298.4h0M596.2 296.9h0M581 303.6h0M592.8 304.4h0M609.8 290.3h0M617.1 320h0M596.3 307.3h0M622.2 314.7h0M597.9 306.7h0M598.8 288.4h0M599.6 310.1h0M593.7 316.8h0M595.7 318.9h0M585 304.7h0M608.8 312.8h0M600.6 315.4h0M606.2 294.8h0M585 284.4h0M607.3 310.7h0M584.7 312.7h0M568.7 297.4h0M608.8 309.5h0M573.8 295.6h0M598.6 294.7h0M577.1 231.6h0M606.9 304.3h0M624.7 315.5h0M590.2 295.2h0M602.1 293.9h0M610.5 319.1h0M602.8 310.9h0M596.7 299.9h0M606.2 303h0M587.3 292.9h0M601.3 314.6h0M592.3 306.9h0M616.9 265.1h0M595.6 304.7h0M600.1 294.6h0M607.3 297.8h0M622.1 284.6h0M607.7 306.1h0M610.1 310.7h0M653.8 300.8h0M604.1 263.2h0M602.8 315.9h0M608.3 316.8h0M627.1 261.7h0M588.8 295.1h0M601.1 314.7h0M584.7 287.2h0M592.2 299h0M581 303.7h0M603.9 294.2h0M580.6 303.1h0M601.5 319.1h0M640.4 278.7h0M644.7 274.9h0M583 295.8h0M621.5 311.3h0M585.5 305.9h0M607.5 306.6h0M585.3 319.5h0M602.1 313h0M622.5 313.6h0M602.5 298.5h0M591.2 317.8h0M625.4 300.4h0M593.7 307.6h0M617.1 275.3h0M610.7 279.3h0M585 290.3h0M607.6 285h0M617.1 322.1h0M617.8 311.9h0M600.6 316.5h0M597.9 306.1h0M609.2 305.8h0M603.9 304.8h0M598.2 320h0M607.3 287h0M621.2 267.7h0M604.2 321.9h0M621.4 315.4h0M633.2 234.1h0M567.9 304.9h0M622 291.5h0M604.5 317.2h0M588.3 310.9h0M598.3 309.1h0M586.4 308.1h0M600 307.1h0M615.2 304.1h0M610.1 289.4h0M621.6 294.3h0M615.7 259.3h0M573.9 318.3h0M615.7 316.5h0M628.5 317.4h0M620.7 288.8h0M605.5 317.8h0M605.6 312.8h0M598.2 298.2h0M592.4 293.4h0M642.8 311h0M594.9 291.5h0M610.2 311.6h0M595.3 306.1h0M585.8 311h0M585.8 298h0M596.1 307.3h0M579 302.5h0M605 301.7h0M615.9 309.1h0M591.8 277.8h0M595.9 310.3h0M621 288.8h0M571 310.6h0M607.8 305.1h0M596.7 310.8h0M610.6 314.1h0M618.9 235.3h0M607.4 244.3h0M598.9 300.2h0M616.1 303.6h0M606.7 299.4h0M596.7 310.1h0M615.3 309.4h0M605.1 299.8h0M585.8 316h0M601.9 277.4h0M612.5 317.3h0M625.3 302.6h0M607.6 291.3h0M605 288h0M580.3 312.2h0M587.7 320.3h0M577.8 315.1h0M614.1 316.8h0M587.2 287.6h0M612.7 298.3h0M604.6 298.6h0M612.7 316.4h0M608.5 306.5h0M604 311.3h0M615.8 310.2h0M602.9 309.1h0M590.5 295.3h0M621.6 304.7h0M586.2 303.7h0M598.1 308.2h0M598.8 322h0M615.1 303h0M603.5 277.9h0M600.2 288.6h0M606.7 320.7h0M614.7 294.6h0M604.4 306.2h0M605.2 302.4h0M589.5 300.6h0M602.1 307.2h0M590 311.3h0M594.4 305h0M606 279.6h0M613.6 297.9h0M627.9 320.3h0M601.4 311.4h0M584.4 320.4h0M593.3 317h0M591.9 296.9h0M597.8 293.3h0M626.8 314.6h0M587.5 298.4h0M607.2 318.4h0M589.2 295.6h0M606.1 310.4h0M593.5 307.4h0M616.8 315.2h0M614.2 266.2h0M611.3 288.7h0M602.2 302.2h0M620.7 274.1h0M595.4 309.1h0M603.7 267.2h0M616.8 310.7h0M581.5 313.7h0M589.8 298.6h0M597.4 315.9h0M619 300.9h0M592.7 291.5h0M594.8 297.8h0M616.2 279.2h0M596.7 290.1h0M598.5 248.3h0M617.4 309.7h0M569.8 309.1h0M587.9 314.2h0M627.5 318.2h0M593.7 310.2h0M567.7 304.3h0M605.1 305h0M580.3 318.8h0M628 293.3h0M590.1 303h0M629.4 306.9h0M585.5 303.8h0M612.2 299.2h0M609.7 301.9h0M622.7 305h0M599.4 275.9h0M582.5 298.2h0M592.3 305.6h0M615.6 307.2h0M640.1 312h0M595 301.9h0M586.7 300.7h0M594.3 302.4h0M576.4 288.2h0M628.5 299.6h0M589.6 304.2h0M588.4 300.5h0M589.9 321.1h0M602.7 277.8h0M627.3 312.2h0M596.4 260.3h0M589.5 299.4h0M634.6 318.4h0M590.2 298.7h0M602.7 290.1h0M613.7 296.8h0M637.7 310.5h0M608.8 289.2h0M600.9 311.6h0M595.5 299.6h0M597.3 306.7h0M629.2 307.8h0M600.5 296.6h0M593.8 279.8h0M597.9 278.9h0M616.6 310.2h0M609.6 315.2h0M611.1 320.2h0M601.3 318.1h0M602.2 307h0M627.5 321.6h0M637.9 321.4h0M614.3 283.9h0M606.9 309.6h0M625.7 317.4h0M604.7 321.7h0M610.5 272h0M619.6 310h0M615 310.5h0M622.5 254.8h0M601.7 309.8h0M603.6 295.4h0M600.7 303.4h0M614.6 298.5h0M613.7 301.3h0M599.7 311.8h0M601.8 298.5h0M582.1 300.4h0M582.1 300.5h0M618.4 301.4h0M583.1 299.1h0M604.8 317.2h0M603 306.6h0M626.3 311.8h0M592 315.8h0M630.6 280.3h0M603.4 309.4h0M595.9 313.6h0M584.3 300.2h0M597.1 308.5h0M611.4 260.1h0M597.4 246.7h0M603.7 300.1h0M630 304.4h0M618.6 300h0M600.9 314.2h0M597 314.9h0M612 293.7h0M608.1 316.9h0M596 286.6h0M618.6 280.1h0M589.6 318.7h0M610.3 301.3h0M625.1 300.3h0M602.8 316.2h0M616.8 251h0M610.8 287.1h0M594 318.2h0M581.3 300.5h0M597.3 317h0M590 258.7h0M600.5 316.9h0M638.9 271.3h0M586.2 319.2h0M606.1 246.6h0M609.6 311.9h0M610.1 316.2h0M639.6 308.3h0M605.5 285h0M595.8 309.9h0M609.1 313.1h0M606.3 305.1h0M597.9 315.4h0M597.6 304.7h0M642.3 312.1h0M605.1 299.4h0M602.9 311.8h0M602.9 292.3h0M611.6 313h0M596.4 306.9h0M623.7 312.5h0M627.5 292.1h0M634.3 310.1h0M573.3 310.9h0M578.6 284.2h0M616.7 308.4h0M621.2 273.1h0M604.3 293.7h0M560.9 307.6h0M599.3 307.8h0M607 281.1h0M592.1 296.2h0M581.2 302.1h0M588.7 288.6h0M603.2 312.8h0M597.9 320.8h0M604.7 296.8h0M598.2 309.5h0M587 320.6h0M598.9 261.9h0M602.3 305.4h0M610.2 316.7h0M611.3 306h0M595.7 299.2h0M606.5 301.6h0M615.6 296.4h0M610 320.7h0M625.3 280h0M585.2 278.6h0M584.5 312.3h0M595.3 317.4h0M590.3 299.7h0M590.8 303.1h0M595.3 292.7h0M590.9 245.5h0M629.2 297.8h0M641.6 309.2h0M566.1 246.4h0M591.3 308.1h0M612 296.2h0M602.9 299.3h0M601 294.2h0M617.8 305.3h0M598.9 307h0M597.6 299.7h0M594.5 309.6h0M591.2 307.3h0M593.8 276.7h0M628.8 302.6h0M591 302.8h0M604.3 265.4h0M600.8 280.6h0M592.6 299.9h0M577.9 306.5h0M611.2 315.3h0M603.5 314.2h0M599.1 296h0M629.2 320.6h0M571.9 312.7h0M596.3 303.8h0M621.3 299.4h0M603 317.6h0M603.9 295.3h0M594.6 298.2h0M599.2 316.2h0M611.2 320.8h0M618.3 269h0M607.1 300.6h0M601.9 308.7h0M603.3 299.4h0M604.2 276.5h0M612 307.3h0M597.6 292.5h0M608.1 311.5h0M608.3 287.7h0M601 316h0M593 320.8h0M610.1 296.9h0M597.6 303.7h0M614.1 302.9h0M605.5 275h0M624.1 314.4h0M583.4 278.2h0M613.1 311.5h0M593.4 309.2h0M610.9 317.3h0M611.3 322h0M592.6 305.8h0M603.5 314.2h0M582.3 311.9h0M588 296.2h0M596.5 304.5h0M613.3 307.4h0M596.3 308h0M638 309.8h0M588.1 295.7h0M609.7 310.2h0M623.1 291.7h0M600.6 292.8h0M597.7 318.2h0M610.1 310.2h0M592.6 296.9h0M608.7 314.1h0M586.7 320.7h0M589.7 302.9h0M610.8 293.8h0M612.9 321.6h0M620.2 297.7h0M591.8 318.5h0M597.7 314.6h0M588.6 301.7h0M609.3 310.6h0M589.8 311.1h0M606.4 310.8h0M594.9 319.8h0M616.6 287.3h0M622.4 312.6h0M603.1 317.1h0M620.6 319.2h0M599.8 301.8h0M602.2 304.3h0M643.1 320.6h0M597.9 311.5h0M602.2 320.9h0M655.5 307.1h0M608 313.7h0M622.9 297.5h0M609.5 301.5h0M601.3 296.6h0M598.4 310.4h0M583.9 310.2h0M610.3 306h0M609.9 298.5h0M604.1 310.6h0M605.6 311.4h0M619.8 298.8h0M598.1 275.3h0M606.7 293.1h0M569.8 305.6h0M608.4 303.9h0M615.3 297.1h0M608.1 315h0M595.1 303.7h0M602.8 295.3h0M635.8 305.9h0M613.9 300h0M601.8 312.8h0M603.9 299.5h0M601.7 304.4h0M646.7 313.3h0M617.1 278h0M595.3 301.8h0M579.2 314.8h0M605.1 303.5h0M606.5 292.8h0M597.6 309.4h0M566 300.4h0M594.3 316.2h0M604 299.2h0M591.9 318h0M597.2 306h0M606.4 317.8h0M595.7 315.4h0M582.7 314.4h0M611.4 291.9h0M604.4 260.4h0M608.3 293.5h0M595.3 306.9h0M604.7 290h0M600.2 306.9h0M556.8 293.8h0M558.9 316.6h0M568.1 309.5h0M677.1 307.4h0M674.5 318.7h0M666.6 285.9h0M661.3 276.7h0" stroke="#000" stroke-width="3.1" stroke-linecap="round" clip-path="url(#cHAUS8)"/>
<path d="M556.8 285.1 L557.8 285.6 L559.1 286.3 L560.6 287.1 L562.3 288 L564.2 289 L566.2 290 L568.2 291 L570.4 292 L572.5 292.9 L574.6 293.8 L576.6 294.5 L578.6 295.1 L580.5 295.5 L582.5 295.9 L584.6 296.2 L586.7 296.4 L588.8 296.5 L590.9 296.7 L593 296.7 L595 296.8 L597 296.9 L598.9 297 L600.6 297.1 L602.2 297.2 L603.7 297.4 L604.9 297.6 L606.1 297.8 L607.1 298.1 L608 298.3 L608.9 298.6 L609.9 298.8 L610.8 299 L611.8 299.1 L612.8 299.1 L614 299.1 L615.4 299 L616.8 298.8 L618.5 298.5 L620.2 298.1 L622 297.6 L623.8 297.1 L625.7 296.5 L627.6 296 L629.5 295.4 L631.3 294.9 L633.1 294.4 L634.8 294.1 L636.4 293.8 L637.9 293.6 L639.3 293.5 L640.7 293.5 L642 293.5 L643.3 293.5 L644.6 293.6 L645.8 293.6 L647.1 293.7 L648.3 293.8 L649.6 293.8 L650.8 293.8 L652.1 293.8 L653.5 293.7 L654.8 293.6 L656.2 293.5 L657.6 293.3 L659 293.2 L660.4 293 L661.8 292.9 L663.1 292.7 L664.4 292.5 L665.7 292.3 L666.8 292.1 L667.9 291.9 L668.9 291.7 L669.9 291.5 L670.9 291.3 L671.8 291 L672.7 290.8 L673.5 290.5 L674.2 290.3 L675 290 L675.6 289.8 L676.2 289.6 L676.7 289.4 L677.1 289.3 L677.1 324 L676.7 323.4 L676.2 322.5 L675.6 321.5 L675 320.4 L674.2 319.3 L673.5 318 L672.7 316.7 L671.8 315.4 L670.9 314.2 L669.9 313 L668.9 311.9 L667.9 310.9 L666.8 309.9 L665.7 309 L664.4 308.1 L663.1 307.2 L661.8 306.4 L660.4 305.6 L659 304.8 L657.6 304 L656.2 303.4 L654.8 302.7 L653.5 302.2 L652.1 301.7 L650.8 301.2 L649.6 300.9 L648.3 300.5 L647.1 300.3 L645.8 300.1 L644.6 299.9 L643.3 299.8 L642 299.7 L640.7 299.7 L639.3 299.7 L637.9 299.7 L636.4 299.8 L634.8 300 L633.1 300.3 L631.3 300.6 L629.5 301.1 L627.6 301.6 L625.7 302.1 L623.8 302.6 L622 303 L620.2 303.5 L618.5 303.8 L616.8 304.1 L615.4 304.3 L614 304.4 L612.8 304.3 L611.8 304.2 L610.8 304.1 L609.9 303.9 L608.9 303.7 L608 303.4 L607.1 303.2 L606.1 302.9 L604.9 302.7 L603.7 302.6 L602.2 302.5 L600.6 302.3 L598.9 302.1 L597 301.8 L595 301.5 L593 301.2 L590.9 301 L588.8 300.8 L586.7 300.8 L584.6 300.9 L582.5 301.2 L580.5 301.7 L578.6 302.5 L576.6 303.6 L574.6 305 L572.5 306.8 L570.4 308.8 L568.2 311 L566.2 313.2 L564.2 315.5 L562.3 317.6 L560.6 319.6 L559.1 321.4 L557.8 322.9 L556.8 324Z" fill="#999" fill-opacity="0.4" clip-path="url(#cHAUS8)"/>
<path d="M556.8 305.6 C560.4 304.4 571 299.5 578.6 298.5 C586.1 297.5 596.1 299.3 602.2 299.8 C608.3 300.4 609.7 302.2 615.4 301.7 C621 301.1 630.2 297.1 636.4 296.4 C642.5 295.8 646.9 296.8 652.1 297.7 C657.4 298.6 663.7 300 667.9 301.7 C672.1 303.3 675.6 306.7 677.1 307.7" fill="none" stroke="#3a68b8" stroke-width="1.1" clip-path="url(#cHAUS8)"/>
<text x="679.8" y="222.2" text-anchor="end" fill="#e03b3b" font-size="6.8" stroke="#e03b3b" stroke-width="0.22">cor = −0.106</text>
<text x="679.8" y="232.2" text-anchor="end" fill="#e03b3b" font-size="6.8" stroke="#e03b3b" stroke-width="0.22">p = 1.61e−02</text>
<rect x="551.6" y="212" width="132.2" height="118" fill="none" stroke="#333" stroke-width="0.9"/>
<rect x="551.6" y="199.3" width="132.2" height="12.7" fill="#d9d9d9" stroke="#333" stroke-width="0.9"/>
<text x="617.7" y="207.8" text-anchor="middle" fill="#1a1a1a" font-size="6.4" stroke="#1a1a1a" stroke-width="0.22">HAUS8</text>
<rect x="539.1" y="212" width="12.5" height="118" fill="#d9d9d9" stroke="#333" stroke-width="0.9"/>
<text transform="translate(547.6 271) rotate(-90)" text-anchor="middle" fill="#1a1a1a" font-size="6.4" stroke="#1a1a1a" stroke-width="0.22">CD274</text>
<line x1="556.2" y1="330" x2="556.2" y2="332.2" stroke="#333" stroke-width="0.9"/>
<text x="556.2" y="338.9" text-anchor="middle" fill="#4d4d4d" font-size="6.8">1</text>
<line x1="583.3" y1="330" x2="583.3" y2="332.2" stroke="#333" stroke-width="0.9"/>
<text x="583.3" y="338.9" text-anchor="middle" fill="#4d4d4d" font-size="6.8">2</text>
<line x1="610.4" y1="330" x2="610.4" y2="332.2" stroke="#333" stroke-width="0.9"/>
<text x="610.4" y="338.9" text-anchor="middle" fill="#4d4d4d" font-size="6.8">3</text>
<line x1="637.5" y1="330" x2="637.5" y2="332.2" stroke="#333" stroke-width="0.9"/>
<text x="637.5" y="338.9" text-anchor="middle" fill="#4d4d4d" font-size="6.8">4</text>
<line x1="664.6" y1="330" x2="664.6" y2="332.2" stroke="#333" stroke-width="0.9"/>
<text x="664.6" y="338.9" text-anchor="middle" fill="#4d4d4d" font-size="6.8">5</text>
<line x1="539.1" y1="330" x2="551.6" y2="330" stroke="#333" stroke-width="0.9"/>
<line x1="536.9" y1="322.2" x2="539.1" y2="322.2" stroke="#333" stroke-width="0.9"/>
<text x="536.1" y="324.6" text-anchor="end" fill="#4d4d4d" font-size="6.8">0</text>
<line x1="536.9" y1="298.7" x2="539.1" y2="298.7" stroke="#333" stroke-width="0.9"/>
<text x="536.1" y="301.1" text-anchor="end" fill="#4d4d4d" font-size="6.8">1</text>
<line x1="536.9" y1="275.2" x2="539.1" y2="275.2" stroke="#333" stroke-width="0.9"/>
<text x="536.1" y="277.6" text-anchor="end" fill="#4d4d4d" font-size="6.8">2</text>
<line x1="536.9" y1="251.7" x2="539.1" y2="251.7" stroke="#333" stroke-width="0.9"/>
<text x="536.1" y="254.1" text-anchor="end" fill="#4d4d4d" font-size="6.8">3</text>
<line x1="536.9" y1="228.2" x2="539.1" y2="228.2" stroke="#333" stroke-width="0.9"/>
<text x="536.1" y="230.6" text-anchor="end" fill="#4d4d4d" font-size="6.8">4</text>
<text x="617.7" y="349" text-anchor="middle" fill="#000" font-size="8.2" stroke="#000" stroke-width="0.22">Expression Level (log2 TPM)</text>
<text transform="translate(527.8 271) rotate(-90)" text-anchor="middle" fill="#000" font-size="8.2" stroke="#000" stroke-width="0.22">Expression Level (log2 TPM)</text>
<text transform="translate(1.5 412) scale(0.76 1)" style='font-family:"Liberation Serif", serif' font-size="28.5" fill="#000">B</text>
<text id="legB" x="137.4" y="404.8" font-size="7" fill="#1a1a1a" stroke="#1a1a1a" stroke-width="0.22">ImmuneScore</text>
<clipPath id="bcB"><path d="M58.4 426.6 L60 426.6 L60 427.3 L63.3 427.3 L63.3 428 L65 428 L66.6 428 L66.6 430 L70 430 L70 432 L73.4 432 L73.4 434.1 L75 434.1 L76.7 434.1 L76.7 435.7 L80.1 435.7 L80.1 437.3 L83.4 437.3 L83.4 438.9 L85.1 438.9 L86.8 438.9 L86.8 439.6 L90.1 439.6 L90.1 440.4 L93.5 440.4 L93.5 441.1 L95.2 441.1 L96.8 441.1 L96.8 443.1 L100 443.1 L100 445.2 L103.2 445.2 L103.2 447.2 L104.8 447.2 L106.5 447.2 L106.5 450 L109.9 450 L109.9 452.8 L113.2 452.8 L113.2 455.5 L114.9 455.5 L116.6 455.5 L116.6 457.2 L119.9 457.2 L119.9 458.8 L123.3 458.8 L123.3 460.4 L125 460.4 L126.6 460.4 L126.6 460.7 L130 460.7 L130 460.9 L133.4 460.9 L133.4 461.2 L135 461.2 L136.7 461.2 L136.7 462.7 L140.1 462.7 L140.1 464.2 L143.4 464.2 L143.4 465.6 L145.1 465.6 L163.1 465.6 L163.1 468.2 L205.1 468.2 L205.1 475.3 L218.7 475.3 L218.7 480.1 L227.9 480.1 L227.9 485.8 L244.5 485.8 L244.5 489.3 L258.1 489.3 L258.1 553.2 L258.1 553.2 L244.5 553.2 L244.5 543.1 L228.3 543.1 L228.3 536.1 L218.7 536.1 L218.7 524.3 L205.1 524.3 L205.1 506.4 L174 506.4 L174 501.5 L161.8 501.5 L161.8 499.3 L159.8 499.3 L159.8 499.2 L155.8 499.2 L155.8 499.1 L151.9 499.1 L151.9 498.9 L149.9 498.9 L148.4 498.9 L148.4 496.9 L145.3 496.9 L145.3 495 L143.8 495 L142.1 495 L142.1 492.6 L138.8 492.6 L138.8 490.2 L135.5 490.2 L135.5 487.9 L132.1 487.9 L132.1 485.5 L128.8 485.5 L128.8 483.1 L127.2 483.1 L125.6 483.1 L125.6 480.8 L122.6 480.8 L122.6 478.5 L119.5 478.5 L119.5 476.2 L116.4 476.2 L116.4 473.9 L114.9 473.9 L113.2 473.9 L113.2 471.3 L109.9 471.3 L109.9 468.7 L106.5 468.7 L106.5 466.1 L104.8 466.1 L103.2 466.1 L103.2 464 L100 464 L100 462 L96.8 462 L96.8 459.9 L95.2 459.9 L93.5 459.9 L93.5 456.3 L90.1 456.3 L90.1 452.6 L86.8 452.6 L86.8 449 L85.1 449 L83.4 449 L83.4 445 L80.1 445 L80.1 441.1 L76.7 441.1 L76.7 437.2 L75 437.2 L73.4 437.2 L73.4 435.1 L70 435.1 L70 432.9 L66.7 432.9 L66.7 430.8 L63.4 430.8 L63.4 428.7 L60.1 428.7 L60.1 426.6 L58.4 426.6Z"/></clipPath>
<path d="M58.4 426.6 L60.1 426.6 L60.1 428.4 L63.4 428.4 L63.4 430.1 L66.7 430.1 L66.7 431.9 L70 431.9 L70 433.6 L73.4 433.6 L73.4 435.4 L75 435.4 L76.7 435.4 L76.7 438.9 L80.1 438.9 L80.1 442.4 L83.4 442.4 L83.4 445.9 L85.1 445.9 L86.8 445.9 L86.8 447.7 L90.1 447.7 L90.1 449.4 L93.5 449.4 L93.5 451.2 L95.2 451.2 L96.8 451.2 L96.8 453.2 L100 453.2 L100 455.3 L103.2 455.3 L103.2 457.3 L104.8 457.3 L106.5 457.3 L106.5 460.8 L109.9 460.8 L109.9 464.3 L113.2 464.3 L113.2 467.8 L114.9 467.8 L116.6 467.8 L116.6 470.3 L119.9 470.3 L119.9 472.8 L123.3 472.8 L123.3 475.3 L125 475.3 L126.6 475.3 L126.6 476.3 L130 476.3 L130 477.3 L133.4 477.3 L133.4 478.3 L135 478.3 L136.7 478.3 L136.7 480.5 L140.1 480.5 L140.1 482.7 L143.4 482.7 L143.4 484.9 L145.1 484.9 L155.2 484.9 L155.2 488 L163.1 488 L163.1 495 L174 495 L174 503.7 L186.7 503.7 L186.7 507.2 L202 507.2 L202 510.3 L218.7 510.3 L218.7 516 L290.1 516 L290.1 560.7 L290.1 560.2 L216.9 560.2 L215.4 560.2 L215.4 558.5 L212.3 558.5 L212.3 556.7 L210.8 556.7 L209.2 556.7 L209.2 555.1 L206 555.1 L206 553.5 L202.8 553.5 L202.8 551.9 L201.2 551.9 L199.4 551.9 L199.4 550.1 L195.9 550.1 L195.9 548.4 L192.4 548.4 L192.4 546.6 L188.9 546.6 L188.9 544.9 L187.2 544.9 L185.4 544.9 L185.4 541 L183.7 541 L182 541 L182 539.3 L178.8 539.3 L178.8 537.7 L175.6 537.7 L175.6 536.1 L174 536.1 L172.3 536.1 L172.3 533.7 L168.8 533.7 L168.8 531.3 L167 531.3 L165.7 531.3 L165.7 529.6 L163.1 529.6 L163.1 527.8 L161.8 527.8 L160 527.8 L160 524.1 L156.5 524.1 L156.5 520.4 L154.7 520.4 L152.7 520.4 L152.7 518.4 L148.5 518.4 L148.5 516.4 L146.4 516.4 L144.7 516.4 L144.7 514.7 L141.2 514.7 L141.2 512.9 L139.4 512.9 L137.8 512.9 L137.8 510.1 L134.5 510.1 L134.5 507.2 L132.8 507.2 L131.2 507.2 L131.2 503.1 L128 503.1 L128 499.1 L124.8 499.1 L124.8 495 L123.2 495 L121.8 495 L121.8 493.7 L118.8 493.7 L118.8 492.3 L115.9 492.3 L115.9 491 L114.5 491 L112.8 491 L112.8 488.2 L109.5 488.2 L109.5 485.3 L107.9 485.3 L106.1 485.3 L106.1 481.2 L102.6 481.2 L102.6 477 L100.9 477 L99.1 477 L99.1 473.5 L95.6 473.5 L95.6 470 L93.9 470 L92.4 470 L92.4 465.3 L89.5 465.3 L89.5 460.7 L86.6 460.7 L86.6 456 L85.1 456 L83.4 456 L83.4 452 L80.1 452 L80.1 448.1 L76.7 448.1 L76.7 444.2 L75 444.2 L73.4 444.2 L73.4 440.8 L70 440.8 L70 437.4 L66.6 437.4 L66.6 434.1 L65 434.1 L63.3 434.1 L63.3 430.4 L60 430.4 L60 426.6 L58.4 426.6Z" fill="#f6c8b0"/>
<path d="M58.4 426.6 L60 426.6 L60 427.3 L63.3 427.3 L63.3 428 L65 428 L66.6 428 L66.6 430 L70 430 L70 432 L73.4 432 L73.4 434.1 L75 434.1 L76.7 434.1 L76.7 435.7 L80.1 435.7 L80.1 437.3 L83.4 437.3 L83.4 438.9 L85.1 438.9 L86.8 438.9 L86.8 439.6 L90.1 439.6 L90.1 440.4 L93.5 440.4 L93.5 441.1 L95.2 441.1 L96.8 441.1 L96.8 443.1 L100 443.1 L100 445.2 L103.2 445.2 L103.2 447.2 L104.8 447.2 L106.5 447.2 L106.5 450 L109.9 450 L109.9 452.8 L113.2 452.8 L113.2 455.5 L114.9 455.5 L116.6 455.5 L116.6 457.2 L119.9 457.2 L119.9 458.8 L123.3 458.8 L123.3 460.4 L125 460.4 L126.6 460.4 L126.6 460.7 L130 460.7 L130 460.9 L133.4 460.9 L133.4 461.2 L135 461.2 L136.7 461.2 L136.7 462.7 L140.1 462.7 L140.1 464.2 L143.4 464.2 L143.4 465.6 L145.1 465.6 L163.1 465.6 L163.1 468.2 L205.1 468.2 L205.1 475.3 L218.7 475.3 L218.7 480.1 L227.9 480.1 L227.9 485.8 L244.5 485.8 L244.5 489.3 L258.1 489.3 L258.1 553.2 L258.1 553.2 L244.5 553.2 L244.5 543.1 L228.3 543.1 L228.3 536.1 L218.7 536.1 L218.7 524.3 L205.1 524.3 L205.1 506.4 L174 506.4 L174 501.5 L161.8 501.5 L161.8 499.3 L159.8 499.3 L159.8 499.2 L155.8 499.2 L155.8 499.1 L151.9 499.1 L151.9 498.9 L149.9 498.9 L148.4 498.9 L148.4 496.9 L145.3 496.9 L145.3 495 L143.8 495 L142.1 495 L142.1 492.6 L138.8 492.6 L138.8 490.2 L135.5 490.2 L135.5 487.9 L132.1 487.9 L132.1 485.5 L128.8 485.5 L128.8 483.1 L127.2 483.1 L125.6 483.1 L125.6 480.8 L122.6 480.8 L122.6 478.5 L119.5 478.5 L119.5 476.2 L116.4 476.2 L116.4 473.9 L114.9 473.9 L113.2 473.9 L113.2 471.3 L109.9 471.3 L109.9 468.7 L106.5 468.7 L106.5 466.1 L104.8 466.1 L103.2 466.1 L103.2 464 L100 464 L100 462 L96.8 462 L96.8 459.9 L95.2 459.9 L93.5 459.9 L93.5 456.3 L90.1 456.3 L90.1 452.6 L86.8 452.6 L86.8 449 L85.1 449 L83.4 449 L83.4 445 L80.1 445 L80.1 441.1 L76.7 441.1 L76.7 437.2 L75 437.2 L73.4 437.2 L73.4 435.1 L70 435.1 L70 432.9 L66.7 432.9 L66.7 430.8 L63.4 430.8 L63.4 428.7 L60.1 428.7 L60.1 426.6 L58.4 426.6Z" fill="#c1c5e3"/>
<path d="M58.4 426.6 L60.1 426.6 L60.1 428.4 L63.4 428.4 L63.4 430.1 L66.7 430.1 L66.7 431.9 L70 431.9 L70 433.6 L73.4 433.6 L73.4 435.4 L75 435.4 L76.7 435.4 L76.7 438.9 L80.1 438.9 L80.1 442.4 L83.4 442.4 L83.4 445.9 L85.1 445.9 L86.8 445.9 L86.8 447.7 L90.1 447.7 L90.1 449.4 L93.5 449.4 L93.5 451.2 L95.2 451.2 L96.8 451.2 L96.8 453.2 L100 453.2 L100 455.3 L103.2 455.3 L103.2 457.3 L104.8 457.3 L106.5 457.3 L106.5 460.8 L109.9 460.8 L109.9 464.3 L113.2 464.3 L113.2 467.8 L114.9 467.8 L116.6 467.8 L116.6 470.3 L119.9 470.3 L119.9 472.8 L123.3 472.8 L123.3 475.3 L125 475.3 L126.6 475.3 L126.6 476.3 L130 476.3 L130 477.3 L133.4 477.3 L133.4 478.3 L135 478.3 L136.7 478.3 L136.7 480.5 L140.1 480.5 L140.1 482.7 L143.4 482.7 L143.4 484.9 L145.1 484.9 L155.2 484.9 L155.2 488 L163.1 488 L163.1 495 L174 495 L174 503.7 L186.7 503.7 L186.7 507.2 L202 507.2 L202 510.3 L218.7 510.3 L218.7 516 L290.1 516 L290.1 560.7 L290.1 560.2 L216.9 560.2 L215.4 560.2 L215.4 558.5 L212.3 558.5 L212.3 556.7 L210.8 556.7 L209.2 556.7 L209.2 555.1 L206 555.1 L206 553.5 L202.8 553.5 L202.8 551.9 L201.2 551.9 L199.4 551.9 L199.4 550.1 L195.9 550.1 L195.9 548.4 L192.4 548.4 L192.4 546.6 L188.9 546.6 L188.9 544.9 L187.2 544.9 L185.4 544.9 L185.4 541 L183.7 541 L182 541 L182 539.3 L178.8 539.3 L178.8 537.7 L175.6 537.7 L175.6 536.1 L174 536.1 L172.3 536.1 L172.3 533.7 L168.8 533.7 L168.8 531.3 L167 531.3 L165.7 531.3 L165.7 529.6 L163.1 529.6 L163.1 527.8 L161.8 527.8 L160 527.8 L160 524.1 L156.5 524.1 L156.5 520.4 L154.7 520.4 L152.7 520.4 L152.7 518.4 L148.5 518.4 L148.5 516.4 L146.4 516.4 L144.7 516.4 L144.7 514.7 L141.2 514.7 L141.2 512.9 L139.4 512.9 L137.8 512.9 L137.8 510.1 L134.5 510.1 L134.5 507.2 L132.8 507.2 L131.2 507.2 L131.2 503.1 L128 503.1 L128 499.1 L124.8 499.1 L124.8 495 L123.2 495 L121.8 495 L121.8 493.7 L118.8 493.7 L118.8 492.3 L115.9 492.3 L115.9 491 L114.5 491 L112.8 491 L112.8 488.2 L109.5 488.2 L109.5 485.3 L107.9 485.3 L106.1 485.3 L106.1 481.2 L102.6 481.2 L102.6 477 L100.9 477 L99.1 477 L99.1 473.5 L95.6 473.5 L95.6 470 L93.9 470 L92.4 470 L92.4 465.3 L89.5 465.3 L89.5 460.7 L86.6 460.7 L86.6 456 L85.1 456 L83.4 456 L83.4 452 L80.1 452 L80.1 448.1 L76.7 448.1 L76.7 444.2 L75 444.2 L73.4 444.2 L73.4 440.8 L70 440.8 L70 437.4 L66.6 437.4 L66.6 434.1 L65 434.1 L63.3 434.1 L63.3 430.4 L60 430.4 L60 426.6 L58.4 426.6Z" fill="#c09cb4" clip-path="url(#bcB)"/>
<clipPath id="rcB"><path d="M58.4 426.6 L60.1 426.6 L60.1 428.4 L63.4 428.4 L63.4 430.1 L66.7 430.1 L66.7 431.9 L70 431.9 L70 433.6 L73.4 433.6 L73.4 435.4 L75 435.4 L76.7 435.4 L76.7 438.9 L80.1 438.9 L80.1 442.4 L83.4 442.4 L83.4 445.9 L85.1 445.9 L86.8 445.9 L86.8 447.7 L90.1 447.7 L90.1 449.4 L93.5 449.4 L93.5 451.2 L95.2 451.2 L96.8 451.2 L96.8 453.2 L100 453.2 L100 455.3 L103.2 455.3 L103.2 457.3 L104.8 457.3 L106.5 457.3 L106.5 460.8 L109.9 460.8 L109.9 464.3 L113.2 464.3 L113.2 467.8 L114.9 467.8 L116.6 467.8 L116.6 470.3 L119.9 470.3 L119.9 472.8 L123.3 472.8 L123.3 475.3 L125 475.3 L126.6 475.3 L126.6 476.3 L130 476.3 L130 477.3 L133.4 477.3 L133.4 478.3 L135 478.3 L136.7 478.3 L136.7 480.5 L140.1 480.5 L140.1 482.7 L143.4 482.7 L143.4 484.9 L145.1 484.9 L155.2 484.9 L155.2 488 L163.1 488 L163.1 495 L174 495 L174 503.7 L186.7 503.7 L186.7 507.2 L202 507.2 L202 510.3 L218.7 510.3 L218.7 516 L290.1 516 L290.1 560.7 L290.1 560.2 L216.9 560.2 L215.4 560.2 L215.4 558.5 L212.3 558.5 L212.3 556.7 L210.8 556.7 L209.2 556.7 L209.2 555.1 L206 555.1 L206 553.5 L202.8 553.5 L202.8 551.9 L201.2 551.9 L199.4 551.9 L199.4 550.1 L195.9 550.1 L195.9 548.4 L192.4 548.4 L192.4 546.6 L188.9 546.6 L188.9 544.9 L187.2 544.9 L185.4 544.9 L185.4 541 L183.7 541 L182 541 L182 539.3 L178.8 539.3 L178.8 537.7 L175.6 537.7 L175.6 536.1 L174 536.1 L172.3 536.1 L172.3 533.7 L168.8 533.7 L168.8 531.3 L167 531.3 L165.7 531.3 L165.7 529.6 L163.1 529.6 L163.1 527.8 L161.8 527.8 L160 527.8 L160 524.1 L156.5 524.1 L156.5 520.4 L154.7 520.4 L152.7 520.4 L152.7 518.4 L148.5 518.4 L148.5 516.4 L146.4 516.4 L144.7 516.4 L144.7 514.7 L141.2 514.7 L141.2 512.9 L139.4 512.9 L137.8 512.9 L137.8 510.1 L134.5 510.1 L134.5 507.2 L132.8 507.2 L131.2 507.2 L131.2 503.1 L128 503.1 L128 499.1 L124.8 499.1 L124.8 495 L123.2 495 L121.8 495 L121.8 493.7 L118.8 493.7 L118.8 492.3 L115.9 492.3 L115.9 491 L114.5 491 L112.8 491 L112.8 488.2 L109.5 488.2 L109.5 485.3 L107.9 485.3 L106.1 485.3 L106.1 481.2 L102.6 481.2 L102.6 477 L100.9 477 L99.1 477 L99.1 473.5 L95.6 473.5 L95.6 470 L93.9 470 L92.4 470 L92.4 465.3 L89.5 465.3 L89.5 460.7 L86.6 460.7 L86.6 456 L85.1 456 L83.4 456 L83.4 452 L80.1 452 L80.1 448.1 L76.7 448.1 L76.7 444.2 L75 444.2 L73.4 444.2 L73.4 440.8 L70 440.8 L70 437.4 L66.6 437.4 L66.6 434.1 L65 434.1 L63.3 434.1 L63.3 430.4 L60 430.4 L60 426.6 L58.4 426.6Z"/></clipPath>
<path d="M58.4 426.6 L59.5 426.6 L59.5 428.4 L61.7 428.4 L61.7 430.1 L63.9 430.1 L63.9 431.9 L65 431.9 L66 431.9 L66 433.2 L68 433.2 L68 434.5 L70 434.5 L70 435.8 L72 435.8 L72 437.2 L74 437.2 L74 438.5 L75 438.5 L76.2 438.5 L76.2 441.3 L78.7 441.3 L78.7 444.2 L81.1 444.2 L81.1 447 L83.5 447 L83.5 449.9 L84.7 449.9 L85.7 449.9 L85.7 452 L87.7 452 L87.7 454.1 L89.7 454.1 L89.7 456.2 L91.7 456.2 L91.7 458.3 L93.7 458.3 L93.7 460.4 L94.7 460.4 L96 460.4 L96 462.6 L98.5 462.6 L98.5 464.7 L100.9 464.7 L100.9 466.9 L102.2 466.9 L103.3 466.9 L103.3 469 L105.5 469 L105.5 471.1 L107.7 471.1 L107.7 473.2 L109.9 473.2 L109.9 475.3 L112 475.3 L112 477.4 L113.1 477.4 L114.2 477.4 L114.2 478.3 L116.3 478.3 L116.3 479.2 L118.4 479.2 L118.4 480.1 L120.5 480.1 L120.5 480.9 L122.7 480.9 L122.7 481.8 L124.8 481.8 L124.8 482.7 L125.8 482.7 L127.2 482.7 L127.2 489.3 L128.5 489.3 L129.6 489.3 L129.6 491.2 L132 491.2 L132 493.1 L134.3 493.1 L134.3 495 L135.5 495 L136.4 495 L136.4 496.6 L138.3 496.6 L138.3 498.2 L140.2 498.2 L140.2 499.8 L141.2 499.8 L142.2 499.8 L142.2 500.4 L144.1 500.4 L144.1 501.1 L145.1 501.1 L146.3 501.1 L146.3 502.3 L148.7 502.3 L148.7 503.5 L151.1 503.5 L151.1 504.7 L153.5 504.7 L153.5 505.9 L154.7 505.9 L155.9 505.9 L155.9 508.2 L158.2 508.2 L158.2 510.6 L160.6 510.6 L160.6 512.9 L161.8 512.9 L163.1 512.9 L163.1 514.9 L165.7 514.9 L165.7 516.9 L167 516.9 L168.2 516.9 L168.2 518.3 L170.5 518.3 L170.5 519.8 L172.8 519.8 L172.8 521.2 L174 521.2 L175.2 521.2 L175.2 522.7 L177.6 522.7 L177.6 524.1 L180 524.1 L180 525.5 L182.4 525.5 L182.4 526.9 L183.7 526.9 L184.5 526.9 L184.5 529.1 L186.3 529.1 L186.3 531.3 L187.2 531.3 L201.2 531.3 L201.2 539.2 L210.8 539.2 L210.8 547.1 L216.9 547.1 L216.9 554.5 L290.1 554.5" fill="none" stroke="#e4272d" stroke-width="1.25"/>
<path d="M58.4 426.6 L59.5 426.6 L59.5 428.4 L61.7 428.4 L61.7 430.1 L63.9 430.1 L63.9 431.9 L65 431.9 L66 431.9 L66 433.2 L68 433.2 L68 434.5 L70 434.5 L70 435.8 L72 435.8 L72 437.2 L74 437.2 L74 438.5 L75 438.5 L76.2 438.5 L76.2 441.3 L78.7 441.3 L78.7 444.2 L81.1 444.2 L81.1 447 L83.5 447 L83.5 449.9 L84.7 449.9 L85.7 449.9 L85.7 452 L87.7 452 L87.7 454.1 L89.7 454.1 L89.7 456.2 L91.7 456.2 L91.7 458.3 L93.7 458.3 L93.7 460.4 L94.7 460.4 L96 460.4 L96 462.6 L98.5 462.6 L98.5 464.7 L100.9 464.7 L100.9 466.9 L102.2 466.9 L103.3 466.9 L103.3 469 L105.5 469 L105.5 471.1 L107.7 471.1 L107.7 473.2 L109.9 473.2 L109.9 475.3 L112 475.3 L112 477.4 L113.1 477.4 L114.2 477.4 L114.2 478.3 L116.3 478.3 L116.3 479.2 L118.4 479.2 L118.4 480.1 L120.5 480.1 L120.5 480.9 L122.7 480.9 L122.7 481.8 L124.8 481.8 L124.8 482.7 L125.8 482.7 L127.2 482.7 L127.2 489.3 L128.5 489.3 L129.6 489.3 L129.6 491.2 L132 491.2 L132 493.1 L134.3 493.1 L134.3 495 L135.5 495 L136.4 495 L136.4 496.6 L138.3 496.6 L138.3 498.2 L140.2 498.2 L140.2 499.8 L141.2 499.8 L142.2 499.8 L142.2 500.4" fill="none" stroke="#e4272d" stroke-width="2.1" stroke-linejoin="round"/>
<path d="M60.2 429.7h4M62.2 427.7v4M68.3 435.4h4M70.3 433.4v4M71.7 437.6h4M73.7 435.6v4M80.1 446.8h4M82.1 444.8v4M77.6 443.9h4M79.6 441.9v4M90.9 458.4h4M92.9 456.4v4M88.2 455.6h4M90.2 453.6v4M96 463.2h4M98 461.2v4M92.8 460.4h4M94.8 458.4v4M107.6 474.1h4M109.6 472.1v4M108.8 475.2h4M110.8 473.2v4M107.9 474.4h4M109.9 472.4v4M123.4 482.5h4M125.4 480.5v4M120.3 481.2h4M122.3 479.2v4M111.3 477.5h4M113.3 475.5v4M133 494.6h4M135 492.6v4M132.2 494h4M134.2 492v4M137.4 498.2h4M139.4 496.2v4M142.1 500.7h4M144.1 498.7v4M143.8 501.4h4M145.8 499.4v4M143.3 501.2h4M145.3 499.2v4M156.5 509.7h4M158.5 507.7v4M159.1 512.2h4M161.1 510.2v4M163.5 515.8h4M165.5 513.8v4M288.1 554.5h4M290.1 552.5v4" stroke="#e4272d" stroke-width="1"/>
<path d="M58.4 426.6 L59.5 426.6 L59.5 427.7 L61.7 427.7 L61.7 428.7 L63.9 428.7 L63.9 429.7 L65 429.7 L66 429.7 L66 430.9 L68 430.9 L68 432.2 L70 432.2 L70 433.4 L72 433.4 L72 434.6 L74 434.6 L74 435.8 L75 435.8 L76 435.8 L76 437.5 L78.1 437.5 L78.1 439.2 L80.1 439.2 L80.1 440.8 L82.1 440.8 L82.1 442.5 L84.1 442.5 L84.1 444.2 L85.1 444.2 L86.1 444.2 L86.1 445.1 L88.1 445.1 L88.1 446.1 L90.1 446.1 L90.1 447.1 L92.2 447.1 L92.2 448 L94.2 448 L94.2 449 L95.2 449 L96.4 449 L96.4 450.7 L98.8 450.7 L98.8 452.5 L101.2 452.5 L101.2 454.2 L103.6 454.2 L103.6 456 L104.8 456 L105.8 456 L105.8 457.9 L107.8 457.9 L107.8 459.8 L109.9 459.8 L109.9 461.8 L111.9 461.8 L111.9 463.7 L113.9 463.7 L113.9 465.6 L114.9 465.6 L115.9 465.6 L115.9 467.2 L117.9 467.2 L117.9 468.8 L119.9 468.8 L119.9 470.4 L121.9 470.4 L121.9 471.9 L124 471.9 L124 473.5 L125 473.5 L126.1 473.5 L126.1 475.7 L127.2 475.7 L138.1 475.7 L139.1 475.7 L139.1 478 L141 478 L141 480.4 L142.8 480.4 L142.8 482.7 L143.8 482.7 L144.5 482.7 L144.5 483.6 L145.1 483.6 L146.2 483.6 L146.2 483.6 L148.5 483.6 L148.5 483.7 L150.7 483.7 L150.7 483.7 L153 483.7 L153 483.8 L155.2 483.8 L155.2 483.9 L157.5 483.9 L157.5 483.9 L159.7 483.9 L159.7 484 L161.9 484 L161.9 484 L163.1 484 L163.1 489.7 L204.7 489.7 L204.7 505.5 L218.7 505.5 L218.7 515.5 L228.3 515.5 L228.3 523.9 L244.5 523.9 L244.5 537 L258.5 537" fill="none" stroke="#2d4f9e" stroke-width="1.25"/>
<path d="M58.4 426.6 L59.5 426.6 L59.5 427.7 L61.7 427.7 L61.7 428.7 L63.9 428.7 L63.9 429.7 L65 429.7 L66 429.7 L66 430.9 L68 430.9 L68 432.2 L70 432.2 L70 433.4 L72 433.4 L72 434.6 L74 434.6 L74 435.8 L75 435.8 L76 435.8 L76 437.5 L78.1 437.5 L78.1 439.2 L80.1 439.2 L80.1 440.8 L82.1 440.8 L82.1 442.5 L84.1 442.5 L84.1 444.2 L85.1 444.2 L86.1 444.2 L86.1 445.1 L88.1 445.1 L88.1 446.1 L90.1 446.1 L90.1 447.1 L92.2 447.1 L92.2 448 L94.2 448 L94.2 449 L95.2 449 L96.4 449 L96.4 450.7 L98.8 450.7 L98.8 452.5 L101.2 452.5 L101.2 454.2 L103.6 454.2 L103.6 456 L104.8 456 L105.8 456 L105.8 457.9 L107.8 457.9 L107.8 459.8 L109.9 459.8 L109.9 461.8 L111.9 461.8 L111.9 463.7 L113.9 463.7 L113.9 465.6 L114.9 465.6 L115.9 465.6 L115.9 467.2 L117.9 467.2 L117.9 468.8 L119.9 468.8 L119.9 470.4 L121.9 470.4 L121.9 471.9 L124 471.9 L124 473.5 L125 473.5 L126.1 473.5 L126.1 475.7 L127.2 475.7 L138.1 475.7 L139.1 475.7 L139.1 478 L141 478 L141 480.4 L142.8 480.4 L142.8 482.7 L143.8 482.7" fill="none" stroke="#2d4f9e" stroke-width="2.1" stroke-linejoin="round"/>
<path d="M58.4 426.6 L59.5 426.6 L59.5 427.7 L61.7 427.7 L61.7 428.7 L63.9 428.7 L63.9 429.7 L65 429.7 L66 429.7 L66 430.9 L68 430.9 L68 432.2 L70 432.2 L70 433.4 L72 433.4 L72 434.6 L74 434.6 L74 435.8 L75 435.8 L76 435.8 L76 437.5 L78.1 437.5 L78.1 439.2 L80.1 439.2 L80.1 440.8 L82.1 440.8 L82.1 442.5 L84.1 442.5 L84.1 444.2 L85.1 444.2 L86.1 444.2 L86.1 445.1 L88.1 445.1 L88.1 446.1 L90.1 446.1 L90.1 447.1 L92.2 447.1 L92.2 448 L94.2 448 L94.2 449 L95.2 449 L96.4 449 L96.4 450.7 L98.8 450.7 L98.8 452.5 L101.2 452.5 L101.2 454.2 L103.6 454.2 L103.6 456 L104.8 456 L105.8 456 L105.8 457.9 L107.8 457.9 L107.8 459.8 L109.9 459.8 L109.9 461.8 L111.9 461.8 L111.9 463.7 L113.9 463.7 L113.9 465.6 L114.9 465.6 L115.9 465.6 L115.9 467.2 L117.9 467.2 L117.9 468.8 L119.9 468.8 L119.9 470.4 L121.9 470.4 L121.9 471.9 L124 471.9 L124 473.5 L125 473.5 L126.1 473.5 L126.1 475.7 L127.2 475.7 L138.1 475.7 L139.1 475.7 L139.1 478 L141 478 L141 480.4 L142.8 480.4 L142.8 482.7 L143.8 482.7 L144.5 482.7 L144.5 483.6 L145.1 483.6 L146.2 483.6 L146.2 483.6 L148.5 483.6 L148.5 483.7 L150.7 483.7 L150.7 483.7 L153 483.7 L153 483.8 L155.2 483.8 L155.2 483.9 L157.5 483.9 L157.5 483.9 L159.7 483.9 L159.7 484 L161.9 484 L161.9 484 L163.1 484 L163.1 489.7 L204.7 489.7 L204.7 505.5 L218.7 505.5 L218.7 515.5 L228.3 515.5 L228.3 523.9 L244.5 523.9 L244.5 537 L258.5 537" fill="none" stroke="#4f3f8f" stroke-width="1.25" clip-path="url(#rcB)"/>
<path d="M58.9 427.8h4M60.9 425.8v4M70.3 434.1h4M72.3 432.1v4M66.2 431.7h4M68.2 429.7v4M82.8 443.9h4M84.8 441.9v4M80.5 442h4M82.5 440v4M87.7 446.4h4M89.7 444.4v4M85.2 445.2h4M87.2 443.2v4M93.2 449h4M95.2 447v4M100.7 454.5h4M102.7 452.5v4M105.2 458.2h4M107.2 456.2v4M103 456.1h4M105 454.1v4M116.4 468.3h4M118.4 466.3v4M114.6 467h4M116.6 465v4M125.7 475.7h4M127.7 473.7v4M127.7 475.7h4M129.7 473.7v4M137.9 477.9h4M139.9 475.9v4M156 483.9h4M158 481.9v4M146.1 483.7h4M148.1 481.7v4M161.9 489.7h4M163.9 487.7v4M164.6 489.7h4M166.6 487.7v4M256.5 537h4M258.5 535v4M169.4 490.1h4M171.4 488.1v4M191.3 490.1h4M193.3 488.1v4M221.9 515.5h4M223.9 513.5v4M243.8 537h4M245.8 535v4" stroke="#2d4f9e" stroke-width="1"/>
<rect x="184.7" y="396.1" width="11.5" height="11.4" fill="#f6c8b0"/>
<rect x="217" y="396.1" width="11.5" height="11.4" fill="#c1c5e3"/>
<path d="M185.7 401.8h9.5M190.4 400.1v3.4" stroke="#e4272d" stroke-width="1.1"/>
<text x="200" y="404.8" font-size="7" fill="#1a1a1a" stroke="#1a1a1a" stroke-width="0.22">high</text>
<path d="M218 401.8h9.5M222.8 400.1v3.4" stroke="#2d4f9e" stroke-width="1.1"/>
<text x="232.3" y="404.8" font-size="7" fill="#1a1a1a" stroke="#1a1a1a" stroke-width="0.22">low</text>
<path d="M45.5 420V568.4H333.5" fill="none" stroke="#000" stroke-width="0.9"/>
<line x1="43.3" y1="561.5" x2="45.5" y2="561.5" stroke="#000" stroke-width="0.9"/>
<text x="42.2" y="564.5" text-anchor="end" font-size="8.6" fill="#1a1a1a" stroke="#1a1a1a" stroke-width="0.22">0.00</text>
<line x1="43.3" y1="527.8" x2="45.5" y2="527.8" stroke="#000" stroke-width="0.9"/>
<text x="42.2" y="530.8" text-anchor="end" font-size="8.6" fill="#1a1a1a" stroke="#1a1a1a" stroke-width="0.22">0.25</text>
<line x1="43.3" y1="494.1" x2="45.5" y2="494.1" stroke="#000" stroke-width="0.9"/>
<text x="42.2" y="497.1" text-anchor="end" font-size="8.6" fill="#1a1a1a" stroke="#1a1a1a" stroke-width="0.22">0.50</text>
<line x1="43.3" y1="460.5" x2="45.5" y2="460.5" stroke="#000" stroke-width="0.9"/>
<text x="42.2" y="463.5" text-anchor="end" font-size="8.6" fill="#1a1a1a" stroke="#1a1a1a" stroke-width="0.22">0.75</text>
<line x1="43.3" y1="426.8" x2="45.5" y2="426.8" stroke="#000" stroke-width="0.9"/>
<text x="42.2" y="429.8" text-anchor="end" font-size="8.6" fill="#1a1a1a" stroke="#1a1a1a" stroke-width="0.22">1.00</text>
<line x1="58.9" y1="568.4" x2="58.9" y2="570.6" stroke="#000" stroke-width="0.9"/>
<text x="58.9" y="578.7" text-anchor="middle" font-size="8.8" fill="#1a1a1a" stroke="#1a1a1a" stroke-width="0.22">0</text>
<line x1="72" y1="568.4" x2="72" y2="570.6" stroke="#000" stroke-width="0.9"/>
<text x="72" y="578.7" text-anchor="middle" font-size="8.8" fill="#1a1a1a" stroke="#1a1a1a" stroke-width="0.22">1</text>
<line x1="85.1" y1="568.4" x2="85.1" y2="570.6" stroke="#000" stroke-width="0.9"/>
<text x="85.1" y="578.7" text-anchor="middle" font-size="8.8" fill="#1a1a1a" stroke="#1a1a1a" stroke-width="0.22">2</text>
<line x1="98.2" y1="568.4" x2="98.2" y2="570.6" stroke="#000" stroke-width="0.9"/>
<text x="98.2" y="578.7" text-anchor="middle" font-size="8.8" fill="#1a1a1a" stroke="#1a1a1a" stroke-width="0.22">3</text>
<line x1="111.3" y1="568.4" x2="111.3" y2="570.6" stroke="#000" stroke-width="0.9"/>
<text x="111.3" y="578.7" text-anchor="middle" font-size="8.8" fill="#1a1a1a" stroke="#1a1a1a" stroke-width="0.22">4</text>
<line x1="124.4" y1="568.4" x2="124.4" y2="570.6" stroke="#000" stroke-width="0.9"/>
<text x="124.4" y="578.7" text-anchor="middle" font-size="8.8" fill="#1a1a1a" stroke="#1a1a1a" stroke-width="0.22">5</text>
<line x1="137.6" y1="568.4" x2="137.6" y2="570.6" stroke="#000" stroke-width="0.9"/>
<text x="137.6" y="578.7" text-anchor="middle" font-size="8.8" fill="#1a1a1a" stroke="#1a1a1a" stroke-width="0.22">6</text>
<line x1="150.7" y1="568.4" x2="150.7" y2="570.6" stroke="#000" stroke-width="0.9"/>
<text x="150.7" y="578.7" text-anchor="middle" font-size="8.8" fill="#1a1a1a" stroke="#1a1a1a" stroke-width="0.22">7</text>
<line x1="163.8" y1="568.4" x2="163.8" y2="570.6" stroke="#000" stroke-width="0.9"/>
<text x="163.8" y="578.7" text-anchor="middle" font-size="8.8" fill="#1a1a1a" stroke="#1a1a1a" stroke-width="0.22">8</text>
<line x1="176.9" y1="568.4" x2="176.9" y2="570.6" stroke="#000" stroke-width="0.9"/>
<text x="176.9" y="578.7" text-anchor="middle" font-size="8.8" fill="#1a1a1a" stroke="#1a1a1a" stroke-width="0.22">9</text>
<line x1="190" y1="568.4" x2="190" y2="570.6" stroke="#000" stroke-width="0.9"/>
<text x="190" y="578.7" text-anchor="middle" font-size="8.8" fill="#1a1a1a" stroke="#1a1a1a" stroke-width="0.22">10</text>
<line x1="203.1" y1="568.4" x2="203.1" y2="570.6" stroke="#000" stroke-width="0.9"/>
<text x="203.1" y="578.7" text-anchor="middle" font-size="8.8" fill="#1a1a1a" stroke="#1a1a1a" stroke-width="0.22">11</text>
<line x1="216.2" y1="568.4" x2="216.2" y2="570.6" stroke="#000" stroke-width="0.9"/>
<text x="216.2" y="578.7" text-anchor="middle" font-size="8.8" fill="#1a1a1a" stroke="#1a1a1a" stroke-width="0.22">12</text>
<line x1="229.3" y1="568.4" x2="229.3" y2="570.6" stroke="#000" stroke-width="0.9"/>
<text x="229.3" y="578.7" text-anchor="middle" font-size="8.8" fill="#1a1a1a" stroke="#1a1a1a" stroke-width="0.22">13</text>
<line x1="242.4" y1="568.4" x2="242.4" y2="570.6" stroke="#000" stroke-width="0.9"/>
<text x="242.4" y="578.7" text-anchor="middle" font-size="8.8" fill="#1a1a1a" stroke="#1a1a1a" stroke-width="0.22">14</text>
<line x1="255.5" y1="568.4" x2="255.5" y2="570.6" stroke="#000" stroke-width="0.9"/>
<text x="255.5" y="578.7" text-anchor="middle" font-size="8.8" fill="#1a1a1a" stroke="#1a1a1a" stroke-width="0.22">15</text>
<line x1="268.7" y1="568.4" x2="268.7" y2="570.6" stroke="#000" stroke-width="0.9"/>
<text x="268.7" y="578.7" text-anchor="middle" font-size="8.8" fill="#1a1a1a" stroke="#1a1a1a" stroke-width="0.22">16</text>
<line x1="281.8" y1="568.4" x2="281.8" y2="570.6" stroke="#000" stroke-width="0.9"/>
<text x="281.8" y="578.7" text-anchor="middle" font-size="8.8" fill="#1a1a1a" stroke="#1a1a1a" stroke-width="0.22">17</text>
<line x1="294.9" y1="568.4" x2="294.9" y2="570.6" stroke="#000" stroke-width="0.9"/>
<text x="294.9" y="578.7" text-anchor="middle" font-size="8.8" fill="#1a1a1a" stroke="#1a1a1a" stroke-width="0.22">18</text>
<line x1="308" y1="568.4" x2="308" y2="570.6" stroke="#000" stroke-width="0.9"/>
<text x="308" y="578.7" text-anchor="middle" font-size="8.8" fill="#1a1a1a" stroke="#1a1a1a" stroke-width="0.22">19</text>
<line x1="321.1" y1="568.4" x2="321.1" y2="570.6" stroke="#000" stroke-width="0.9"/>
<text x="321.1" y="578.7" text-anchor="middle" font-size="8.8" fill="#1a1a1a" stroke="#1a1a1a" stroke-width="0.22">20</text>
<text x="190" y="589.9" text-anchor="middle" font-size="9.6" fill="#000" stroke="#000" stroke-width="0.22">Time(years)</text>
<text transform="translate(21.6 494.1) rotate(-90)" text-anchor="middle" font-size="9.7" fill="#000" stroke="#000" stroke-width="0.22">Survival probability</text>
<text x="63.5" y="539.3" font-size="12" fill="#000" stroke="#000" stroke-width="0.22">p=0.005</text>
<path d="M45.5 615.4V638H333.5" fill="none" stroke="#000" stroke-width="0.9"/>
<line x1="43.3" y1="620.8" x2="45.5" y2="620.8" stroke="#000" stroke-width="0.9"/>
<text x="42.2" y="623.4" text-anchor="end" font-size="8.2" fill="#e4272d" stroke="#e4272d" stroke-width="0.22">high</text>
<line x1="43.3" y1="631.4" x2="45.5" y2="631.4" stroke="#000" stroke-width="0.9"/>
<text x="42.2" y="634" text-anchor="end" font-size="8.2" fill="#2d4f9e" stroke="#2d4f9e" stroke-width="0.22">low</text>
<text x="58.9" y="624" text-anchor="middle" font-size="9" fill="#1a1a1a" stroke="#1a1a1a" stroke-width="0.22">254</text>
<text x="72" y="624" text-anchor="middle" font-size="9" fill="#1a1a1a" stroke="#1a1a1a" stroke-width="0.22">193</text>
<text x="85.1" y="624" text-anchor="middle" font-size="9" fill="#1a1a1a" stroke="#1a1a1a" stroke-width="0.22">119</text>
<text x="98.2" y="624" text-anchor="middle" font-size="9" fill="#1a1a1a" stroke="#1a1a1a" stroke-width="0.22">77</text>
<text x="111.3" y="624" text-anchor="middle" font-size="9" fill="#1a1a1a" stroke="#1a1a1a" stroke-width="0.22">44</text>
<text x="124.4" y="624" text-anchor="middle" font-size="9" fill="#1a1a1a" stroke="#1a1a1a" stroke-width="0.22">34</text>
<text x="137.6" y="624" text-anchor="middle" font-size="9" fill="#1a1a1a" stroke="#1a1a1a" stroke-width="0.22">26</text>
<text x="150.7" y="624" text-anchor="middle" font-size="9" fill="#1a1a1a" stroke="#1a1a1a" stroke-width="0.22">21</text>
<text x="163.8" y="624" text-anchor="middle" font-size="9" fill="#1a1a1a" stroke="#1a1a1a" stroke-width="0.22">13</text>
<text x="176.9" y="624" text-anchor="middle" font-size="9" fill="#1a1a1a" stroke="#1a1a1a" stroke-width="0.22">8</text>
<text x="190" y="624" text-anchor="middle" font-size="9" fill="#1a1a1a" stroke="#1a1a1a" stroke-width="0.22">5</text>
<text x="203.1" y="624" text-anchor="middle" font-size="9" fill="#1a1a1a" stroke="#1a1a1a" stroke-width="0.22">3</text>
<text x="216.2" y="624" text-anchor="middle" font-size="9" fill="#1a1a1a" stroke="#1a1a1a" stroke-width="0.22">2</text>
<text x="229.3" y="624" text-anchor="middle" font-size="9" fill="#1a1a1a" stroke="#1a1a1a" stroke-width="0.22">1</text>
<text x="242.4" y="624" text-anchor="middle" font-size="9" fill="#1a1a1a" stroke="#1a1a1a" stroke-width="0.22">1</text>
<text x="255.5" y="624" text-anchor="middle" font-size="9" fill="#1a1a1a" stroke="#1a1a1a" stroke-width="0.22">1</text>
<text x="268.7" y="624" text-anchor="middle" font-size="9" fill="#1a1a1a" stroke="#1a1a1a" stroke-width="0.22">1</text>
<text x="281.8" y="624" text-anchor="middle" font-size="9" fill="#1a1a1a" stroke="#1a1a1a" stroke-width="0.22">1</text>
<text x="294.9" y="624" text-anchor="middle" font-size="9" fill="#1a1a1a" stroke="#1a1a1a" stroke-width="0.22">0</text>
<text x="308" y="624" text-anchor="middle" font-size="9" fill="#1a1a1a" stroke="#1a1a1a" stroke-width="0.22">0</text>
<text x="321.1" y="624" text-anchor="middle" font-size="9" fill="#1a1a1a" stroke="#1a1a1a" stroke-width="0.22">0</text>
<text x="58.9" y="634.6" text-anchor="middle" font-size="9" fill="#1a1a1a" stroke="#1a1a1a" stroke-width="0.22">254</text>
<text x="72" y="634.6" text-anchor="middle" font-size="9" fill="#1a1a1a" stroke="#1a1a1a" stroke-width="0.22">197</text>
<text x="85.1" y="634.6" text-anchor="middle" font-size="9" fill="#1a1a1a" stroke="#1a1a1a" stroke-width="0.22">119</text>
<text x="98.2" y="634.6" text-anchor="middle" font-size="9" fill="#1a1a1a" stroke="#1a1a1a" stroke-width="0.22">78</text>
<text x="111.3" y="634.6" text-anchor="middle" font-size="9" fill="#1a1a1a" stroke="#1a1a1a" stroke-width="0.22">44</text>
<text x="124.4" y="634.6" text-anchor="middle" font-size="9" fill="#1a1a1a" stroke="#1a1a1a" stroke-width="0.22">30</text>
<text x="137.6" y="634.6" text-anchor="middle" font-size="9" fill="#1a1a1a" stroke="#1a1a1a" stroke-width="0.22">25</text>
<text x="150.7" y="634.6" text-anchor="middle" font-size="9" fill="#1a1a1a" stroke="#1a1a1a" stroke-width="0.22">19</text>
<text x="163.8" y="634.6" text-anchor="middle" font-size="9" fill="#1a1a1a" stroke="#1a1a1a" stroke-width="0.22">11</text>
<text x="176.9" y="634.6" text-anchor="middle" font-size="9" fill="#1a1a1a" stroke="#1a1a1a" stroke-width="0.22">11</text>
<text x="190" y="634.6" text-anchor="middle" font-size="9" fill="#1a1a1a" stroke="#1a1a1a" stroke-width="0.22">11</text>
<text x="203.1" y="634.6" text-anchor="middle" font-size="9" fill="#1a1a1a" stroke="#1a1a1a" stroke-width="0.22">9</text>
<text x="216.2" y="634.6" text-anchor="middle" font-size="9" fill="#1a1a1a" stroke="#1a1a1a" stroke-width="0.22">6</text>
<text x="229.3" y="634.6" text-anchor="middle" font-size="9" fill="#1a1a1a" stroke="#1a1a1a" stroke-width="0.22">4</text>
<text x="242.4" y="634.6" text-anchor="middle" font-size="9" fill="#1a1a1a" stroke="#1a1a1a" stroke-width="0.22">3</text>
<text x="255.5" y="634.6" text-anchor="middle" font-size="9" fill="#1a1a1a" stroke="#1a1a1a" stroke-width="0.22">1</text>
<text x="268.7" y="634.6" text-anchor="middle" font-size="9" fill="#1a1a1a" stroke="#1a1a1a" stroke-width="0.22">0</text>
<text x="281.8" y="634.6" text-anchor="middle" font-size="9" fill="#1a1a1a" stroke="#1a1a1a" stroke-width="0.22">0</text>
<text x="294.9" y="634.6" text-anchor="middle" font-size="9" fill="#1a1a1a" stroke="#1a1a1a" stroke-width="0.22">0</text>
<text x="308" y="634.6" text-anchor="middle" font-size="9" fill="#1a1a1a" stroke="#1a1a1a" stroke-width="0.22">0</text>
<text x="321.1" y="634.6" text-anchor="middle" font-size="9" fill="#1a1a1a" stroke="#1a1a1a" stroke-width="0.22">0</text>
<line x1="58.9" y1="638" x2="58.9" y2="640.2" stroke="#000" stroke-width="0.9"/>
<text x="58.9" y="648" text-anchor="middle" font-size="8.8" fill="#1a1a1a" stroke="#1a1a1a" stroke-width="0.22">0</text>
<line x1="72" y1="638" x2="72" y2="640.2" stroke="#000" stroke-width="0.9"/>
<text x="72" y="648" text-anchor="middle" font-size="8.8" fill="#1a1a1a" stroke="#1a1a1a" stroke-width="0.22">1</text>
<line x1="85.1" y1="638" x2="85.1" y2="640.2" stroke="#000" stroke-width="0.9"/>
<text x="85.1" y="648" text-anchor="middle" font-size="8.8" fill="#1a1a1a" stroke="#1a1a1a" stroke-width="0.22">2</text>
<line x1="98.2" y1="638" x2="98.2" y2="640.2" stroke="#000" stroke-width="0.9"/>
<text x="98.2" y="648" text-anchor="middle" font-size="8.8" fill="#1a1a1a" stroke="#1a1a1a" stroke-width="0.22">3</text>
<line x1="111.3" y1="638" x2="111.3" y2="640.2" stroke="#000" stroke-width="0.9"/>
<text x="111.3" y="648" text-anchor="middle" font-size="8.8" fill="#1a1a1a" stroke="#1a1a1a" stroke-width="0.22">4</text>
<line x1="124.4" y1="638" x2="124.4" y2="640.2" stroke="#000" stroke-width="0.9"/>
<text x="124.4" y="648" text-anchor="middle" font-size="8.8" fill="#1a1a1a" stroke="#1a1a1a" stroke-width="0.22">5</text>
<line x1="137.6" y1="638" x2="137.6" y2="640.2" stroke="#000" stroke-width="0.9"/>
<text x="137.6" y="648" text-anchor="middle" font-size="8.8" fill="#1a1a1a" stroke="#1a1a1a" stroke-width="0.22">6</text>
<line x1="150.7" y1="638" x2="150.7" y2="640.2" stroke="#000" stroke-width="0.9"/>
<text x="150.7" y="648" text-anchor="middle" font-size="8.8" fill="#1a1a1a" stroke="#1a1a1a" stroke-width="0.22">7</text>
<line x1="163.8" y1="638" x2="163.8" y2="640.2" stroke="#000" stroke-width="0.9"/>
<text x="163.8" y="648" text-anchor="middle" font-size="8.8" fill="#1a1a1a" stroke="#1a1a1a" stroke-width="0.22">8</text>
<line x1="176.9" y1="638" x2="176.9" y2="640.2" stroke="#000" stroke-width="0.9"/>
<text x="176.9" y="648" text-anchor="middle" font-size="8.8" fill="#1a1a1a" stroke="#1a1a1a" stroke-width="0.22">9</text>
<line x1="190" y1="638" x2="190" y2="640.2" stroke="#000" stroke-width="0.9"/>
<text x="190" y="648" text-anchor="middle" font-size="8.8" fill="#1a1a1a" stroke="#1a1a1a" stroke-width="0.22">10</text>
<line x1="203.1" y1="638" x2="203.1" y2="640.2" stroke="#000" stroke-width="0.9"/>
<text x="203.1" y="648" text-anchor="middle" font-size="8.8" fill="#1a1a1a" stroke="#1a1a1a" stroke-width="0.22">11</text>
<line x1="216.2" y1="638" x2="216.2" y2="640.2" stroke="#000" stroke-width="0.9"/>
<text x="216.2" y="648" text-anchor="middle" font-size="8.8" fill="#1a1a1a" stroke="#1a1a1a" stroke-width="0.22">12</text>
<line x1="229.3" y1="638" x2="229.3" y2="640.2" stroke="#000" stroke-width="0.9"/>
<text x="229.3" y="648" text-anchor="middle" font-size="8.8" fill="#1a1a1a" stroke="#1a1a1a" stroke-width="0.22">13</text>
<line x1="242.4" y1="638" x2="242.4" y2="640.2" stroke="#000" stroke-width="0.9"/>
<text x="242.4" y="648" text-anchor="middle" font-size="8.8" fill="#1a1a1a" stroke="#1a1a1a" stroke-width="0.22">14</text>
<line x1="255.5" y1="638" x2="255.5" y2="640.2" stroke="#000" stroke-width="0.9"/>
<text x="255.5" y="648" text-anchor="middle" font-size="8.8" fill="#1a1a1a" stroke="#1a1a1a" stroke-width="0.22">15</text>
<line x1="268.7" y1="638" x2="268.7" y2="640.2" stroke="#000" stroke-width="0.9"/>
<text x="268.7" y="648" text-anchor="middle" font-size="8.8" fill="#1a1a1a" stroke="#1a1a1a" stroke-width="0.22">16</text>
<line x1="281.8" y1="638" x2="281.8" y2="640.2" stroke="#000" stroke-width="0.9"/>
<text x="281.8" y="648" text-anchor="middle" font-size="8.8" fill="#1a1a1a" stroke="#1a1a1a" stroke-width="0.22">17</text>
<line x1="294.9" y1="638" x2="294.9" y2="640.2" stroke="#000" stroke-width="0.9"/>
<text x="294.9" y="648" text-anchor="middle" font-size="8.8" fill="#1a1a1a" stroke="#1a1a1a" stroke-width="0.22">18</text>
<line x1="308" y1="638" x2="308" y2="640.2" stroke="#000" stroke-width="0.9"/>
<text x="308" y="648" text-anchor="middle" font-size="8.8" fill="#1a1a1a" stroke="#1a1a1a" stroke-width="0.22">19</text>
<line x1="321.1" y1="638" x2="321.1" y2="640.2" stroke="#000" stroke-width="0.9"/>
<text x="321.1" y="648" text-anchor="middle" font-size="8.8" fill="#1a1a1a" stroke="#1a1a1a" stroke-width="0.22">20</text>
<text x="190" y="659" text-anchor="middle" font-size="9.6" fill="#000" stroke="#000" stroke-width="0.22">Time(years)</text>
<text transform="translate(21.8 625.9) rotate(-90)" text-anchor="middle" font-size="9.7" fill="#000" stroke="#000" stroke-width="0.22">ImmuneScore</text>
<text transform="translate(339.5 411) scale(1.0 1)" style='font-family:"Liberation Serif", serif' font-size="28.5" fill="#000">C</text>
<text id="legC" x="486" y="404.3" font-size="7" fill="#1a1a1a" stroke="#1a1a1a" stroke-width="0.22">StromalScore</text>
<clipPath id="bcC"><path d="M406.9 426.1 L408.6 426.1 L408.6 426.2 L412.1 426.2 L412.1 426.4 L415.7 426.4 L415.7 426.5 L417.4 426.5 L419.3 426.5 L419.3 428.3 L422.9 428.3 L422.9 430.2 L426.6 430.2 L426.6 432 L428.4 432 L430.3 432 L430.3 433.1 L434 433.1 L434 434.3 L437.6 434.3 L437.6 435.4 L439.5 435.4 L441 435.4 L441 438.2 L444.2 438.2 L444.2 440.9 L445.8 440.9 L447.5 440.9 L447.5 443.7 L450.9 443.7 L450.9 446.4 L452.6 446.4 L454.1 446.4 L454.1 447.8 L457 447.8 L457 449.2 L460 449.2 L460 450.6 L461.5 450.6 L463.1 450.6 L463.1 452.9 L466.4 452.9 L466.4 455.1 L469.7 455.1 L469.7 457.3 L473 457.3 L473 459.5 L474.6 459.5 L476.5 459.5 L476.5 460.5 L480.3 460.5 L480.3 461.4 L484.1 461.4 L484.1 462.4 L487.9 462.4 L487.9 463.3 L489.8 463.3 L508.9 463.3 L508.9 465.9 L532.2 465.9 L532.2 468.8 L554.2 468.8 L554.2 472.2 L566 472.2 L566 478.2 L567.7 478.2 L567.7 479.4 L571.1 479.4 L571.1 480.7 L574.5 480.7 L574.5 482 L576.2 482 L576.2 488.7 L593.1 488.7 L593.1 483.7 L606.7 483.7 L606.7 558.6 L606.7 558.6 L593.1 558.6 L591.4 558.6 L591.4 556.6 L588.1 556.6 L588.1 554.5 L584.7 554.5 L584.7 552.5 L581.3 552.5 L581.3 550.5 L577.9 550.5 L577.9 548.4 L576.2 548.4 L574.4 548.4 L574.4 546.2 L570.9 546.2 L570.9 543.9 L567.4 543.9 L567.4 541.7 L565.6 541.7 L565.6 521.3 L554.2 521.3 L554.2 512 L532.2 512 L532.2 502.7 L508.9 502.7 L508.9 496.8 L489.8 496.8 L488.2 496.8 L488.2 493.8 L485 493.8 L485 490.9 L481.7 490.9 L481.7 487.9 L480.1 487.9 L478.3 487.9 L478.3 486.6 L474.8 486.6 L474.8 485.4 L471.3 485.4 L471.3 484.1 L469.5 484.1 L467.7 484.1 L467.7 480 L464.2 480 L464.2 475.9 L460.7 475.9 L460.7 471.8 L458.9 471.8 L457 471.8 L457 466.9 L453.2 466.9 L453.2 461.9 L449.4 461.9 L449.4 457 L447.5 457 L445.9 457 L445.9 454 L442.7 454 L442.7 451.1 L441.1 451.1 L439.4 451.1 L439.4 448.3 L436 448.3 L436 445.6 L432.5 445.6 L432.5 442.8 L429 442.8 L429 440.1 L425.6 440.1 L425.6 437.3 L422.1 437.3 L422.1 434.6 L420.4 434.6 L418.7 434.6 L418.7 432.4 L415.3 432.4 L415.3 430.3 L411.9 430.3 L411.9 428.2 L408.5 428.2 L408.5 426.1 L406.9 426.1Z"/></clipPath>
<path d="M406.9 426.1 L408.5 426.1 L408.5 427.4 L411.9 427.4 L411.9 428.6 L415.3 428.6 L415.3 429.9 L418.7 429.9 L418.7 431.2 L420.4 431.2 L422 431.2 L422 433.8 L425.2 433.8 L425.2 436.5 L428.3 436.5 L428.3 439.1 L431.5 439.1 L431.5 441.8 L433.1 441.8 L435.2 441.8 L435.2 447.3 L439.5 447.3 L439.5 452.8 L441.6 452.8 L443.4 452.8 L443.4 455 L447.1 455 L447.1 457.3 L450.7 457.3 L450.7 459.5 L452.6 459.5 L454.2 459.5 L454.2 461.7 L457.3 461.7 L457.3 463.8 L458.9 463.8 L460.7 463.8 L460.7 466.7 L464.2 466.7 L464.2 469.7 L467.7 469.7 L467.7 472.7 L469.5 472.7 L471.2 472.7 L471.2 474.4 L474.6 474.4 L474.6 476.2 L478 476.2 L478 478 L481.4 478 L481.4 479.7 L484.8 479.7 L484.8 481.5 L488.1 481.5 L488.1 483.2 L489.8 483.2 L492.4 483.2 L492.4 484.9 L494.9 484.9 L496.6 484.9 L496.6 486.2 L500 486.2 L500 487.5 L501.7 487.5 L503.3 487.5 L503.3 489.2 L506.6 489.2 L506.6 490.9 L509.8 490.9 L509.8 492.6 L511.4 492.6 L512.9 492.6 L512.9 495.9 L514.4 495.9 L516.5 495.9 L516.5 497.4 L520.7 497.4 L520.7 498.9 L522.9 498.9 L524.4 498.9 L524.4 499.8 L527.5 499.8 L527.5 500.6 L530.6 500.6 L530.6 501.4 L532.2 501.4 L534 501.4 L534 502 L537.7 502 L537.7 502.6 L541.3 502.6 L541.3 503.1 L545 503.1 L545 503.7 L548.7 503.7 L548.7 504.3 L552.4 504.3 L552.4 504.8 L554.2 504.8 L554.2 512.5 L565.6 512.5 L565.6 517.1 L638.4 517.1 L638.4 557.8 L638.4 557.8 L559.3 557.8 L557.9 557.8 L557.9 555.6 L555.1 555.6 L555.1 553.5 L553.8 553.5 L552.1 553.5 L552.1 547.2 L550.4 547.2 L548.5 547.2 L548.5 545.6 L544.7 545.6 L544.7 544 L540.9 544 L540.9 542.4 L537 542.4 L537 540.8 L535.1 540.8 L533.4 540.8 L533.4 539 L529.9 539 L529.9 537.2 L526.5 537.2 L526.5 535.3 L523 535.3 L523 533.5 L519.6 533.5 L519.6 531.6 L516.1 531.6 L516.1 529.8 L514.4 529.8 L512.7 529.8 L512.7 524.7 L511 524.7 L509 524.7 L509 522.6 L505 522.6 L505 520.5 L503 520.5 L500.8 520.5 L500.8 518.8 L496.6 518.8 L496.6 517.1 L494.5 517.1 L492.8 517.1 L492.8 512.7 L489.4 512.7 L489.4 508.2 L487.7 508.2 L486.1 508.2 L486.1 505.4 L482.8 505.4 L482.8 502.5 L479.5 502.5 L479.5 499.6 L476.2 499.6 L476.2 496.8 L474.6 496.8 L473 496.8 L473 495.2 L469.7 495.2 L469.7 493.7 L466.5 493.7 L466.5 492.1 L464.9 492.1 L463.4 492.1 L463.4 488.1 L460.4 488.1 L460.4 484.1 L458.9 484.1 L457 484.1 L457 481.4 L453.2 481.4 L453.2 478.7 L449.4 478.7 L449.4 476 L447.5 476 L445.4 476 L445.4 473.1 L441.1 473.1 L441.1 470.1 L439 470.1 L437.1 470.1 L437.1 458.7 L435.2 458.7 L433.5 458.7 L433.5 456.6 L430.1 456.6 L430.1 454.5 L428.4 454.5 L426.8 454.5 L426.8 450.4 L423.4 450.4 L423.4 446.4 L421.7 446.4 L419.6 446.4 L419.6 439.8 L415.3 439.8 L415.3 433.3 L413.2 433.3 L411.6 433.3 L411.6 429.7 L408.4 429.7 L408.4 426.1 L406.9 426.1Z" fill="#f6c8b0"/>
<path d="M406.9 426.1 L408.6 426.1 L408.6 426.2 L412.1 426.2 L412.1 426.4 L415.7 426.4 L415.7 426.5 L417.4 426.5 L419.3 426.5 L419.3 428.3 L422.9 428.3 L422.9 430.2 L426.6 430.2 L426.6 432 L428.4 432 L430.3 432 L430.3 433.1 L434 433.1 L434 434.3 L437.6 434.3 L437.6 435.4 L439.5 435.4 L441 435.4 L441 438.2 L444.2 438.2 L444.2 440.9 L445.8 440.9 L447.5 440.9 L447.5 443.7 L450.9 443.7 L450.9 446.4 L452.6 446.4 L454.1 446.4 L454.1 447.8 L457 447.8 L457 449.2 L460 449.2 L460 450.6 L461.5 450.6 L463.1 450.6 L463.1 452.9 L466.4 452.9 L466.4 455.1 L469.7 455.1 L469.7 457.3 L473 457.3 L473 459.5 L474.6 459.5 L476.5 459.5 L476.5 460.5 L480.3 460.5 L480.3 461.4 L484.1 461.4 L484.1 462.4 L487.9 462.4 L487.9 463.3 L489.8 463.3 L508.9 463.3 L508.9 465.9 L532.2 465.9 L532.2 468.8 L554.2 468.8 L554.2 472.2 L566 472.2 L566 478.2 L567.7 478.2 L567.7 479.4 L571.1 479.4 L571.1 480.7 L574.5 480.7 L574.5 482 L576.2 482 L576.2 488.7 L593.1 488.7 L593.1 483.7 L606.7 483.7 L606.7 558.6 L606.7 558.6 L593.1 558.6 L591.4 558.6 L591.4 556.6 L588.1 556.6 L588.1 554.5 L584.7 554.5 L584.7 552.5 L581.3 552.5 L581.3 550.5 L577.9 550.5 L577.9 548.4 L576.2 548.4 L574.4 548.4 L574.4 546.2 L570.9 546.2 L570.9 543.9 L567.4 543.9 L567.4 541.7 L565.6 541.7 L565.6 521.3 L554.2 521.3 L554.2 512 L532.2 512 L532.2 502.7 L508.9 502.7 L508.9 496.8 L489.8 496.8 L488.2 496.8 L488.2 493.8 L485 493.8 L485 490.9 L481.7 490.9 L481.7 487.9 L480.1 487.9 L478.3 487.9 L478.3 486.6 L474.8 486.6 L474.8 485.4 L471.3 485.4 L471.3 484.1 L469.5 484.1 L467.7 484.1 L467.7 480 L464.2 480 L464.2 475.9 L460.7 475.9 L460.7 471.8 L458.9 471.8 L457 471.8 L457 466.9 L453.2 466.9 L453.2 461.9 L449.4 461.9 L449.4 457 L447.5 457 L445.9 457 L445.9 454 L442.7 454 L442.7 451.1 L441.1 451.1 L439.4 451.1 L439.4 448.3 L436 448.3 L436 445.6 L432.5 445.6 L432.5 442.8 L429 442.8 L429 440.1 L425.6 440.1 L425.6 437.3 L422.1 437.3 L422.1 434.6 L420.4 434.6 L418.7 434.6 L418.7 432.4 L415.3 432.4 L415.3 430.3 L411.9 430.3 L411.9 428.2 L408.5 428.2 L408.5 426.1 L406.9 426.1Z" fill="#c1c5e3"/>
<path d="M406.9 426.1 L408.5 426.1 L408.5 427.4 L411.9 427.4 L411.9 428.6 L415.3 428.6 L415.3 429.9 L418.7 429.9 L418.7 431.2 L420.4 431.2 L422 431.2 L422 433.8 L425.2 433.8 L425.2 436.5 L428.3 436.5 L428.3 439.1 L431.5 439.1 L431.5 441.8 L433.1 441.8 L435.2 441.8 L435.2 447.3 L439.5 447.3 L439.5 452.8 L441.6 452.8 L443.4 452.8 L443.4 455 L447.1 455 L447.1 457.3 L450.7 457.3 L450.7 459.5 L452.6 459.5 L454.2 459.5 L454.2 461.7 L457.3 461.7 L457.3 463.8 L458.9 463.8 L460.7 463.8 L460.7 466.7 L464.2 466.7 L464.2 469.7 L467.7 469.7 L467.7 472.7 L469.5 472.7 L471.2 472.7 L471.2 474.4 L474.6 474.4 L474.6 476.2 L478 476.2 L478 478 L481.4 478 L481.4 479.7 L484.8 479.7 L484.8 481.5 L488.1 481.5 L488.1 483.2 L489.8 483.2 L492.4 483.2 L492.4 484.9 L494.9 484.9 L496.6 484.9 L496.6 486.2 L500 486.2 L500 487.5 L501.7 487.5 L503.3 487.5 L503.3 489.2 L506.6 489.2 L506.6 490.9 L509.8 490.9 L509.8 492.6 L511.4 492.6 L512.9 492.6 L512.9 495.9 L514.4 495.9 L516.5 495.9 L516.5 497.4 L520.7 497.4 L520.7 498.9 L522.9 498.9 L524.4 498.9 L524.4 499.8 L527.5 499.8 L527.5 500.6 L530.6 500.6 L530.6 501.4 L532.2 501.4 L534 501.4 L534 502 L537.7 502 L537.7 502.6 L541.3 502.6 L541.3 503.1 L545 503.1 L545 503.7 L548.7 503.7 L548.7 504.3 L552.4 504.3 L552.4 504.8 L554.2 504.8 L554.2 512.5 L565.6 512.5 L565.6 517.1 L638.4 517.1 L638.4 557.8 L638.4 557.8 L559.3 557.8 L557.9 557.8 L557.9 555.6 L555.1 555.6 L555.1 553.5 L553.8 553.5 L552.1 553.5 L552.1 547.2 L550.4 547.2 L548.5 547.2 L548.5 545.6 L544.7 545.6 L544.7 544 L540.9 544 L540.9 542.4 L537 542.4 L537 540.8 L535.1 540.8 L533.4 540.8 L533.4 539 L529.9 539 L529.9 537.2 L526.5 537.2 L526.5 535.3 L523 535.3 L523 533.5 L519.6 533.5 L519.6 531.6 L516.1 531.6 L516.1 529.8 L514.4 529.8 L512.7 529.8 L512.7 524.7 L511 524.7 L509 524.7 L509 522.6 L505 522.6 L505 520.5 L503 520.5 L500.8 520.5 L500.8 518.8 L496.6 518.8 L496.6 517.1 L494.5 517.1 L492.8 517.1 L492.8 512.7 L489.4 512.7 L489.4 508.2 L487.7 508.2 L486.1 508.2 L486.1 505.4 L482.8 505.4 L482.8 502.5 L479.5 502.5 L479.5 499.6 L476.2 499.6 L476.2 496.8 L474.6 496.8 L473 496.8 L473 495.2 L469.7 495.2 L469.7 493.7 L466.5 493.7 L466.5 492.1 L464.9 492.1 L463.4 492.1 L463.4 488.1 L460.4 488.1 L460.4 484.1 L458.9 484.1 L457 484.1 L457 481.4 L453.2 481.4 L453.2 478.7 L449.4 478.7 L449.4 476 L447.5 476 L445.4 476 L445.4 473.1 L441.1 473.1 L441.1 470.1 L439 470.1 L437.1 470.1 L437.1 458.7 L435.2 458.7 L433.5 458.7 L433.5 456.6 L430.1 456.6 L430.1 454.5 L428.4 454.5 L426.8 454.5 L426.8 450.4 L423.4 450.4 L423.4 446.4 L421.7 446.4 L419.6 446.4 L419.6 439.8 L415.3 439.8 L415.3 433.3 L413.2 433.3 L411.6 433.3 L411.6 429.7 L408.4 429.7 L408.4 426.1 L406.9 426.1Z" fill="#c09cb4" clip-path="url(#bcC)"/>
<clipPath id="rcC"><path d="M406.9 426.1 L408.5 426.1 L408.5 427.4 L411.9 427.4 L411.9 428.6 L415.3 428.6 L415.3 429.9 L418.7 429.9 L418.7 431.2 L420.4 431.2 L422 431.2 L422 433.8 L425.2 433.8 L425.2 436.5 L428.3 436.5 L428.3 439.1 L431.5 439.1 L431.5 441.8 L433.1 441.8 L435.2 441.8 L435.2 447.3 L439.5 447.3 L439.5 452.8 L441.6 452.8 L443.4 452.8 L443.4 455 L447.1 455 L447.1 457.3 L450.7 457.3 L450.7 459.5 L452.6 459.5 L454.2 459.5 L454.2 461.7 L457.3 461.7 L457.3 463.8 L458.9 463.8 L460.7 463.8 L460.7 466.7 L464.2 466.7 L464.2 469.7 L467.7 469.7 L467.7 472.7 L469.5 472.7 L471.2 472.7 L471.2 474.4 L474.6 474.4 L474.6 476.2 L478 476.2 L478 478 L481.4 478 L481.4 479.7 L484.8 479.7 L484.8 481.5 L488.1 481.5 L488.1 483.2 L489.8 483.2 L492.4 483.2 L492.4 484.9 L494.9 484.9 L496.6 484.9 L496.6 486.2 L500 486.2 L500 487.5 L501.7 487.5 L503.3 487.5 L503.3 489.2 L506.6 489.2 L506.6 490.9 L509.8 490.9 L509.8 492.6 L511.4 492.6 L512.9 492.6 L512.9 495.9 L514.4 495.9 L516.5 495.9 L516.5 497.4 L520.7 497.4 L520.7 498.9 L522.9 498.9 L524.4 498.9 L524.4 499.8 L527.5 499.8 L527.5 500.6 L530.6 500.6 L530.6 501.4 L532.2 501.4 L534 501.4 L534 502 L537.7 502 L537.7 502.6 L541.3 502.6 L541.3 503.1 L545 503.1 L545 503.7 L548.7 503.7 L548.7 504.3 L552.4 504.3 L552.4 504.8 L554.2 504.8 L554.2 512.5 L565.6 512.5 L565.6 517.1 L638.4 517.1 L638.4 557.8 L638.4 557.8 L559.3 557.8 L557.9 557.8 L557.9 555.6 L555.1 555.6 L555.1 553.5 L553.8 553.5 L552.1 553.5 L552.1 547.2 L550.4 547.2 L548.5 547.2 L548.5 545.6 L544.7 545.6 L544.7 544 L540.9 544 L540.9 542.4 L537 542.4 L537 540.8 L535.1 540.8 L533.4 540.8 L533.4 539 L529.9 539 L529.9 537.2 L526.5 537.2 L526.5 535.3 L523 535.3 L523 533.5 L519.6 533.5 L519.6 531.6 L516.1 531.6 L516.1 529.8 L514.4 529.8 L512.7 529.8 L512.7 524.7 L511 524.7 L509 524.7 L509 522.6 L505 522.6 L505 520.5 L503 520.5 L500.8 520.5 L500.8 518.8 L496.6 518.8 L496.6 517.1 L494.5 517.1 L492.8 517.1 L492.8 512.7 L489.4 512.7 L489.4 508.2 L487.7 508.2 L486.1 508.2 L486.1 505.4 L482.8 505.4 L482.8 502.5 L479.5 502.5 L479.5 499.6 L476.2 499.6 L476.2 496.8 L474.6 496.8 L473 496.8 L473 495.2 L469.7 495.2 L469.7 493.7 L466.5 493.7 L466.5 492.1 L464.9 492.1 L463.4 492.1 L463.4 488.1 L460.4 488.1 L460.4 484.1 L458.9 484.1 L457 484.1 L457 481.4 L453.2 481.4 L453.2 478.7 L449.4 478.7 L449.4 476 L447.5 476 L445.4 476 L445.4 473.1 L441.1 473.1 L441.1 470.1 L439 470.1 L437.1 470.1 L437.1 458.7 L435.2 458.7 L433.5 458.7 L433.5 456.6 L430.1 456.6 L430.1 454.5 L428.4 454.5 L426.8 454.5 L426.8 450.4 L423.4 450.4 L423.4 446.4 L421.7 446.4 L419.6 446.4 L419.6 439.8 L415.3 439.8 L415.3 433.3 L413.2 433.3 L411.6 433.3 L411.6 429.7 L408.4 429.7 L408.4 426.1 L406.9 426.1Z"/></clipPath>
<path d="M406.9 426.1 L407.9 426.1 L407.9 427.7 L409.9 427.7 L409.9 429.3 L411.9 429.3 L411.9 430.9 L413.9 430.9 L413.9 432.4 L414.9 432.4 L416.1 432.4 L416.1 434.9 L418.5 434.9 L418.5 437.3 L420.8 437.3 L420.8 439.8 L423.2 439.8 L423.2 442.3 L425.6 442.3 L425.6 444.7 L426.8 444.7 L427.8 444.7 L427.8 447.2 L429.9 447.2 L429.9 449.6 L432 449.6 L432 452 L434.2 452 L434.2 454.5 L435.2 454.5 L436.3 454.5 L436.3 456.5 L438.6 456.5 L438.6 458.5 L440.8 458.5 L440.8 460.5 L443 460.5 L443 462.5 L444.1 462.5 L445.2 462.5 L445.2 463.6 L447.3 463.6 L447.3 464.6 L449.4 464.6 L449.4 465.7 L451.5 465.7 L451.5 466.7 L452.6 466.7 L453.6 466.7 L453.6 468.2 L455.6 468.2 L455.6 469.6 L457.7 469.6 L457.7 471 L459.7 471 L459.7 472.5 L461.7 472.5 L461.7 473.9 L462.7 473.9 L463.8 473.9 L463.8 475.6 L465.8 475.6 L465.8 477.3 L467.8 477.3 L467.8 479 L469.9 479 L469.9 480.7 L471.9 480.7 L471.9 482.4 L472.9 482.4 L474.2 482.4 L474.2 482.8 L475.4 482.8 L476.7 482.8 L476.7 489.2 L478 489.2 L479.2 489.2 L479.2 490.8 L481.6 490.8 L481.6 492.3 L484.1 492.3 L484.1 493.9 L486.5 493.9 L486.5 495.5 L487.7 495.5 L488.8 495.5 L488.8 498.9 L489.8 498.9 L490.8 498.9 L490.8 500.5 L492.8 500.5 L492.8 502 L494.8 502 L494.8 503.6 L495.8 503.6 L496.8 503.6 L496.8 503.8 L498.8 503.8 L498.8 504 L500.8 504 L500.8 504.2 L502.8 504.2 L502.8 504.4 L503.8 504.4 L505 504.4 L505 505.7 L507.4 505.7 L507.4 507 L509.8 507 L509.8 508.2 L511 508.2 L511.9 508.2 L511.9 512.9 L513.5 512.9 L513.5 517.5 L514.4 517.5 L515.4 517.5 L515.4 517.9 L517.6 517.9 L517.6 518.2 L519.7 518.2 L519.7 518.5 L521.8 518.5 L521.8 518.8 L522.9 518.8 L523.3 518.8 L523.3 522.2 L523.7 522.2 L535.6 522.2 L535.6 526.9 L536.6 526.9 L536.6 526.9 L538.7 526.9 L538.7 527 L540.9 527 L540.9 527 L543 527 L543 527.1 L545.1 527.1 L545.1 527.2 L547.2 527.2 L547.2 527.2 L549.3 527.2 L549.3 527.3 L550.4 527.3 L550.4 534.5 L553.8 534.5 L553.8 541.2 L559.3 541.2 L559.3 547.6 L638.4 547.6" fill="none" stroke="#e4272d" stroke-width="1.25"/>
<path d="M406.9 426.1 L407.9 426.1 L407.9 427.7 L409.9 427.7 L409.9 429.3 L411.9 429.3 L411.9 430.9 L413.9 430.9 L413.9 432.4 L414.9 432.4 L416.1 432.4 L416.1 434.9 L418.5 434.9 L418.5 437.3 L420.8 437.3 L420.8 439.8 L423.2 439.8 L423.2 442.3 L425.6 442.3 L425.6 444.7 L426.8 444.7 L427.8 444.7 L427.8 447.2 L429.9 447.2 L429.9 449.6 L432 449.6 L432 452 L434.2 452 L434.2 454.5 L435.2 454.5 L436.3 454.5 L436.3 456.5 L438.6 456.5 L438.6 458.5 L440.8 458.5 L440.8 460.5 L443 460.5 L443 462.5 L444.1 462.5 L445.2 462.5 L445.2 463.6 L447.3 463.6 L447.3 464.6 L449.4 464.6 L449.4 465.7 L451.5 465.7 L451.5 466.7 L452.6 466.7 L453.6 466.7 L453.6 468.2 L455.6 468.2 L455.6 469.6 L457.7 469.6 L457.7 471 L459.7 471 L459.7 472.5 L461.7 472.5 L461.7 473.9 L462.7 473.9 L463.8 473.9 L463.8 475.6 L465.8 475.6 L465.8 477.3 L467.8 477.3 L467.8 479 L469.9 479 L469.9 480.7 L471.9 480.7 L471.9 482.4 L472.9 482.4 L474.2 482.4 L474.2 482.8 L475.4 482.8 L476.7 482.8 L476.7 489.2 L478 489.2 L479.2 489.2 L479.2 490.8 L481.6 490.8 L481.6 492.3 L484.1 492.3 L484.1 493.9 L486.5 493.9 L486.5 495.5 L487.7 495.5 L488.8 495.5 L488.8 498.9 L489.8 498.9 L490.8 498.9 L490.8 500.5" fill="none" stroke="#e4272d" stroke-width="2.1" stroke-linejoin="round"/>
<path d="M407.9 428.5h4M409.9 426.5v4M410.7 430.7h4M412.7 428.7v4M416.7 436.4h4M418.7 434.4v4M424.3 444.3h4M426.3 442.3v4M421.7 441.5h4M423.7 439.5v4M428.6 449.2h4M430.6 447.2v4M426.5 446.7h4M428.5 444.7v4M433.2 454.5h4M435.2 452.5v4M440.2 460.8h4M442.2 458.8v4M444.1 463.5h4M446.1 461.5v4M442.2 462.6h4M444.2 460.6v4M454.1 469.2h4M456.1 467.2v4M452.3 468h4M454.3 466v4M461.2 474.3h4M463.2 472.3v4M463.1 475.9h4M465.1 473.9v4M479 491.2h4M481 489.2v4M483 493.7h4M485 491.7v4M488.8 499.7h4M490.8 497.7v4M493.9 503.6h4M495.9 501.6v4M494.4 503.6h4M496.4 501.6v4M502.8 505h4M504.8 503v4M504.1 505.6h4M506.1 503.6v4M636.4 547.6h4M638.4 545.6v4M596.2 547.6h4M598.2 545.6v4" stroke="#e4272d" stroke-width="1"/>
<path d="M406.9 426.1 L407.9 426.1 L407.9 427 L409.9 427 L409.9 428 L411.9 428 L411.9 428.9 L413.9 428.9 L413.9 429.9 L414.9 429.9 L416 429.9 L416 430.7 L418.2 430.7 L418.2 431.6 L420.5 431.6 L420.5 432.4 L422.7 432.4 L422.7 433.3 L423.8 433.3 L424.9 433.3 L424.9 434.7 L427.1 434.7 L427.1 436 L429.3 436 L429.3 437.4 L431.6 437.4 L431.6 438.8 L432.7 438.8 L438.2 438.8 L439.3 438.8 L439.3 441.8 L441.7 441.8 L441.7 444.7 L442.8 444.7 L444 444.7 L444 446.6 L446.4 446.6 L446.4 448.4 L448.8 448.4 L448.8 450.2 L450 450.2 L451.3 450.2 L451.3 453.2 L453.8 453.2 L453.8 456.1 L455.1 456.1 L456.2 456.1 L456.2 458.3 L458.3 458.3 L458.3 460.6 L460.4 460.6 L460.4 462.8 L462.5 462.8 L462.5 465 L464.6 465 L464.6 467.2 L465.7 467.2 L466.8 467.2 L466.8 469.1 L469 469.1 L469 471 L471.3 471 L471.3 472.9 L473.5 472.9 L473.5 474.8 L474.6 474.8 L475.7 474.8 L475.7 475.3 L477.9 475.3 L477.9 475.9 L480.1 475.9 L480.1 476.5 L482.2 476.5 L482.2 477 L484.4 477 L484.4 477.6 L486.6 477.6 L486.6 478.2 L487.7 478.2 L488.8 478.2 L488.8 482.4 L489.8 482.4 L490.9 482.4 L490.9 482.5 L493.1 482.5 L493.1 482.6 L495.2 482.6 L495.2 482.7 L497.4 482.7 L497.4 482.8 L499.6 482.8 L499.6 482.9 L501.7 482.9 L501.7 483 L503.9 483 L503.9 483.1 L506.1 483.1 L506.1 483.1 L508.2 483.1 L508.2 483.2 L509.3 483.2 L510.6 483.2 L510.6 485.8 L511.9 485.8 L531.3 485.8 L532 485.8 L532 493.4 L532.6 493.4 L554.6 493.4 L554.6 501.9 L566.5 501.9 L566.5 521.3 L576.6 521.3 L576.6 531.5 L593.1 531.5 L593.1 546.7 L606.7 546.7" fill="none" stroke="#2d4f9e" stroke-width="1.25"/>
<path d="M406.9 426.1 L407.9 426.1 L407.9 427 L409.9 427 L409.9 428 L411.9 428 L411.9 428.9 L413.9 428.9 L413.9 429.9 L414.9 429.9 L416 429.9 L416 430.7 L418.2 430.7 L418.2 431.6 L420.5 431.6 L420.5 432.4 L422.7 432.4 L422.7 433.3 L423.8 433.3 L424.9 433.3 L424.9 434.7 L427.1 434.7 L427.1 436 L429.3 436 L429.3 437.4 L431.6 437.4 L431.6 438.8 L432.7 438.8 L438.2 438.8 L439.3 438.8 L439.3 441.8 L441.7 441.8 L441.7 444.7 L442.8 444.7 L444 444.7 L444 446.6 L446.4 446.6 L446.4 448.4 L448.8 448.4 L448.8 450.2 L450 450.2 L451.3 450.2 L451.3 453.2 L453.8 453.2 L453.8 456.1 L455.1 456.1 L456.2 456.1 L456.2 458.3 L458.3 458.3 L458.3 460.6 L460.4 460.6 L460.4 462.8 L462.5 462.8 L462.5 465 L464.6 465 L464.6 467.2 L465.7 467.2 L466.8 467.2 L466.8 469.1 L469 469.1 L469 471 L471.3 471 L471.3 472.9 L473.5 472.9 L473.5 474.8 L474.6 474.8 L475.7 474.8 L475.7 475.3 L477.9 475.3 L477.9 475.9 L480.1 475.9 L480.1 476.5 L482.2 476.5 L482.2 477 L484.4 477 L484.4 477.6 L486.6 477.6 L486.6 478.2 L487.7 478.2 L488.8 478.2 L488.8 482.4 L489.8 482.4 L490.9 482.4 L490.9 482.5" fill="none" stroke="#2d4f9e" stroke-width="2.1" stroke-linejoin="round"/>
<path d="M406.9 426.1 L407.9 426.1 L407.9 427 L409.9 427 L409.9 428 L411.9 428 L411.9 428.9 L413.9 428.9 L413.9 429.9 L414.9 429.9 L416 429.9 L416 430.7 L418.2 430.7 L418.2 431.6 L420.5 431.6 L420.5 432.4 L422.7 432.4 L422.7 433.3 L423.8 433.3 L424.9 433.3 L424.9 434.7 L427.1 434.7 L427.1 436 L429.3 436 L429.3 437.4 L431.6 437.4 L431.6 438.8 L432.7 438.8 L438.2 438.8 L439.3 438.8 L439.3 441.8 L441.7 441.8 L441.7 444.7 L442.8 444.7 L444 444.7 L444 446.6 L446.4 446.6 L446.4 448.4 L448.8 448.4 L448.8 450.2 L450 450.2 L451.3 450.2 L451.3 453.2 L453.8 453.2 L453.8 456.1 L455.1 456.1 L456.2 456.1 L456.2 458.3 L458.3 458.3 L458.3 460.6 L460.4 460.6 L460.4 462.8 L462.5 462.8 L462.5 465 L464.6 465 L464.6 467.2 L465.7 467.2 L466.8 467.2 L466.8 469.1 L469 469.1 L469 471 L471.3 471 L471.3 472.9 L473.5 472.9 L473.5 474.8 L474.6 474.8 L475.7 474.8 L475.7 475.3 L477.9 475.3 L477.9 475.9 L480.1 475.9 L480.1 476.5 L482.2 476.5 L482.2 477 L484.4 477 L484.4 477.6 L486.6 477.6 L486.6 478.2 L487.7 478.2 L488.8 478.2 L488.8 482.4 L489.8 482.4 L490.9 482.4 L490.9 482.5 L493.1 482.5 L493.1 482.6 L495.2 482.6 L495.2 482.7 L497.4 482.7 L497.4 482.8 L499.6 482.8 L499.6 482.9 L501.7 482.9 L501.7 483 L503.9 483 L503.9 483.1 L506.1 483.1 L506.1 483.1 L508.2 483.1 L508.2 483.2 L509.3 483.2 L510.6 483.2 L510.6 485.8 L511.9 485.8 L531.3 485.8 L532 485.8 L532 493.4 L532.6 493.4 L554.6 493.4 L554.6 501.9 L566.5 501.9 L566.5 521.3 L576.6 521.3 L576.6 531.5 L593.1 531.5 L593.1 546.7 L606.7 546.7" fill="none" stroke="#4f3f8f" stroke-width="1.25" clip-path="url(#rcC)"/>
<path d="M406.9 427.1h4M408.9 425.1v4M409.1 428.1h4M411.1 426.1v4M419.7 432.5h4M421.7 430.5v4M418.5 432h4M420.5 430v4M423.6 434.4h4M425.6 432.4v4M422.2 433.5h4M424.2 431.5v4M433.6 438.8h4M435.6 436.8v4M437.1 440h4M439.1 438v4M445.1 448h4M447.1 446v4M441.1 444.9h4M443.1 442.9v4M452.1 455h4M454.1 453v4M457.1 460.3h4M459.1 458.3v4M456.4 459.6h4M458.4 457.6v4M460.1 463.4h4M462.1 461.4v4M471.8 474.1h4M473.8 472.1v4M465.6 468.8h4M467.6 466.8v4M479.7 476.6h4M481.7 474.6v4M484.7 477.9h4M486.7 475.9v4M476.3 475.7h4M478.3 473.7v4M490.9 482.5h4M492.9 480.5v4M494.5 482.7h4M496.5 480.7v4M491.8 482.6h4M493.8 480.6v4M501.2 483h4M503.2 481v4M495.8 482.7h4M497.8 480.7v4M528.6 485.8h4M530.6 483.8v4M520.2 485.8h4M522.2 483.8v4M604.7 546.7h4M606.7 544.7v4M539.1 493.4h4M541.1 491.4v4M554.7 501.9h4M556.7 499.9v4M579.3 531.5h4M581.3 529.5v4" stroke="#2d4f9e" stroke-width="1"/>
<rect x="533.9" y="395.6" width="11.5" height="11.4" fill="#f6c8b0"/>
<rect x="565.8" y="395.6" width="11.5" height="11.4" fill="#c1c5e3"/>
<path d="M534.9 401.3h9.5M539.6 399.6v3.4" stroke="#e4272d" stroke-width="1.1"/>
<text x="549.2" y="404.3" font-size="7" fill="#1a1a1a" stroke="#1a1a1a" stroke-width="0.22">high</text>
<path d="M566.8 401.3h9.5M571.5 399.6v3.4" stroke="#2d4f9e" stroke-width="1.1"/>
<text x="581.1" y="404.3" font-size="7" fill="#1a1a1a" stroke="#1a1a1a" stroke-width="0.22">low</text>
<path d="M394.6 420V569H682.5" fill="none" stroke="#000" stroke-width="0.9"/>
<line x1="392.4" y1="562.5" x2="394.6" y2="562.5" stroke="#000" stroke-width="0.9"/>
<text x="391.3" y="565.5" text-anchor="end" font-size="8.6" fill="#1a1a1a" stroke="#1a1a1a" stroke-width="0.22">0.00</text>
<line x1="392.4" y1="528.4" x2="394.6" y2="528.4" stroke="#000" stroke-width="0.9"/>
<text x="391.3" y="531.4" text-anchor="end" font-size="8.6" fill="#1a1a1a" stroke="#1a1a1a" stroke-width="0.22">0.25</text>
<line x1="392.4" y1="494.3" x2="394.6" y2="494.3" stroke="#000" stroke-width="0.9"/>
<text x="391.3" y="497.3" text-anchor="end" font-size="8.6" fill="#1a1a1a" stroke="#1a1a1a" stroke-width="0.22">0.50</text>
<line x1="392.4" y1="460.2" x2="394.6" y2="460.2" stroke="#000" stroke-width="0.9"/>
<text x="391.3" y="463.2" text-anchor="end" font-size="8.6" fill="#1a1a1a" stroke="#1a1a1a" stroke-width="0.22">0.75</text>
<line x1="392.4" y1="426.1" x2="394.6" y2="426.1" stroke="#000" stroke-width="0.9"/>
<text x="391.3" y="429.1" text-anchor="end" font-size="8.6" fill="#1a1a1a" stroke="#1a1a1a" stroke-width="0.22">1.00</text>
<line x1="407.3" y1="569" x2="407.3" y2="571.2" stroke="#000" stroke-width="0.9"/>
<text x="407.3" y="579.3" text-anchor="middle" font-size="8.8" fill="#1a1a1a" stroke="#1a1a1a" stroke-width="0.22">0</text>
<line x1="420.4" y1="569" x2="420.4" y2="571.2" stroke="#000" stroke-width="0.9"/>
<text x="420.4" y="579.3" text-anchor="middle" font-size="8.8" fill="#1a1a1a" stroke="#1a1a1a" stroke-width="0.22">1</text>
<line x1="433.5" y1="569" x2="433.5" y2="571.2" stroke="#000" stroke-width="0.9"/>
<text x="433.5" y="579.3" text-anchor="middle" font-size="8.8" fill="#1a1a1a" stroke="#1a1a1a" stroke-width="0.22">2</text>
<line x1="446.6" y1="569" x2="446.6" y2="571.2" stroke="#000" stroke-width="0.9"/>
<text x="446.6" y="579.3" text-anchor="middle" font-size="8.8" fill="#1a1a1a" stroke="#1a1a1a" stroke-width="0.22">3</text>
<line x1="459.7" y1="569" x2="459.7" y2="571.2" stroke="#000" stroke-width="0.9"/>
<text x="459.7" y="579.3" text-anchor="middle" font-size="8.8" fill="#1a1a1a" stroke="#1a1a1a" stroke-width="0.22">4</text>
<line x1="472.9" y1="569" x2="472.9" y2="571.2" stroke="#000" stroke-width="0.9"/>
<text x="472.9" y="579.3" text-anchor="middle" font-size="8.8" fill="#1a1a1a" stroke="#1a1a1a" stroke-width="0.22">5</text>
<line x1="486" y1="569" x2="486" y2="571.2" stroke="#000" stroke-width="0.9"/>
<text x="486" y="579.3" text-anchor="middle" font-size="8.8" fill="#1a1a1a" stroke="#1a1a1a" stroke-width="0.22">6</text>
<line x1="499.1" y1="569" x2="499.1" y2="571.2" stroke="#000" stroke-width="0.9"/>
<text x="499.1" y="579.3" text-anchor="middle" font-size="8.8" fill="#1a1a1a" stroke="#1a1a1a" stroke-width="0.22">7</text>
<line x1="512.2" y1="569" x2="512.2" y2="571.2" stroke="#000" stroke-width="0.9"/>
<text x="512.2" y="579.3" text-anchor="middle" font-size="8.8" fill="#1a1a1a" stroke="#1a1a1a" stroke-width="0.22">8</text>
<line x1="525.3" y1="569" x2="525.3" y2="571.2" stroke="#000" stroke-width="0.9"/>
<text x="525.3" y="579.3" text-anchor="middle" font-size="8.8" fill="#1a1a1a" stroke="#1a1a1a" stroke-width="0.22">9</text>
<line x1="538.4" y1="569" x2="538.4" y2="571.2" stroke="#000" stroke-width="0.9"/>
<text x="538.4" y="579.3" text-anchor="middle" font-size="8.8" fill="#1a1a1a" stroke="#1a1a1a" stroke-width="0.22">10</text>
<line x1="551.5" y1="569" x2="551.5" y2="571.2" stroke="#000" stroke-width="0.9"/>
<text x="551.5" y="579.3" text-anchor="middle" font-size="8.8" fill="#1a1a1a" stroke="#1a1a1a" stroke-width="0.22">11</text>
<line x1="564.6" y1="569" x2="564.6" y2="571.2" stroke="#000" stroke-width="0.9"/>
<text x="564.6" y="579.3" text-anchor="middle" font-size="8.8" fill="#1a1a1a" stroke="#1a1a1a" stroke-width="0.22">12</text>
<line x1="577.7" y1="569" x2="577.7" y2="571.2" stroke="#000" stroke-width="0.9"/>
<text x="577.7" y="579.3" text-anchor="middle" font-size="8.8" fill="#1a1a1a" stroke="#1a1a1a" stroke-width="0.22">13</text>
<line x1="590.8" y1="569" x2="590.8" y2="571.2" stroke="#000" stroke-width="0.9"/>
<text x="590.8" y="579.3" text-anchor="middle" font-size="8.8" fill="#1a1a1a" stroke="#1a1a1a" stroke-width="0.22">14</text>
<line x1="604" y1="569" x2="604" y2="571.2" stroke="#000" stroke-width="0.9"/>
<text x="604" y="579.3" text-anchor="middle" font-size="8.8" fill="#1a1a1a" stroke="#1a1a1a" stroke-width="0.22">15</text>
<line x1="617.1" y1="569" x2="617.1" y2="571.2" stroke="#000" stroke-width="0.9"/>
<text x="617.1" y="579.3" text-anchor="middle" font-size="8.8" fill="#1a1a1a" stroke="#1a1a1a" stroke-width="0.22">16</text>
<line x1="630.2" y1="569" x2="630.2" y2="571.2" stroke="#000" stroke-width="0.9"/>
<text x="630.2" y="579.3" text-anchor="middle" font-size="8.8" fill="#1a1a1a" stroke="#1a1a1a" stroke-width="0.22">17</text>
<line x1="643.3" y1="569" x2="643.3" y2="571.2" stroke="#000" stroke-width="0.9"/>
<text x="643.3" y="579.3" text-anchor="middle" font-size="8.8" fill="#1a1a1a" stroke="#1a1a1a" stroke-width="0.22">18</text>
<line x1="656.4" y1="569" x2="656.4" y2="571.2" stroke="#000" stroke-width="0.9"/>
<text x="656.4" y="579.3" text-anchor="middle" font-size="8.8" fill="#1a1a1a" stroke="#1a1a1a" stroke-width="0.22">19</text>
<line x1="669.5" y1="569" x2="669.5" y2="571.2" stroke="#000" stroke-width="0.9"/>
<text x="669.5" y="579.3" text-anchor="middle" font-size="8.8" fill="#1a1a1a" stroke="#1a1a1a" stroke-width="0.22">20</text>
<text x="538.4" y="590.5" text-anchor="middle" font-size="9.6" fill="#000" stroke="#000" stroke-width="0.22">Time(years)</text>
<text transform="translate(370.7 494.3) rotate(-90)" text-anchor="middle" font-size="9.7" fill="#000" stroke="#000" stroke-width="0.22">Survival probability</text>
<text x="412" y="539.5" font-size="12" fill="#000" stroke="#000" stroke-width="0.22">p=0.001</text>
<path d="M394.6 616V638.6H682.5" fill="none" stroke="#000" stroke-width="0.9"/>
<line x1="392.4" y1="621.4" x2="394.6" y2="621.4" stroke="#000" stroke-width="0.9"/>
<text x="391.3" y="624" text-anchor="end" font-size="8.2" fill="#e4272d" stroke="#e4272d" stroke-width="0.22">high</text>
<line x1="392.4" y1="632" x2="394.6" y2="632" stroke="#000" stroke-width="0.9"/>
<text x="391.3" y="634.6" text-anchor="end" font-size="8.2" fill="#2d4f9e" stroke="#2d4f9e" stroke-width="0.22">low</text>
<text x="407.3" y="624.6" text-anchor="middle" font-size="9" fill="#1a1a1a" stroke="#1a1a1a" stroke-width="0.22">254</text>
<text x="420.4" y="624.6" text-anchor="middle" font-size="9" fill="#1a1a1a" stroke="#1a1a1a" stroke-width="0.22">193</text>
<text x="433.5" y="624.6" text-anchor="middle" font-size="9" fill="#1a1a1a" stroke="#1a1a1a" stroke-width="0.22">118</text>
<text x="446.6" y="624.6" text-anchor="middle" font-size="9" fill="#1a1a1a" stroke="#1a1a1a" stroke-width="0.22">79</text>
<text x="459.7" y="624.6" text-anchor="middle" font-size="9" fill="#1a1a1a" stroke="#1a1a1a" stroke-width="0.22">47</text>
<text x="472.9" y="624.6" text-anchor="middle" font-size="9" fill="#1a1a1a" stroke="#1a1a1a" stroke-width="0.22">37</text>
<text x="486" y="624.6" text-anchor="middle" font-size="9" fill="#1a1a1a" stroke="#1a1a1a" stroke-width="0.22">28</text>
<text x="499.1" y="624.6" text-anchor="middle" font-size="9" fill="#1a1a1a" stroke="#1a1a1a" stroke-width="0.22">21</text>
<text x="512.2" y="624.6" text-anchor="middle" font-size="9" fill="#1a1a1a" stroke="#1a1a1a" stroke-width="0.22">13</text>
<text x="525.3" y="624.6" text-anchor="middle" font-size="9" fill="#1a1a1a" stroke="#1a1a1a" stroke-width="0.22">8</text>
<text x="538.4" y="624.6" text-anchor="middle" font-size="9" fill="#1a1a1a" stroke="#1a1a1a" stroke-width="0.22">6</text>
<text x="551.5" y="624.6" text-anchor="middle" font-size="9" fill="#1a1a1a" stroke="#1a1a1a" stroke-width="0.22">4</text>
<text x="564.6" y="624.6" text-anchor="middle" font-size="9" fill="#1a1a1a" stroke="#1a1a1a" stroke-width="0.22">2</text>
<text x="577.7" y="624.6" text-anchor="middle" font-size="9" fill="#1a1a1a" stroke="#1a1a1a" stroke-width="0.22">2</text>
<text x="590.8" y="624.6" text-anchor="middle" font-size="9" fill="#1a1a1a" stroke="#1a1a1a" stroke-width="0.22">2</text>
<text x="604" y="624.6" text-anchor="middle" font-size="9" fill="#1a1a1a" stroke="#1a1a1a" stroke-width="0.22">1</text>
<text x="617.1" y="624.6" text-anchor="middle" font-size="9" fill="#1a1a1a" stroke="#1a1a1a" stroke-width="0.22">1</text>
<text x="630.2" y="624.6" text-anchor="middle" font-size="9" fill="#1a1a1a" stroke="#1a1a1a" stroke-width="0.22">1</text>
<text x="643.3" y="624.6" text-anchor="middle" font-size="9" fill="#1a1a1a" stroke="#1a1a1a" stroke-width="0.22">0</text>
<text x="656.4" y="624.6" text-anchor="middle" font-size="9" fill="#1a1a1a" stroke="#1a1a1a" stroke-width="0.22">0</text>
<text x="669.5" y="624.6" text-anchor="middle" font-size="9" fill="#1a1a1a" stroke="#1a1a1a" stroke-width="0.22">0</text>
<text x="407.3" y="635.2" text-anchor="middle" font-size="9" fill="#1a1a1a" stroke="#1a1a1a" stroke-width="0.22">254</text>
<text x="420.4" y="635.2" text-anchor="middle" font-size="9" fill="#1a1a1a" stroke="#1a1a1a" stroke-width="0.22">197</text>
<text x="433.5" y="635.2" text-anchor="middle" font-size="9" fill="#1a1a1a" stroke="#1a1a1a" stroke-width="0.22">120</text>
<text x="446.6" y="635.2" text-anchor="middle" font-size="9" fill="#1a1a1a" stroke="#1a1a1a" stroke-width="0.22">76</text>
<text x="459.7" y="635.2" text-anchor="middle" font-size="9" fill="#1a1a1a" stroke="#1a1a1a" stroke-width="0.22">41</text>
<text x="472.9" y="635.2" text-anchor="middle" font-size="9" fill="#1a1a1a" stroke="#1a1a1a" stroke-width="0.22">27</text>
<text x="486" y="635.2" text-anchor="middle" font-size="9" fill="#1a1a1a" stroke="#1a1a1a" stroke-width="0.22">23</text>
<text x="499.1" y="635.2" text-anchor="middle" font-size="9" fill="#1a1a1a" stroke="#1a1a1a" stroke-width="0.22">19</text>
<text x="512.2" y="635.2" text-anchor="middle" font-size="9" fill="#1a1a1a" stroke="#1a1a1a" stroke-width="0.22">11</text>
<text x="525.3" y="635.2" text-anchor="middle" font-size="9" fill="#1a1a1a" stroke="#1a1a1a" stroke-width="0.22">11</text>
<text x="538.4" y="635.2" text-anchor="middle" font-size="9" fill="#1a1a1a" stroke="#1a1a1a" stroke-width="0.22">10</text>
<text x="551.5" y="635.2" text-anchor="middle" font-size="9" fill="#1a1a1a" stroke="#1a1a1a" stroke-width="0.22">8</text>
<text x="564.6" y="635.2" text-anchor="middle" font-size="9" fill="#1a1a1a" stroke="#1a1a1a" stroke-width="0.22">6</text>
<text x="577.7" y="635.2" text-anchor="middle" font-size="9" fill="#1a1a1a" stroke="#1a1a1a" stroke-width="0.22">3</text>
<text x="590.8" y="635.2" text-anchor="middle" font-size="9" fill="#1a1a1a" stroke="#1a1a1a" stroke-width="0.22">2</text>
<text x="604" y="635.2" text-anchor="middle" font-size="9" fill="#1a1a1a" stroke="#1a1a1a" stroke-width="0.22">1</text>
<text x="617.1" y="635.2" text-anchor="middle" font-size="9" fill="#1a1a1a" stroke="#1a1a1a" stroke-width="0.22">0</text>
<text x="630.2" y="635.2" text-anchor="middle" font-size="9" fill="#1a1a1a" stroke="#1a1a1a" stroke-width="0.22">0</text>
<text x="643.3" y="635.2" text-anchor="middle" font-size="9" fill="#1a1a1a" stroke="#1a1a1a" stroke-width="0.22">0</text>
<text x="656.4" y="635.2" text-anchor="middle" font-size="9" fill="#1a1a1a" stroke="#1a1a1a" stroke-width="0.22">0</text>
<text x="669.5" y="635.2" text-anchor="middle" font-size="9" fill="#1a1a1a" stroke="#1a1a1a" stroke-width="0.22">0</text>
<line x1="407.3" y1="638.6" x2="407.3" y2="640.8" stroke="#000" stroke-width="0.9"/>
<text x="407.3" y="648.6" text-anchor="middle" font-size="8.8" fill="#1a1a1a" stroke="#1a1a1a" stroke-width="0.22">0</text>
<line x1="420.4" y1="638.6" x2="420.4" y2="640.8" stroke="#000" stroke-width="0.9"/>
<text x="420.4" y="648.6" text-anchor="middle" font-size="8.8" fill="#1a1a1a" stroke="#1a1a1a" stroke-width="0.22">1</text>
<line x1="433.5" y1="638.6" x2="433.5" y2="640.8" stroke="#000" stroke-width="0.9"/>
<text x="433.5" y="648.6" text-anchor="middle" font-size="8.8" fill="#1a1a1a" stroke="#1a1a1a" stroke-width="0.22">2</text>
<line x1="446.6" y1="638.6" x2="446.6" y2="640.8" stroke="#000" stroke-width="0.9"/>
<text x="446.6" y="648.6" text-anchor="middle" font-size="8.8" fill="#1a1a1a" stroke="#1a1a1a" stroke-width="0.22">3</text>
<line x1="459.7" y1="638.6" x2="459.7" y2="640.8" stroke="#000" stroke-width="0.9"/>
<text x="459.7" y="648.6" text-anchor="middle" font-size="8.8" fill="#1a1a1a" stroke="#1a1a1a" stroke-width="0.22">4</text>
<line x1="472.9" y1="638.6" x2="472.9" y2="640.8" stroke="#000" stroke-width="0.9"/>
<text x="472.9" y="648.6" text-anchor="middle" font-size="8.8" fill="#1a1a1a" stroke="#1a1a1a" stroke-width="0.22">5</text>
<line x1="486" y1="638.6" x2="486" y2="640.8" stroke="#000" stroke-width="0.9"/>
<text x="486" y="648.6" text-anchor="middle" font-size="8.8" fill="#1a1a1a" stroke="#1a1a1a" stroke-width="0.22">6</text>
<line x1="499.1" y1="638.6" x2="499.1" y2="640.8" stroke="#000" stroke-width="0.9"/>
<text x="499.1" y="648.6" text-anchor="middle" font-size="8.8" fill="#1a1a1a" stroke="#1a1a1a" stroke-width="0.22">7</text>
<line x1="512.2" y1="638.6" x2="512.2" y2="640.8" stroke="#000" stroke-width="0.9"/>
<text x="512.2" y="648.6" text-anchor="middle" font-size="8.8" fill="#1a1a1a" stroke="#1a1a1a" stroke-width="0.22">8</text>
<line x1="525.3" y1="638.6" x2="525.3" y2="640.8" stroke="#000" stroke-width="0.9"/>
<text x="525.3" y="648.6" text-anchor="middle" font-size="8.8" fill="#1a1a1a" stroke="#1a1a1a" stroke-width="0.22">9</text>
<line x1="538.4" y1="638.6" x2="538.4" y2="640.8" stroke="#000" stroke-width="0.9"/>
<text x="538.4" y="648.6" text-anchor="middle" font-size="8.8" fill="#1a1a1a" stroke="#1a1a1a" stroke-width="0.22">10</text>
<line x1="551.5" y1="638.6" x2="551.5" y2="640.8" stroke="#000" stroke-width="0.9"/>
<text x="551.5" y="648.6" text-anchor="middle" font-size="8.8" fill="#1a1a1a" stroke="#1a1a1a" stroke-width="0.22">11</text>
<line x1="564.6" y1="638.6" x2="564.6" y2="640.8" stroke="#000" stroke-width="0.9"/>
<text x="564.6" y="648.6" text-anchor="middle" font-size="8.8" fill="#1a1a1a" stroke="#1a1a1a" stroke-width="0.22">12</text>
<line x1="577.7" y1="638.6" x2="577.7" y2="640.8" stroke="#000" stroke-width="0.9"/>
<text x="577.7" y="648.6" text-anchor="middle" font-size="8.8" fill="#1a1a1a" stroke="#1a1a1a" stroke-width="0.22">13</text>
<line x1="590.8" y1="638.6" x2="590.8" y2="640.8" stroke="#000" stroke-width="0.9"/>
<text x="590.8" y="648.6" text-anchor="middle" font-size="8.8" fill="#1a1a1a" stroke="#1a1a1a" stroke-width="0.22">14</text>
<line x1="604" y1="638.6" x2="604" y2="640.8" stroke="#000" stroke-width="0.9"/>
<text x="604" y="648.6" text-anchor="middle" font-size="8.8" fill="#1a1a1a" stroke="#1a1a1a" stroke-width="0.22">15</text>
<line x1="617.1" y1="638.6" x2="617.1" y2="640.8" stroke="#000" stroke-width="0.9"/>
<text x="617.1" y="648.6" text-anchor="middle" font-size="8.8" fill="#1a1a1a" stroke="#1a1a1a" stroke-width="0.22">16</text>
<line x1="630.2" y1="638.6" x2="630.2" y2="640.8" stroke="#000" stroke-width="0.9"/>
<text x="630.2" y="648.6" text-anchor="middle" font-size="8.8" fill="#1a1a1a" stroke="#1a1a1a" stroke-width="0.22">17</text>
<line x1="643.3" y1="638.6" x2="643.3" y2="640.8" stroke="#000" stroke-width="0.9"/>
<text x="643.3" y="648.6" text-anchor="middle" font-size="8.8" fill="#1a1a1a" stroke="#1a1a1a" stroke-width="0.22">18</text>
<line x1="656.4" y1="638.6" x2="656.4" y2="640.8" stroke="#000" stroke-width="0.9"/>
<text x="656.4" y="648.6" text-anchor="middle" font-size="8.8" fill="#1a1a1a" stroke="#1a1a1a" stroke-width="0.22">19</text>
<line x1="669.5" y1="638.6" x2="669.5" y2="640.8" stroke="#000" stroke-width="0.9"/>
<text x="669.5" y="648.6" text-anchor="middle" font-size="8.8" fill="#1a1a1a" stroke="#1a1a1a" stroke-width="0.22">20</text>
<text x="538.4" y="659.6" text-anchor="middle" font-size="9.6" fill="#000" stroke="#000" stroke-width="0.22">Time(years)</text>
<text transform="translate(370.9 626.5) rotate(-90)" text-anchor="middle" font-size="9.7" fill="#000" stroke="#000" stroke-width="0.22">StromalScore</text>
<text transform="translate(151.5 701) scale(0.97 1)" style='font-family:"Liberation Serif", serif' font-size="28.5" fill="#000">D</text>
<text id="legD" x="307.7" y="693" font-size="7" fill="#1a1a1a" stroke="#1a1a1a" stroke-width="0.22">ESTIMATEScore</text>
<clipPath id="bcD"><path d="M233.4 715.3 L234.9 715.3 L234.9 715.8 L237.8 715.8 L237.8 716.2 L240.7 716.2 L240.7 716.6 L242.2 716.6 L243.8 716.6 L243.8 718.2 L247 718.2 L247 719.9 L250.2 719.9 L250.2 721.5 L251.8 721.5 L253.5 721.5 L253.5 723.4 L256.8 723.4 L256.8 725.3 L260.2 725.3 L260.2 727.2 L261.9 727.2 L263.5 727.2 L263.5 729.1 L266.9 729.1 L266.9 730.9 L270.3 730.9 L270.3 732.8 L271.9 732.8 L273.6 732.8 L273.6 734.9 L277 734.9 L277 736.9 L280.3 736.9 L280.3 739 L282 739 L283.7 739 L283.7 741.3 L287 741.3 L287 743.7 L290.4 743.7 L290.4 746 L292.1 746 L293.8 746 L293.8 747.4 L297.1 747.4 L297.1 748.9 L300.5 748.9 L300.5 750.4 L302.2 750.4 L303.8 750.4 L303.8 750.7 L307 750.7 L307 750.9 L310.2 750.9 L310.2 751.2 L311.8 751.2 L316.2 751.2 L316.2 753.9 L319.2 753.9 L319.2 756.5 L335.9 756.5 L335.9 759.6 L338.9 759.6 L338.9 762.2 L380.1 762.2 L380.1 770.1 L393.3 770.1 L393.3 774.5 L402.4 774.5 L402.4 780.1 L419.5 780.1 L419.5 783.2 L433.5 783.2 L433.5 841.9 L433.5 841.9 L419.5 841.9 L417.8 841.9 L417.8 840.3 L414.4 840.3 L414.4 838.7 L411 838.7 L411 837.2 L407.6 837.2 L407.6 835.6 L404.2 835.6 L404.2 834 L402.4 834 L400.9 834 L400.9 831.4 L397.8 831.4 L397.8 828.8 L394.8 828.8 L394.8 826.1 L393.3 826.1 L391.6 826.1 L391.6 823.9 L388.3 823.9 L388.3 821.8 L385 821.8 L385 819.6 L381.8 819.6 L381.8 817.4 L380.1 817.4 L379.9 817.4 L379.9 800.3 L379.7 800.3 L339.8 800.3 L337.6 800.3 L337.6 794.6 L335.4 794.6 L333.7 794.6 L333.7 792.2 L330.2 792.2 L330.2 789.8 L328.4 789.8 L326.4 789.8 L326.4 788 L322.2 788 L322.2 786.3 L320.1 786.3 L318 786.3 L318 783.9 L313.9 783.9 L313.9 781.5 L311.8 781.5 L310.2 781.5 L310.2 780.1 L307 780.1 L307 778.8 L303.8 778.8 L303.8 777.5 L302.2 777.5 L299.7 777.5 L299.7 772.7 L297.3 772.7 L295.6 772.7 L295.6 769.9 L292.1 769.9 L292.1 767 L290.3 767 L288.2 767 L288.2 761.8 L284.1 761.8 L284.1 756.5 L282 756.5 L280.5 756.5 L280.5 754.5 L277.4 754.5 L277.4 752.4 L274.3 752.4 L274.3 750.4 L272.8 750.4 L271.1 750.4 L271.1 746.6 L267.6 746.6 L267.6 742.8 L264.1 742.8 L264.1 739 L262.3 739 L260.4 739 L260.4 736 L256.7 736 L256.7 733.1 L253 733.1 L253 730.1 L249.3 730.1 L249.3 727.2 L247.4 727.2 L245.7 727.2 L245.7 724.2 L242.2 724.2 L242.2 721.2 L238.6 721.2 L238.6 718.3 L235.1 718.3 L235.1 715.3 L233.4 715.3Z"/></clipPath>
<path d="M233.4 715.3 L235.1 715.3 L235.1 717.1 L238.4 717.1 L238.4 718.8 L241.7 718.8 L241.7 720.6 L245 720.6 L245 722.3 L248.4 722.3 L248.4 724.1 L250 724.1 L251.9 724.1 L251.9 727.9 L255.5 727.9 L255.5 731.7 L259.2 731.7 L259.2 735.5 L261 735.5 L262.6 735.5 L262.6 736.9 L265.8 736.9 L265.8 738.4 L269 738.4 L269 739.9 L270.6 739.9 L272.6 739.9 L272.6 743.4 L276.5 743.4 L276.5 746.9 L278.5 746.9 L280.1 746.9 L280.1 748.9 L283.3 748.9 L283.3 750.9 L286.5 750.9 L286.5 753 L288.1 753 L290.3 753 L290.3 756.5 L292.5 756.5 L302.2 756.5 L303.8 756.5 L303.8 758.8 L307 758.8 L307 761.2 L310.2 761.2 L310.2 763.5 L311.8 763.5 L313.5 763.5 L313.5 765.8 L316.8 765.8 L316.8 768.1 L320.1 768.1 L320.1 770.3 L323.4 770.3 L323.4 772.6 L326.8 772.6 L326.8 774.9 L328.4 774.9 L330.2 774.9 L330.2 777.2 L333.7 777.2 L333.7 779.6 L337.2 779.6 L337.2 781.9 L338.9 781.9 L348.6 781.9 L348.6 786.3 L358.7 786.3 L358.7 792 L379.7 792 L379.7 802 L464.6 802 L464.6 848.9 L464.6 848.9 L392.4 848.9 L390.7 848.9 L390.7 846.9 L387.4 846.9 L387.4 845 L385.8 845 L384.2 845 L384.2 843.1 L381 843.1 L381 841.2 L377.8 841.2 L377.8 839.3 L376.2 839.3 L374.4 839.3 L374.4 837.4 L370.9 837.4 L370.9 835.5 L367.4 835.5 L367.4 833.7 L363.9 833.7 L363.9 831.8 L362.2 831.8 L361.1 831.8 L361.1 823.9 L360 823.9 L358.3 823.9 L358.3 822.5 L354.9 822.5 L354.9 821 L351.6 821 L351.6 819.6 L348.2 819.6 L348.2 818.1 L344.9 818.1 L344.9 816.6 L341.5 816.6 L341.5 815.2 L339.8 815.2 L338.1 815.2 L338.1 812.1 L336.3 812.1 L334.6 812.1 L334.6 809.7 L331.1 809.7 L331.1 807.3 L329.3 807.3 L327.3 807.3 L327.3 804.9 L323.4 804.9 L323.4 802.5 L321.4 802.5 L319.8 802.5 L319.8 799.9 L316.6 799.9 L316.6 797.2 L313.4 797.2 L313.4 794.6 L311.8 794.6 L310.2 794.6 L310.2 791.4 L307 791.4 L307 788.2 L303.8 788.2 L303.8 785 L302.2 785 L300.5 785 L300.5 782.5 L297.1 782.5 L297.1 780 L293.8 780 L293.8 777.5 L292.1 777.5 L290.4 777.5 L290.4 774.5 L287 774.5 L287 771.4 L283.7 771.4 L283.7 768.3 L282 768.3 L280.3 768.3 L280.3 765.3 L277 765.3 L277 762.2 L273.6 762.2 L273.6 759.1 L271.9 759.1 L270.3 759.1 L270.3 755.2 L266.9 755.2 L266.9 751.2 L263.5 751.2 L263.5 747.3 L261.9 747.3 L260.2 747.3 L260.2 743.8 L256.8 743.8 L256.8 740.3 L253.5 740.3 L253.5 736.8 L251.8 736.8 L250.2 736.8 L250.2 732.8 L247 732.8 L247 728.9 L243.8 728.9 L243.8 725 L242.2 725 L240.7 725 L240.7 721.8 L237.8 721.8 L237.8 718.5 L234.9 718.5 L234.9 715.3 L233.4 715.3Z" fill="#f6c8b0"/>
<path d="M233.4 715.3 L234.9 715.3 L234.9 715.8 L237.8 715.8 L237.8 716.2 L240.7 716.2 L240.7 716.6 L242.2 716.6 L243.8 716.6 L243.8 718.2 L247 718.2 L247 719.9 L250.2 719.9 L250.2 721.5 L251.8 721.5 L253.5 721.5 L253.5 723.4 L256.8 723.4 L256.8 725.3 L260.2 725.3 L260.2 727.2 L261.9 727.2 L263.5 727.2 L263.5 729.1 L266.9 729.1 L266.9 730.9 L270.3 730.9 L270.3 732.8 L271.9 732.8 L273.6 732.8 L273.6 734.9 L277 734.9 L277 736.9 L280.3 736.9 L280.3 739 L282 739 L283.7 739 L283.7 741.3 L287 741.3 L287 743.7 L290.4 743.7 L290.4 746 L292.1 746 L293.8 746 L293.8 747.4 L297.1 747.4 L297.1 748.9 L300.5 748.9 L300.5 750.4 L302.2 750.4 L303.8 750.4 L303.8 750.7 L307 750.7 L307 750.9 L310.2 750.9 L310.2 751.2 L311.8 751.2 L316.2 751.2 L316.2 753.9 L319.2 753.9 L319.2 756.5 L335.9 756.5 L335.9 759.6 L338.9 759.6 L338.9 762.2 L380.1 762.2 L380.1 770.1 L393.3 770.1 L393.3 774.5 L402.4 774.5 L402.4 780.1 L419.5 780.1 L419.5 783.2 L433.5 783.2 L433.5 841.9 L433.5 841.9 L419.5 841.9 L417.8 841.9 L417.8 840.3 L414.4 840.3 L414.4 838.7 L411 838.7 L411 837.2 L407.6 837.2 L407.6 835.6 L404.2 835.6 L404.2 834 L402.4 834 L400.9 834 L400.9 831.4 L397.8 831.4 L397.8 828.8 L394.8 828.8 L394.8 826.1 L393.3 826.1 L391.6 826.1 L391.6 823.9 L388.3 823.9 L388.3 821.8 L385 821.8 L385 819.6 L381.8 819.6 L381.8 817.4 L380.1 817.4 L379.9 817.4 L379.9 800.3 L379.7 800.3 L339.8 800.3 L337.6 800.3 L337.6 794.6 L335.4 794.6 L333.7 794.6 L333.7 792.2 L330.2 792.2 L330.2 789.8 L328.4 789.8 L326.4 789.8 L326.4 788 L322.2 788 L322.2 786.3 L320.1 786.3 L318 786.3 L318 783.9 L313.9 783.9 L313.9 781.5 L311.8 781.5 L310.2 781.5 L310.2 780.1 L307 780.1 L307 778.8 L303.8 778.8 L303.8 777.5 L302.2 777.5 L299.7 777.5 L299.7 772.7 L297.3 772.7 L295.6 772.7 L295.6 769.9 L292.1 769.9 L292.1 767 L290.3 767 L288.2 767 L288.2 761.8 L284.1 761.8 L284.1 756.5 L282 756.5 L280.5 756.5 L280.5 754.5 L277.4 754.5 L277.4 752.4 L274.3 752.4 L274.3 750.4 L272.8 750.4 L271.1 750.4 L271.1 746.6 L267.6 746.6 L267.6 742.8 L264.1 742.8 L264.1 739 L262.3 739 L260.4 739 L260.4 736 L256.7 736 L256.7 733.1 L253 733.1 L253 730.1 L249.3 730.1 L249.3 727.2 L247.4 727.2 L245.7 727.2 L245.7 724.2 L242.2 724.2 L242.2 721.2 L238.6 721.2 L238.6 718.3 L235.1 718.3 L235.1 715.3 L233.4 715.3Z" fill="#c1c5e3"/>
<path d="M233.4 715.3 L235.1 715.3 L235.1 717.1 L238.4 717.1 L238.4 718.8 L241.7 718.8 L241.7 720.6 L245 720.6 L245 722.3 L248.4 722.3 L248.4 724.1 L250 724.1 L251.9 724.1 L251.9 727.9 L255.5 727.9 L255.5 731.7 L259.2 731.7 L259.2 735.5 L261 735.5 L262.6 735.5 L262.6 736.9 L265.8 736.9 L265.8 738.4 L269 738.4 L269 739.9 L270.6 739.9 L272.6 739.9 L272.6 743.4 L276.5 743.4 L276.5 746.9 L278.5 746.9 L280.1 746.9 L280.1 748.9 L283.3 748.9 L283.3 750.9 L286.5 750.9 L286.5 753 L288.1 753 L290.3 753 L290.3 756.5 L292.5 756.5 L302.2 756.5 L303.8 756.5 L303.8 758.8 L307 758.8 L307 761.2 L310.2 761.2 L310.2 763.5 L311.8 763.5 L313.5 763.5 L313.5 765.8 L316.8 765.8 L316.8 768.1 L320.1 768.1 L320.1 770.3 L323.4 770.3 L323.4 772.6 L326.8 772.6 L326.8 774.9 L328.4 774.9 L330.2 774.9 L330.2 777.2 L333.7 777.2 L333.7 779.6 L337.2 779.6 L337.2 781.9 L338.9 781.9 L348.6 781.9 L348.6 786.3 L358.7 786.3 L358.7 792 L379.7 792 L379.7 802 L464.6 802 L464.6 848.9 L464.6 848.9 L392.4 848.9 L390.7 848.9 L390.7 846.9 L387.4 846.9 L387.4 845 L385.8 845 L384.2 845 L384.2 843.1 L381 843.1 L381 841.2 L377.8 841.2 L377.8 839.3 L376.2 839.3 L374.4 839.3 L374.4 837.4 L370.9 837.4 L370.9 835.5 L367.4 835.5 L367.4 833.7 L363.9 833.7 L363.9 831.8 L362.2 831.8 L361.1 831.8 L361.1 823.9 L360 823.9 L358.3 823.9 L358.3 822.5 L354.9 822.5 L354.9 821 L351.6 821 L351.6 819.6 L348.2 819.6 L348.2 818.1 L344.9 818.1 L344.9 816.6 L341.5 816.6 L341.5 815.2 L339.8 815.2 L338.1 815.2 L338.1 812.1 L336.3 812.1 L334.6 812.1 L334.6 809.7 L331.1 809.7 L331.1 807.3 L329.3 807.3 L327.3 807.3 L327.3 804.9 L323.4 804.9 L323.4 802.5 L321.4 802.5 L319.8 802.5 L319.8 799.9 L316.6 799.9 L316.6 797.2 L313.4 797.2 L313.4 794.6 L311.8 794.6 L310.2 794.6 L310.2 791.4 L307 791.4 L307 788.2 L303.8 788.2 L303.8 785 L302.2 785 L300.5 785 L300.5 782.5 L297.1 782.5 L297.1 780 L293.8 780 L293.8 777.5 L292.1 777.5 L290.4 777.5 L290.4 774.5 L287 774.5 L287 771.4 L283.7 771.4 L283.7 768.3 L282 768.3 L280.3 768.3 L280.3 765.3 L277 765.3 L277 762.2 L273.6 762.2 L273.6 759.1 L271.9 759.1 L270.3 759.1 L270.3 755.2 L266.9 755.2 L266.9 751.2 L263.5 751.2 L263.5 747.3 L261.9 747.3 L260.2 747.3 L260.2 743.8 L256.8 743.8 L256.8 740.3 L253.5 740.3 L253.5 736.8 L251.8 736.8 L250.2 736.8 L250.2 732.8 L247 732.8 L247 728.9 L243.8 728.9 L243.8 725 L242.2 725 L240.7 725 L240.7 721.8 L237.8 721.8 L237.8 718.5 L234.9 718.5 L234.9 715.3 L233.4 715.3Z" fill="#c09cb4" clip-path="url(#bcD)"/>
<clipPath id="rcD"><path d="M233.4 715.3 L235.1 715.3 L235.1 717.1 L238.4 717.1 L238.4 718.8 L241.7 718.8 L241.7 720.6 L245 720.6 L245 722.3 L248.4 722.3 L248.4 724.1 L250 724.1 L251.9 724.1 L251.9 727.9 L255.5 727.9 L255.5 731.7 L259.2 731.7 L259.2 735.5 L261 735.5 L262.6 735.5 L262.6 736.9 L265.8 736.9 L265.8 738.4 L269 738.4 L269 739.9 L270.6 739.9 L272.6 739.9 L272.6 743.4 L276.5 743.4 L276.5 746.9 L278.5 746.9 L280.1 746.9 L280.1 748.9 L283.3 748.9 L283.3 750.9 L286.5 750.9 L286.5 753 L288.1 753 L290.3 753 L290.3 756.5 L292.5 756.5 L302.2 756.5 L303.8 756.5 L303.8 758.8 L307 758.8 L307 761.2 L310.2 761.2 L310.2 763.5 L311.8 763.5 L313.5 763.5 L313.5 765.8 L316.8 765.8 L316.8 768.1 L320.1 768.1 L320.1 770.3 L323.4 770.3 L323.4 772.6 L326.8 772.6 L326.8 774.9 L328.4 774.9 L330.2 774.9 L330.2 777.2 L333.7 777.2 L333.7 779.6 L337.2 779.6 L337.2 781.9 L338.9 781.9 L348.6 781.9 L348.6 786.3 L358.7 786.3 L358.7 792 L379.7 792 L379.7 802 L464.6 802 L464.6 848.9 L464.6 848.9 L392.4 848.9 L390.7 848.9 L390.7 846.9 L387.4 846.9 L387.4 845 L385.8 845 L384.2 845 L384.2 843.1 L381 843.1 L381 841.2 L377.8 841.2 L377.8 839.3 L376.2 839.3 L374.4 839.3 L374.4 837.4 L370.9 837.4 L370.9 835.5 L367.4 835.5 L367.4 833.7 L363.9 833.7 L363.9 831.8 L362.2 831.8 L361.1 831.8 L361.1 823.9 L360 823.9 L358.3 823.9 L358.3 822.5 L354.9 822.5 L354.9 821 L351.6 821 L351.6 819.6 L348.2 819.6 L348.2 818.1 L344.9 818.1 L344.9 816.6 L341.5 816.6 L341.5 815.2 L339.8 815.2 L338.1 815.2 L338.1 812.1 L336.3 812.1 L334.6 812.1 L334.6 809.7 L331.1 809.7 L331.1 807.3 L329.3 807.3 L327.3 807.3 L327.3 804.9 L323.4 804.9 L323.4 802.5 L321.4 802.5 L319.8 802.5 L319.8 799.9 L316.6 799.9 L316.6 797.2 L313.4 797.2 L313.4 794.6 L311.8 794.6 L310.2 794.6 L310.2 791.4 L307 791.4 L307 788.2 L303.8 788.2 L303.8 785 L302.2 785 L300.5 785 L300.5 782.5 L297.1 782.5 L297.1 780 L293.8 780 L293.8 777.5 L292.1 777.5 L290.4 777.5 L290.4 774.5 L287 774.5 L287 771.4 L283.7 771.4 L283.7 768.3 L282 768.3 L280.3 768.3 L280.3 765.3 L277 765.3 L277 762.2 L273.6 762.2 L273.6 759.1 L271.9 759.1 L270.3 759.1 L270.3 755.2 L266.9 755.2 L266.9 751.2 L263.5 751.2 L263.5 747.3 L261.9 747.3 L260.2 747.3 L260.2 743.8 L256.8 743.8 L256.8 740.3 L253.5 740.3 L253.5 736.8 L251.8 736.8 L250.2 736.8 L250.2 732.8 L247 732.8 L247 728.9 L243.8 728.9 L243.8 725 L242.2 725 L240.7 725 L240.7 721.8 L237.8 721.8 L237.8 718.5 L234.9 718.5 L234.9 715.3 L233.4 715.3Z"/></clipPath>
<path d="M233.4 715.3 L234.5 715.3 L234.5 716.9 L236.7 716.9 L236.7 718.4 L238.9 718.4 L238.9 719.9 L241.1 719.9 L241.1 721.5 L242.2 721.5 L243.4 721.5 L243.4 722.9 L245.8 722.9 L245.8 724.3 L248.2 724.3 L248.2 725.7 L250.6 725.7 L250.6 727.2 L251.8 727.2 L252.8 727.2 L252.8 729.3 L254.8 729.3 L254.8 731.4 L256.8 731.4 L256.8 733.5 L258.8 733.5 L258.8 735.6 L260.9 735.6 L260.9 737.7 L261.9 737.7 L262.9 737.7 L262.9 739.8 L264.9 739.8 L264.9 741.9 L266.9 741.9 L266.9 744 L268.9 744 L268.9 746.1 L270.9 746.1 L270.9 748.2 L271.9 748.2 L272.9 748.2 L272.9 749.8 L275 749.8 L275 751.5 L277 751.5 L277 753.2 L279 753.2 L279 754.8 L281 754.8 L281 756.5 L282 756.5 L283 756.5 L283 757.9 L285 757.9 L285 759.3 L287 759.3 L287 760.7 L289.1 760.7 L289.1 762.1 L291.1 762.1 L291.1 763.5 L292.1 763.5 L293.1 763.5 L293.1 764.7 L295 764.7 L295 765.9 L297 765.9 L297 767.1 L299 767.1 L299 768.3 L300 768.3 L301.1 768.3 L301.1 772.7 L302.2 772.7 L303.2 772.7 L303.2 775.8 L305.4 775.8 L305.4 778.8 L306.5 778.8 L307.8 778.8 L307.8 780.6 L310.5 780.6 L310.5 782.3 L311.8 782.3 L313 782.3 L313 785 L315.4 785 L315.4 787.6 L316.6 787.6 L317.8 787.6 L317.8 788 L320.2 788 L320.2 788.5 L322.5 788.5 L322.5 788.9 L324.9 788.9 L324.9 789.3 L327.2 789.3 L327.2 789.8 L328.4 789.8 L329.6 789.8 L329.6 791.7 L331.9 791.7 L331.9 793.6 L334.3 793.6 L334.3 795.5 L335.4 795.5 L336.4 795.5 L336.4 797.5 L338.3 797.5 L338.3 799.6 L340.2 799.6 L340.2 801.6 L341.1 801.6 L342.2 801.6 L342.2 802.5 L344.3 802.5 L344.3 803.4 L346.3 803.4 L346.3 804.2 L348.4 804.2 L348.4 805.1 L349.5 805.1 L350.6 805.1 L350.6 805.3 L352.9 805.3 L352.9 805.5 L355.2 805.5 L355.2 805.8 L357.5 805.8 L357.5 806 L358.7 806 L359.5 806 L359.5 809.1 L361.3 809.1 L361.3 812.1 L362.2 812.1 L363 812.1 L363 817.4 L363.9 817.4 L376.2 817.4 L376.2 825.3 L385.8 825.3 L385.8 834 L392.4 834 L392.4 841.9 L464.6 841.9" fill="none" stroke="#e4272d" stroke-width="1.25"/>
<path d="M233.4 715.3 L234.5 715.3 L234.5 716.9 L236.7 716.9 L236.7 718.4 L238.9 718.4 L238.9 719.9 L241.1 719.9 L241.1 721.5 L242.2 721.5 L243.4 721.5 L243.4 722.9 L245.8 722.9 L245.8 724.3 L248.2 724.3 L248.2 725.7 L250.6 725.7 L250.6 727.2 L251.8 727.2 L252.8 727.2 L252.8 729.3 L254.8 729.3 L254.8 731.4 L256.8 731.4 L256.8 733.5 L258.8 733.5 L258.8 735.6 L260.9 735.6 L260.9 737.7 L261.9 737.7 L262.9 737.7 L262.9 739.8 L264.9 739.8 L264.9 741.9 L266.9 741.9 L266.9 744 L268.9 744 L268.9 746.1 L270.9 746.1 L270.9 748.2 L271.9 748.2 L272.9 748.2 L272.9 749.8 L275 749.8 L275 751.5 L277 751.5 L277 753.2 L279 753.2 L279 754.8 L281 754.8 L281 756.5 L282 756.5 L283 756.5 L283 757.9 L285 757.9 L285 759.3 L287 759.3 L287 760.7 L289.1 760.7 L289.1 762.1 L291.1 762.1 L291.1 763.5 L292.1 763.5 L293.1 763.5 L293.1 764.7 L295 764.7 L295 765.9 L297 765.9 L297 767.1 L299 767.1 L299 768.3 L300 768.3 L301.1 768.3 L301.1 772.7 L302.2 772.7 L303.2 772.7 L303.2 775.8 L305.4 775.8 L305.4 778.8 L306.5 778.8 L307.8 778.8 L307.8 780.6 L310.5 780.6 L310.5 782.3 L311.8 782.3 L313 782.3 L313 785 L315.4 785 L315.4 787.6 L316.6 787.6 L317.8 787.6 L317.8 788" fill="none" stroke="#e4272d" stroke-width="2.1" stroke-linejoin="round"/>
<path d="M233.6 716.9h4M235.6 714.9v4M236 718.6h4M238 716.6v4M247.5 725.8h4M249.5 723.8v4M246.3 725.1h4M248.3 723.1v4M251.8 729.3h4M253.8 727.3v4M250.2 727.6h4M252.2 725.6v4M265.1 743.2h4M267.1 741.2v4M261.9 739.8h4M263.9 737.8v4M275.9 753.1h4M277.9 751.1v4M270.3 748.5h4M272.3 746.5v4M288.1 762.2h4M290.1 760.2v4M283.8 759.1h4M285.8 757.1v4M292.6 765h4M294.6 763v4M295.3 766.7h4M297.3 764.7v4M304.1 778.3h4M306.1 776.3v4M305.6 779.6h4M307.6 777.6v4M312.4 785.2h4M314.4 783.2v4M325.5 789.6h4M327.5 787.6v4M317.9 788.2h4M319.9 786.2v4M316.5 787.9h4M318.5 785.9v4M328.8 791.7h4M330.8 789.7v4M327.9 790.9h4M329.9 788.9v4M337.4 799.7h4M339.4 797.7v4M462.6 841.9h4M464.6 839.9v4" stroke="#e4272d" stroke-width="1"/>
<path d="M233.4 715.3 L234.6 715.3 L234.6 716.1 L236.9 716.1 L236.9 716.9 L239.2 716.9 L239.2 717.7 L241.6 717.7 L241.6 718.5 L243.9 718.5 L243.9 719.3 L246.2 719.3 L246.2 720.1 L247.4 720.1 L248.5 720.1 L248.5 721.9 L250.7 721.9 L250.7 723.6 L252.9 723.6 L252.9 725.4 L255.1 725.4 L255.1 727.2 L257.3 727.2 L257.3 728.9 L259.5 728.9 L259.5 730.7 L261.6 730.7 L261.6 732.4 L262.7 732.4 L263.8 732.4 L263.8 733.9 L266 733.9 L266 735.4 L268.2 735.4 L268.2 736.9 L270.4 736.9 L270.4 738.4 L272.6 738.4 L272.6 739.9 L273.7 739.9 L274.8 739.9 L274.8 742 L277 742 L277 744.2 L279.2 744.2 L279.2 746.4 L281.4 746.4 L281.4 748.6 L283.5 748.6 L283.5 750.8 L284.6 750.8 L285.7 750.8 L285.7 752.6 L287.9 752.6 L287.9 754.3 L290.1 754.3 L290.1 756.1 L292.3 756.1 L292.3 757.8 L294.5 757.8 L294.5 759.6 L295.6 759.6 L296.7 759.6 L296.7 761.8 L298.9 761.8 L298.9 763.9 L301.1 763.9 L301.1 766.1 L302.2 766.1 L303.2 766.1 L303.2 766.4 L305.4 766.4 L305.4 766.7 L307.6 766.7 L307.6 766.9 L309.8 766.9 L309.8 767.2 L312 767.2 L312 767.4 L313.1 767.4 L314.2 767.4 L314.2 769.6 L316.4 769.6 L316.4 771.8 L318.6 771.8 L318.6 774 L319.7 774 L320.8 774 L320.8 774.1 L323 774.1 L323 774.1 L325.1 774.1 L325.1 774.2 L327.3 774.2 L327.3 774.3 L329.5 774.3 L329.5 774.3 L331.7 774.3 L331.7 774.4 L333.9 774.4 L333.9 774.5 L335 774.5 L335.9 774.5 L335.9 779.1 L337.6 779.1 L337.6 783.7 L338.5 783.7 L339.6 783.7 L339.6 783.7 L341.8 783.7 L341.8 783.7 L344 783.7 L344 783.7 L346.2 783.7 L346.2 783.7 L348.4 783.7 L348.4 783.8 L350.5 783.8 L350.5 783.8 L352.7 783.8 L352.7 783.8 L354.9 783.8 L354.9 783.8 L357.1 783.8 L357.1 783.9 L359.3 783.9 L359.3 783.9 L361.5 783.9 L361.5 783.9 L363.7 783.9 L363.7 783.9 L365.9 783.9 L365.9 784 L368.1 784 L368.1 784 L370.3 784 L370.3 784 L372.4 784 L372.4 784 L374.6 784 L374.6 784 L376.8 784 L376.8 784.1 L379 784.1 L379 784.1 L380.1 784.1 L380.1 798.5 L393.3 798.5 L393.3 807.3 L402.4 807.3 L402.4 815.6 L419.5 815.6 L419.5 827 L433.5 827" fill="none" stroke="#2d4f9e" stroke-width="1.25"/>
<path d="M233.4 715.3 L234.6 715.3 L234.6 716.1 L236.9 716.1 L236.9 716.9 L239.2 716.9 L239.2 717.7 L241.6 717.7 L241.6 718.5 L243.9 718.5 L243.9 719.3 L246.2 719.3 L246.2 720.1 L247.4 720.1 L248.5 720.1 L248.5 721.9 L250.7 721.9 L250.7 723.6 L252.9 723.6 L252.9 725.4 L255.1 725.4 L255.1 727.2 L257.3 727.2 L257.3 728.9 L259.5 728.9 L259.5 730.7 L261.6 730.7 L261.6 732.4 L262.7 732.4 L263.8 732.4 L263.8 733.9 L266 733.9 L266 735.4 L268.2 735.4 L268.2 736.9 L270.4 736.9 L270.4 738.4 L272.6 738.4 L272.6 739.9 L273.7 739.9 L274.8 739.9 L274.8 742 L277 742 L277 744.2 L279.2 744.2 L279.2 746.4 L281.4 746.4 L281.4 748.6 L283.5 748.6 L283.5 750.8 L284.6 750.8 L285.7 750.8 L285.7 752.6 L287.9 752.6 L287.9 754.3 L290.1 754.3 L290.1 756.1 L292.3 756.1 L292.3 757.8 L294.5 757.8 L294.5 759.6 L295.6 759.6 L296.7 759.6 L296.7 761.8 L298.9 761.8 L298.9 763.9 L301.1 763.9 L301.1 766.1 L302.2 766.1 L303.2 766.1 L303.2 766.4 L305.4 766.4 L305.4 766.7 L307.6 766.7 L307.6 766.9 L309.8 766.9 L309.8 767.2 L312 767.2 L312 767.4 L313.1 767.4 L314.2 767.4 L314.2 769.6 L316.4 769.6 L316.4 771.8" fill="none" stroke="#2d4f9e" stroke-width="2.1" stroke-linejoin="round"/>
<path d="M233.4 715.3 L234.6 715.3 L234.6 716.1 L236.9 716.1 L236.9 716.9 L239.2 716.9 L239.2 717.7 L241.6 717.7 L241.6 718.5 L243.9 718.5 L243.9 719.3 L246.2 719.3 L246.2 720.1 L247.4 720.1 L248.5 720.1 L248.5 721.9 L250.7 721.9 L250.7 723.6 L252.9 723.6 L252.9 725.4 L255.1 725.4 L255.1 727.2 L257.3 727.2 L257.3 728.9 L259.5 728.9 L259.5 730.7 L261.6 730.7 L261.6 732.4 L262.7 732.4 L263.8 732.4 L263.8 733.9 L266 733.9 L266 735.4 L268.2 735.4 L268.2 736.9 L270.4 736.9 L270.4 738.4 L272.6 738.4 L272.6 739.9 L273.7 739.9 L274.8 739.9 L274.8 742 L277 742 L277 744.2 L279.2 744.2 L279.2 746.4 L281.4 746.4 L281.4 748.6 L283.5 748.6 L283.5 750.8 L284.6 750.8 L285.7 750.8 L285.7 752.6 L287.9 752.6 L287.9 754.3 L290.1 754.3 L290.1 756.1 L292.3 756.1 L292.3 757.8 L294.5 757.8 L294.5 759.6 L295.6 759.6 L296.7 759.6 L296.7 761.8 L298.9 761.8 L298.9 763.9 L301.1 763.9 L301.1 766.1 L302.2 766.1 L303.2 766.1 L303.2 766.4 L305.4 766.4 L305.4 766.7 L307.6 766.7 L307.6 766.9 L309.8 766.9 L309.8 767.2 L312 767.2 L312 767.4 L313.1 767.4 L314.2 767.4 L314.2 769.6 L316.4 769.6 L316.4 771.8 L318.6 771.8 L318.6 774 L319.7 774 L320.8 774 L320.8 774.1 L323 774.1 L323 774.1 L325.1 774.1 L325.1 774.2 L327.3 774.2 L327.3 774.3 L329.5 774.3 L329.5 774.3 L331.7 774.3 L331.7 774.4 L333.9 774.4 L333.9 774.5 L335 774.5 L335.9 774.5 L335.9 779.1 L337.6 779.1 L337.6 783.7 L338.5 783.7 L339.6 783.7 L339.6 783.7 L341.8 783.7 L341.8 783.7 L344 783.7 L344 783.7 L346.2 783.7 L346.2 783.7 L348.4 783.7 L348.4 783.8 L350.5 783.8 L350.5 783.8 L352.7 783.8 L352.7 783.8 L354.9 783.8 L354.9 783.8 L357.1 783.8 L357.1 783.9 L359.3 783.9 L359.3 783.9 L361.5 783.9 L361.5 783.9 L363.7 783.9 L363.7 783.9 L365.9 783.9 L365.9 784 L368.1 784 L368.1 784 L370.3 784 L370.3 784 L372.4 784 L372.4 784 L374.6 784 L374.6 784 L376.8 784 L376.8 784.1 L379 784.1 L379 784.1 L380.1 784.1 L380.1 798.5 L393.3 798.5 L393.3 807.3 L402.4 807.3 L402.4 815.6 L419.5 815.6 L419.5 827 L433.5 827" fill="none" stroke="#4f3f8f" stroke-width="1.25" clip-path="url(#rcD)"/>
<path d="M243.1 719.4h4M245.1 717.4v4M231.5 715.4h4M233.5 713.4v4M234.6 716.4h4M236.6 714.4v4M233 715.9h4M235 713.9v4M256.4 728.9h4M258.4 726.9v4M250.2 724h4M252.2 722v4M254.2 727.2h4M256.2 725.2v4M246.2 720.8h4M248.2 718.8v4M263.9 734.6h4M265.9 732.6v4M271.2 739.5h4M273.2 737.5v4M270.7 739.2h4M272.7 737.2v4M275.5 743.7h4M277.5 741.7v4M279.2 747.3h4M281.2 745.3v4M276.6 744.8h4M278.6 742.8v4M288.2 755.3h4M290.2 753.3v4M288.8 755.7h4M290.8 753.7v4M291.1 757.6h4M293.1 755.6v4M297 763h4M299 761v4M308.8 767.2h4M310.8 765.2v4M302 766.4h4M304 764.4v4M310.7 767.4h4M312.7 765.4v4M311.9 768.2h4M313.9 766.2v4M329.4 774.3h4M331.4 772.3v4M326.2 774.3h4M328.2 772.3v4M333.2 775h4M335.2 773v4M431.5 827h4M433.5 825v4M344.4 783.7h4M346.4 781.7v4M366.3 784.1h4M368.3 782.1v4M392.6 807.3h4M394.6 805.3v4M418.8 827h4M420.8 825v4" stroke="#2d4f9e" stroke-width="1"/>
<rect x="363.4" y="684.3" width="11.5" height="11.4" fill="#f6c8b0"/>
<rect x="396.8" y="684.3" width="11.5" height="11.4" fill="#c1c5e3"/>
<path d="M364.4 690h9.5M369.1 688.3v3.4" stroke="#e4272d" stroke-width="1.1"/>
<text x="378.7" y="693" font-size="7" fill="#1a1a1a" stroke="#1a1a1a" stroke-width="0.22">high</text>
<path d="M397.8 690h9.5M402.6 688.3v3.4" stroke="#2d4f9e" stroke-width="1.1"/>
<text x="412.1" y="693" font-size="7" fill="#1a1a1a" stroke="#1a1a1a" stroke-width="0.22">low</text>
<path d="M220.2 708.5V856.3H509" fill="none" stroke="#000" stroke-width="0.9"/>
<line x1="218" y1="849.8" x2="220.2" y2="849.8" stroke="#000" stroke-width="0.9"/>
<text x="216.9" y="852.8" text-anchor="end" font-size="8.6" fill="#1a1a1a" stroke="#1a1a1a" stroke-width="0.22">0.00</text>
<line x1="218" y1="816.2" x2="220.2" y2="816.2" stroke="#000" stroke-width="0.9"/>
<text x="216.9" y="819.2" text-anchor="end" font-size="8.6" fill="#1a1a1a" stroke="#1a1a1a" stroke-width="0.22">0.25</text>
<line x1="218" y1="782.5" x2="220.2" y2="782.5" stroke="#000" stroke-width="0.9"/>
<text x="216.9" y="785.5" text-anchor="end" font-size="8.6" fill="#1a1a1a" stroke="#1a1a1a" stroke-width="0.22">0.50</text>
<line x1="218" y1="748.9" x2="220.2" y2="748.9" stroke="#000" stroke-width="0.9"/>
<text x="216.9" y="751.9" text-anchor="end" font-size="8.6" fill="#1a1a1a" stroke="#1a1a1a" stroke-width="0.22">0.75</text>
<line x1="218" y1="715.3" x2="220.2" y2="715.3" stroke="#000" stroke-width="0.9"/>
<text x="216.9" y="718.3" text-anchor="end" font-size="8.6" fill="#1a1a1a" stroke="#1a1a1a" stroke-width="0.22">1.00</text>
<line x1="233.4" y1="856.3" x2="233.4" y2="858.5" stroke="#000" stroke-width="0.9"/>
<text x="233.4" y="866.6" text-anchor="middle" font-size="8.8" fill="#1a1a1a" stroke="#1a1a1a" stroke-width="0.22">0</text>
<line x1="246.5" y1="856.3" x2="246.5" y2="858.5" stroke="#000" stroke-width="0.9"/>
<text x="246.5" y="866.6" text-anchor="middle" font-size="8.8" fill="#1a1a1a" stroke="#1a1a1a" stroke-width="0.22">1</text>
<line x1="259.6" y1="856.3" x2="259.6" y2="858.5" stroke="#000" stroke-width="0.9"/>
<text x="259.6" y="866.6" text-anchor="middle" font-size="8.8" fill="#1a1a1a" stroke="#1a1a1a" stroke-width="0.22">2</text>
<line x1="272.7" y1="856.3" x2="272.7" y2="858.5" stroke="#000" stroke-width="0.9"/>
<text x="272.7" y="866.6" text-anchor="middle" font-size="8.8" fill="#1a1a1a" stroke="#1a1a1a" stroke-width="0.22">3</text>
<line x1="285.8" y1="856.3" x2="285.8" y2="858.5" stroke="#000" stroke-width="0.9"/>
<text x="285.8" y="866.6" text-anchor="middle" font-size="8.8" fill="#1a1a1a" stroke="#1a1a1a" stroke-width="0.22">4</text>
<line x1="298.9" y1="856.3" x2="298.9" y2="858.5" stroke="#000" stroke-width="0.9"/>
<text x="298.9" y="866.6" text-anchor="middle" font-size="8.8" fill="#1a1a1a" stroke="#1a1a1a" stroke-width="0.22">5</text>
<line x1="312" y1="856.3" x2="312" y2="858.5" stroke="#000" stroke-width="0.9"/>
<text x="312" y="866.6" text-anchor="middle" font-size="8.8" fill="#1a1a1a" stroke="#1a1a1a" stroke-width="0.22">6</text>
<line x1="325.1" y1="856.3" x2="325.1" y2="858.5" stroke="#000" stroke-width="0.9"/>
<text x="325.1" y="866.6" text-anchor="middle" font-size="8.8" fill="#1a1a1a" stroke="#1a1a1a" stroke-width="0.22">7</text>
<line x1="338.2" y1="856.3" x2="338.2" y2="858.5" stroke="#000" stroke-width="0.9"/>
<text x="338.2" y="866.6" text-anchor="middle" font-size="8.8" fill="#1a1a1a" stroke="#1a1a1a" stroke-width="0.22">8</text>
<line x1="351.3" y1="856.3" x2="351.3" y2="858.5" stroke="#000" stroke-width="0.9"/>
<text x="351.3" y="866.6" text-anchor="middle" font-size="8.8" fill="#1a1a1a" stroke="#1a1a1a" stroke-width="0.22">9</text>
<line x1="364.4" y1="856.3" x2="364.4" y2="858.5" stroke="#000" stroke-width="0.9"/>
<text x="364.4" y="866.6" text-anchor="middle" font-size="8.8" fill="#1a1a1a" stroke="#1a1a1a" stroke-width="0.22">10</text>
<line x1="377.5" y1="856.3" x2="377.5" y2="858.5" stroke="#000" stroke-width="0.9"/>
<text x="377.5" y="866.6" text-anchor="middle" font-size="8.8" fill="#1a1a1a" stroke="#1a1a1a" stroke-width="0.22">11</text>
<line x1="390.6" y1="856.3" x2="390.6" y2="858.5" stroke="#000" stroke-width="0.9"/>
<text x="390.6" y="866.6" text-anchor="middle" font-size="8.8" fill="#1a1a1a" stroke="#1a1a1a" stroke-width="0.22">12</text>
<line x1="403.7" y1="856.3" x2="403.7" y2="858.5" stroke="#000" stroke-width="0.9"/>
<text x="403.7" y="866.6" text-anchor="middle" font-size="8.8" fill="#1a1a1a" stroke="#1a1a1a" stroke-width="0.22">13</text>
<line x1="416.8" y1="856.3" x2="416.8" y2="858.5" stroke="#000" stroke-width="0.9"/>
<text x="416.8" y="866.6" text-anchor="middle" font-size="8.8" fill="#1a1a1a" stroke="#1a1a1a" stroke-width="0.22">14</text>
<line x1="429.9" y1="856.3" x2="429.9" y2="858.5" stroke="#000" stroke-width="0.9"/>
<text x="429.9" y="866.6" text-anchor="middle" font-size="8.8" fill="#1a1a1a" stroke="#1a1a1a" stroke-width="0.22">15</text>
<line x1="443" y1="856.3" x2="443" y2="858.5" stroke="#000" stroke-width="0.9"/>
<text x="443" y="866.6" text-anchor="middle" font-size="8.8" fill="#1a1a1a" stroke="#1a1a1a" stroke-width="0.22">16</text>
<line x1="456.1" y1="856.3" x2="456.1" y2="858.5" stroke="#000" stroke-width="0.9"/>
<text x="456.1" y="866.6" text-anchor="middle" font-size="8.8" fill="#1a1a1a" stroke="#1a1a1a" stroke-width="0.22">17</text>
<line x1="469.2" y1="856.3" x2="469.2" y2="858.5" stroke="#000" stroke-width="0.9"/>
<text x="469.2" y="866.6" text-anchor="middle" font-size="8.8" fill="#1a1a1a" stroke="#1a1a1a" stroke-width="0.22">18</text>
<line x1="482.3" y1="856.3" x2="482.3" y2="858.5" stroke="#000" stroke-width="0.9"/>
<text x="482.3" y="866.6" text-anchor="middle" font-size="8.8" fill="#1a1a1a" stroke="#1a1a1a" stroke-width="0.22">19</text>
<line x1="495.4" y1="856.3" x2="495.4" y2="858.5" stroke="#000" stroke-width="0.9"/>
<text x="495.4" y="866.6" text-anchor="middle" font-size="8.8" fill="#1a1a1a" stroke="#1a1a1a" stroke-width="0.22">20</text>
<text x="364.4" y="877.8" text-anchor="middle" font-size="9.6" fill="#000" stroke="#000" stroke-width="0.22">Time(years)</text>
<text transform="translate(196.2 782.5) rotate(-90)" text-anchor="middle" font-size="9.7" fill="#000" stroke="#000" stroke-width="0.22">Survival probability</text>
<text x="238" y="828" font-size="12" fill="#000" stroke="#000" stroke-width="0.22">p=0.012</text>
<path d="M220.2 903.3V925.9H509" fill="none" stroke="#000" stroke-width="0.9"/>
<line x1="218" y1="908.7" x2="220.2" y2="908.7" stroke="#000" stroke-width="0.9"/>
<text x="216.9" y="911.3" text-anchor="end" font-size="8.2" fill="#e4272d" stroke="#e4272d" stroke-width="0.22">high</text>
<line x1="218" y1="919.3" x2="220.2" y2="919.3" stroke="#000" stroke-width="0.9"/>
<text x="216.9" y="921.9" text-anchor="end" font-size="8.2" fill="#2d4f9e" stroke="#2d4f9e" stroke-width="0.22">low</text>
<text x="233.4" y="911.9" text-anchor="middle" font-size="9" fill="#1a1a1a" stroke="#1a1a1a" stroke-width="0.22">254</text>
<text x="246.5" y="911.9" text-anchor="middle" font-size="9" fill="#1a1a1a" stroke="#1a1a1a" stroke-width="0.22">194</text>
<text x="259.6" y="911.9" text-anchor="middle" font-size="9" fill="#1a1a1a" stroke="#1a1a1a" stroke-width="0.22">115</text>
<text x="272.7" y="911.9" text-anchor="middle" font-size="9" fill="#1a1a1a" stroke="#1a1a1a" stroke-width="0.22">75</text>
<text x="285.8" y="911.9" text-anchor="middle" font-size="9" fill="#1a1a1a" stroke="#1a1a1a" stroke-width="0.22">43</text>
<text x="298.9" y="911.9" text-anchor="middle" font-size="9" fill="#1a1a1a" stroke="#1a1a1a" stroke-width="0.22">33</text>
<text x="312" y="911.9" text-anchor="middle" font-size="9" fill="#1a1a1a" stroke="#1a1a1a" stroke-width="0.22">25</text>
<text x="325.1" y="911.9" text-anchor="middle" font-size="9" fill="#1a1a1a" stroke="#1a1a1a" stroke-width="0.22">20</text>
<text x="338.2" y="911.9" text-anchor="middle" font-size="9" fill="#1a1a1a" stroke="#1a1a1a" stroke-width="0.22">13</text>
<text x="351.3" y="911.9" text-anchor="middle" font-size="9" fill="#1a1a1a" stroke="#1a1a1a" stroke-width="0.22">8</text>
<text x="364.4" y="911.9" text-anchor="middle" font-size="9" fill="#1a1a1a" stroke="#1a1a1a" stroke-width="0.22">5</text>
<text x="377.5" y="911.9" text-anchor="middle" font-size="9" fill="#1a1a1a" stroke="#1a1a1a" stroke-width="0.22">3</text>
<text x="390.6" y="911.9" text-anchor="middle" font-size="9" fill="#1a1a1a" stroke="#1a1a1a" stroke-width="0.22">2</text>
<text x="403.7" y="911.9" text-anchor="middle" font-size="9" fill="#1a1a1a" stroke="#1a1a1a" stroke-width="0.22">1</text>
<text x="416.8" y="911.9" text-anchor="middle" font-size="9" fill="#1a1a1a" stroke="#1a1a1a" stroke-width="0.22">1</text>
<text x="429.9" y="911.9" text-anchor="middle" font-size="9" fill="#1a1a1a" stroke="#1a1a1a" stroke-width="0.22">1</text>
<text x="443" y="911.9" text-anchor="middle" font-size="9" fill="#1a1a1a" stroke="#1a1a1a" stroke-width="0.22">1</text>
<text x="456.1" y="911.9" text-anchor="middle" font-size="9" fill="#1a1a1a" stroke="#1a1a1a" stroke-width="0.22">1</text>
<text x="469.2" y="911.9" text-anchor="middle" font-size="9" fill="#1a1a1a" stroke="#1a1a1a" stroke-width="0.22">0</text>
<text x="482.3" y="911.9" text-anchor="middle" font-size="9" fill="#1a1a1a" stroke="#1a1a1a" stroke-width="0.22">0</text>
<text x="495.4" y="911.9" text-anchor="middle" font-size="9" fill="#1a1a1a" stroke="#1a1a1a" stroke-width="0.22">0</text>
<text x="233.4" y="922.5" text-anchor="middle" font-size="9" fill="#1a1a1a" stroke="#1a1a1a" stroke-width="0.22">254</text>
<text x="246.5" y="922.5" text-anchor="middle" font-size="9" fill="#1a1a1a" stroke="#1a1a1a" stroke-width="0.22">196</text>
<text x="259.6" y="922.5" text-anchor="middle" font-size="9" fill="#1a1a1a" stroke="#1a1a1a" stroke-width="0.22">123</text>
<text x="272.7" y="922.5" text-anchor="middle" font-size="9" fill="#1a1a1a" stroke="#1a1a1a" stroke-width="0.22">80</text>
<text x="285.8" y="922.5" text-anchor="middle" font-size="9" fill="#1a1a1a" stroke="#1a1a1a" stroke-width="0.22">45</text>
<text x="298.9" y="922.5" text-anchor="middle" font-size="9" fill="#1a1a1a" stroke="#1a1a1a" stroke-width="0.22">31</text>
<text x="312" y="922.5" text-anchor="middle" font-size="9" fill="#1a1a1a" stroke="#1a1a1a" stroke-width="0.22">26</text>
<text x="325.1" y="922.5" text-anchor="middle" font-size="9" fill="#1a1a1a" stroke="#1a1a1a" stroke-width="0.22">20</text>
<text x="338.2" y="922.5" text-anchor="middle" font-size="9" fill="#1a1a1a" stroke="#1a1a1a" stroke-width="0.22">11</text>
<text x="351.3" y="922.5" text-anchor="middle" font-size="9" fill="#1a1a1a" stroke="#1a1a1a" stroke-width="0.22">11</text>
<text x="364.4" y="922.5" text-anchor="middle" font-size="9" fill="#1a1a1a" stroke="#1a1a1a" stroke-width="0.22">11</text>
<text x="377.5" y="922.5" text-anchor="middle" font-size="9" fill="#1a1a1a" stroke="#1a1a1a" stroke-width="0.22">9</text>
<text x="390.6" y="922.5" text-anchor="middle" font-size="9" fill="#1a1a1a" stroke="#1a1a1a" stroke-width="0.22">6</text>
<text x="403.7" y="922.5" text-anchor="middle" font-size="9" fill="#1a1a1a" stroke="#1a1a1a" stroke-width="0.22">4</text>
<text x="416.8" y="922.5" text-anchor="middle" font-size="9" fill="#1a1a1a" stroke="#1a1a1a" stroke-width="0.22">3</text>
<text x="429.9" y="922.5" text-anchor="middle" font-size="9" fill="#1a1a1a" stroke="#1a1a1a" stroke-width="0.22">1</text>
<text x="443" y="922.5" text-anchor="middle" font-size="9" fill="#1a1a1a" stroke="#1a1a1a" stroke-width="0.22">0</text>
<text x="456.1" y="922.5" text-anchor="middle" font-size="9" fill="#1a1a1a" stroke="#1a1a1a" stroke-width="0.22">0</text>
<text x="469.2" y="922.5" text-anchor="middle" font-size="9" fill="#1a1a1a" stroke="#1a1a1a" stroke-width="0.22">0</text>
<text x="482.3" y="922.5" text-anchor="middle" font-size="9" fill="#1a1a1a" stroke="#1a1a1a" stroke-width="0.22">0</text>
<text x="495.4" y="922.5" text-anchor="middle" font-size="9" fill="#1a1a1a" stroke="#1a1a1a" stroke-width="0.22">0</text>
<line x1="233.4" y1="925.9" x2="233.4" y2="928.1" stroke="#000" stroke-width="0.9"/>
<text x="233.4" y="935.9" text-anchor="middle" font-size="8.8" fill="#1a1a1a" stroke="#1a1a1a" stroke-width="0.22">0</text>
<line x1="246.5" y1="925.9" x2="246.5" y2="928.1" stroke="#000" stroke-width="0.9"/>
<text x="246.5" y="935.9" text-anchor="middle" font-size="8.8" fill="#1a1a1a" stroke="#1a1a1a" stroke-width="0.22">1</text>
<line x1="259.6" y1="925.9" x2="259.6" y2="928.1" stroke="#000" stroke-width="0.9"/>
<text x="259.6" y="935.9" text-anchor="middle" font-size="8.8" fill="#1a1a1a" stroke="#1a1a1a" stroke-width="0.22">2</text>
<line x1="272.7" y1="925.9" x2="272.7" y2="928.1" stroke="#000" stroke-width="0.9"/>
<text x="272.7" y="935.9" text-anchor="middle" font-size="8.8" fill="#1a1a1a" stroke="#1a1a1a" stroke-width="0.22">3</text>
<line x1="285.8" y1="925.9" x2="285.8" y2="928.1" stroke="#000" stroke-width="0.9"/>
<text x="285.8" y="935.9" text-anchor="middle" font-size="8.8" fill="#1a1a1a" stroke="#1a1a1a" stroke-width="0.22">4</text>
<line x1="298.9" y1="925.9" x2="298.9" y2="928.1" stroke="#000" stroke-width="0.9"/>
<text x="298.9" y="935.9" text-anchor="middle" font-size="8.8" fill="#1a1a1a" stroke="#1a1a1a" stroke-width="0.22">5</text>
<line x1="312" y1="925.9" x2="312" y2="928.1" stroke="#000" stroke-width="0.9"/>
<text x="312" y="935.9" text-anchor="middle" font-size="8.8" fill="#1a1a1a" stroke="#1a1a1a" stroke-width="0.22">6</text>
<line x1="325.1" y1="925.9" x2="325.1" y2="928.1" stroke="#000" stroke-width="0.9"/>
<text x="325.1" y="935.9" text-anchor="middle" font-size="8.8" fill="#1a1a1a" stroke="#1a1a1a" stroke-width="0.22">7</text>
<line x1="338.2" y1="925.9" x2="338.2" y2="928.1" stroke="#000" stroke-width="0.9"/>
<text x="338.2" y="935.9" text-anchor="middle" font-size="8.8" fill="#1a1a1a" stroke="#1a1a1a" stroke-width="0.22">8</text>
<line x1="351.3" y1="925.9" x2="351.3" y2="928.1" stroke="#000" stroke-width="0.9"/>
<text x="351.3" y="935.9" text-anchor="middle" font-size="8.8" fill="#1a1a1a" stroke="#1a1a1a" stroke-width="0.22">9</text>
<line x1="364.4" y1="925.9" x2="364.4" y2="928.1" stroke="#000" stroke-width="0.9"/>
<text x="364.4" y="935.9" text-anchor="middle" font-size="8.8" fill="#1a1a1a" stroke="#1a1a1a" stroke-width="0.22">10</text>
<line x1="377.5" y1="925.9" x2="377.5" y2="928.1" stroke="#000" stroke-width="0.9"/>
<text x="377.5" y="935.9" text-anchor="middle" font-size="8.8" fill="#1a1a1a" stroke="#1a1a1a" stroke-width="0.22">11</text>
<line x1="390.6" y1="925.9" x2="390.6" y2="928.1" stroke="#000" stroke-width="0.9"/>
<text x="390.6" y="935.9" text-anchor="middle" font-size="8.8" fill="#1a1a1a" stroke="#1a1a1a" stroke-width="0.22">12</text>
<line x1="403.7" y1="925.9" x2="403.7" y2="928.1" stroke="#000" stroke-width="0.9"/>
<text x="403.7" y="935.9" text-anchor="middle" font-size="8.8" fill="#1a1a1a" stroke="#1a1a1a" stroke-width="0.22">13</text>
<line x1="416.8" y1="925.9" x2="416.8" y2="928.1" stroke="#000" stroke-width="0.9"/>
<text x="416.8" y="935.9" text-anchor="middle" font-size="8.8" fill="#1a1a1a" stroke="#1a1a1a" stroke-width="0.22">14</text>
<line x1="429.9" y1="925.9" x2="429.9" y2="928.1" stroke="#000" stroke-width="0.9"/>
<text x="429.9" y="935.9" text-anchor="middle" font-size="8.8" fill="#1a1a1a" stroke="#1a1a1a" stroke-width="0.22">15</text>
<line x1="443" y1="925.9" x2="443" y2="928.1" stroke="#000" stroke-width="0.9"/>
<text x="443" y="935.9" text-anchor="middle" font-size="8.8" fill="#1a1a1a" stroke="#1a1a1a" stroke-width="0.22">16</text>
<line x1="456.1" y1="925.9" x2="456.1" y2="928.1" stroke="#000" stroke-width="0.9"/>
<text x="456.1" y="935.9" text-anchor="middle" font-size="8.8" fill="#1a1a1a" stroke="#1a1a1a" stroke-width="0.22">17</text>
<line x1="469.2" y1="925.9" x2="469.2" y2="928.1" stroke="#000" stroke-width="0.9"/>
<text x="469.2" y="935.9" text-anchor="middle" font-size="8.8" fill="#1a1a1a" stroke="#1a1a1a" stroke-width="0.22">18</text>
<line x1="482.3" y1="925.9" x2="482.3" y2="928.1" stroke="#000" stroke-width="0.9"/>
<text x="482.3" y="935.9" text-anchor="middle" font-size="8.8" fill="#1a1a1a" stroke="#1a1a1a" stroke-width="0.22">19</text>
<line x1="495.4" y1="925.9" x2="495.4" y2="928.1" stroke="#000" stroke-width="0.9"/>
<text x="495.4" y="935.9" text-anchor="middle" font-size="8.8" fill="#1a1a1a" stroke="#1a1a1a" stroke-width="0.22">20</text>
<text x="364.4" y="946.9" text-anchor="middle" font-size="9.6" fill="#000" stroke="#000" stroke-width="0.22">Time(years)</text>
<text transform="translate(196.4 913.8) rotate(-90)" text-anchor="middle" font-size="9.7" fill="#000" stroke="#000" stroke-width="0.22">ESTIMATEScore</text>
</svg></body></html>
